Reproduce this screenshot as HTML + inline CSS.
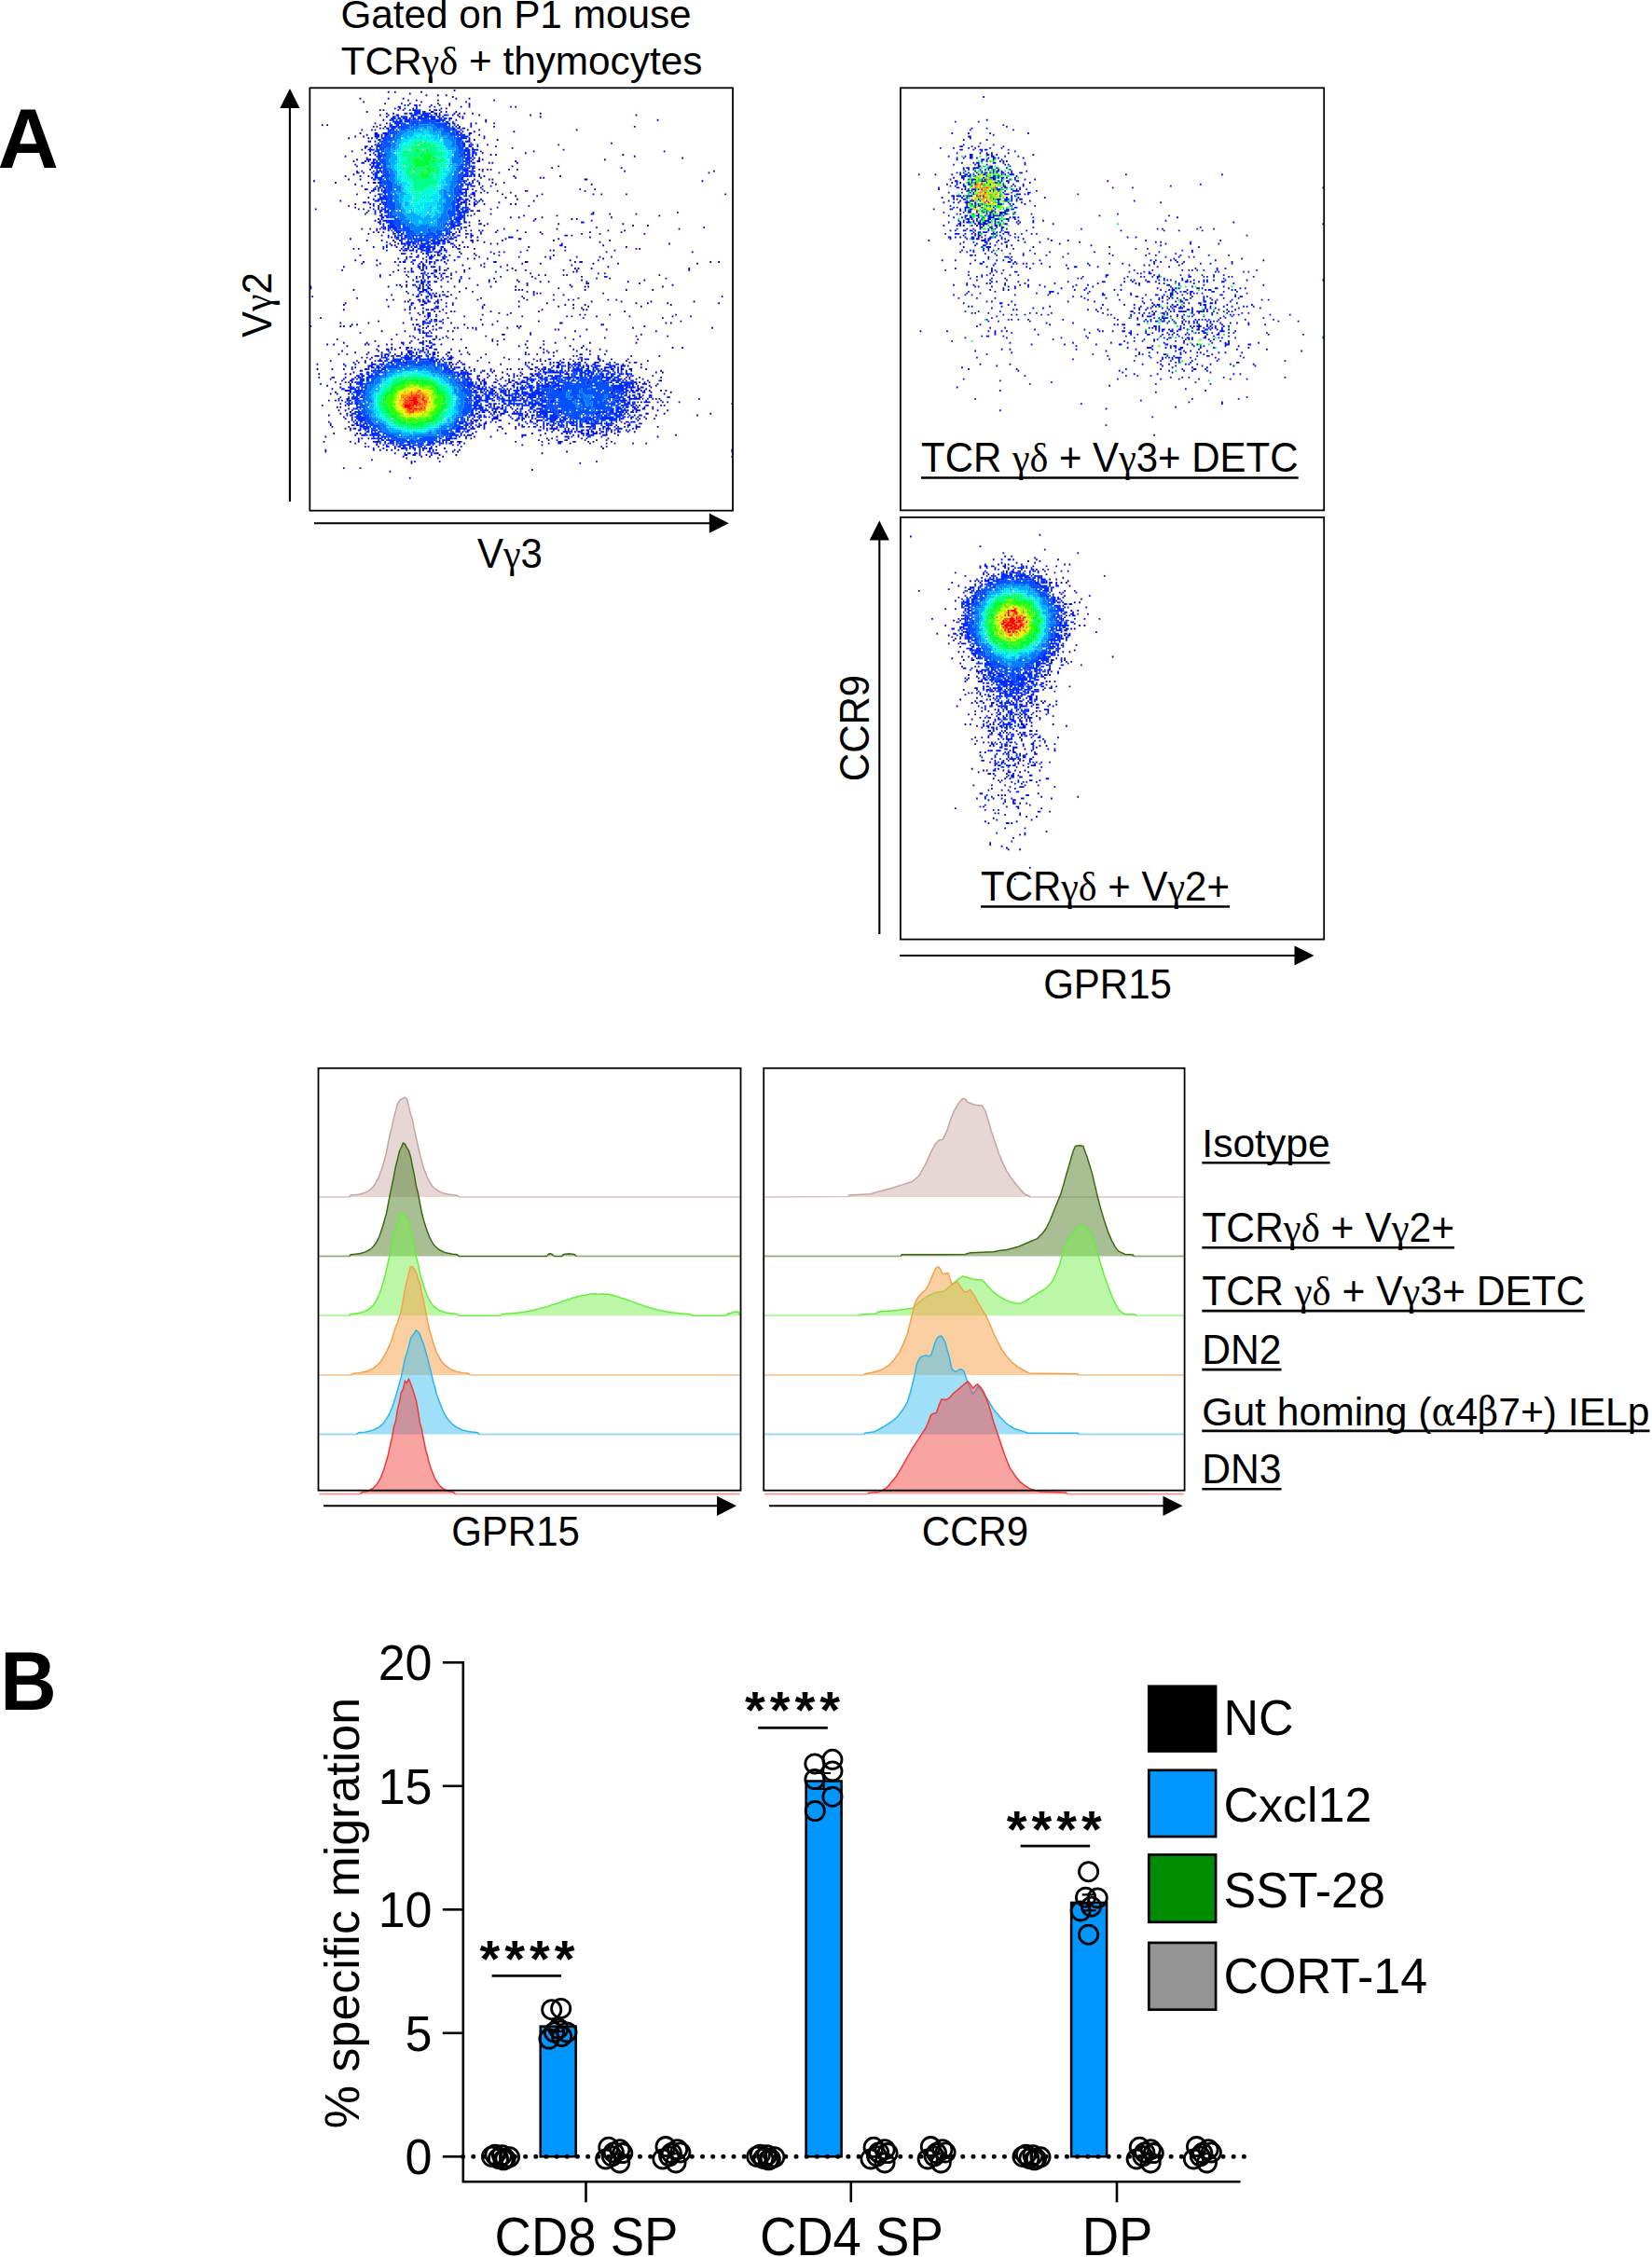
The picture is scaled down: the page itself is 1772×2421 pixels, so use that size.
<!DOCTYPE html>
<html lang="en"><head><meta charset="utf-8"><title>Figure</title>
<style>
html,body{margin:0;padding:0;background:#fff}
svg{display:block}
text{font-family:"Liberation Sans",Arial,sans-serif;fill:#000}
.g{font-family:"Liberation Serif","DejaVu Serif",serif}
.g2{font-family:"DejaVu Serif Condensed","DejaVu Serif","Liberation Serif",serif}
.b{font-weight:bold}
</style></head><body>

<svg width="1772" height="2421" viewBox="0 0 1772 2421">
<rect width="1772" height="2421" fill="#fff"/>
<!-- density plots -->
<g transform="translate(332.50 95.18) scale(1.77227 1.76953)" fill="none" stroke-width="1.06">
<path stroke="#0000be" d="M0 0m87 1h1m-41 1h1m3 0h1m15 0h1m-8 1h1m9 1h1m6 0h1m4 0h1m3 1h1m-57 1h1m16 0h1m8 0h1m31 0h1m7 0h1m-38 1h1m4 0h1m12 0h1m33 0h1m-80 1h1m34 0h1m26 0h1m-50 1h1m9 0h1m4 0h1m16 0h1m6 0h1m-28 1h1m1 0h1m6 0h1m6 0h1m4 0h1m5 0h1m-13 1h1m2 0h1m15 0h1m4 0h1m24 0h1m2 0h1m-74 1h1m5 0h1m21 0h1m2 0h1m-41 1h1m1 0h1m8 0h1m6 0h1m17 0h1m-45 1h1m47 0h1m5 0h1m-43 1h1m3 0h1m6 0h1m29 0h1m2 0h1m2 0h1m4 0h1m40 0h1m-98 1h1m43 0h1m2 0h1m12 0h1m30 0h1m63 0h1m-152 1h1m43 0h1m48 0h1m-96 2h1m43 0h1m17 0h1m103 0h1m-105 1h1m-68 1h1m6 0h1m53 0h1m10 0h1m-105 1h1m2 0h1m31 0h1m-5 1h1m1 0h1m56 0h1m13 0h1m84 0h1m-155 1h1m-12 1h1m5 0h1m1 0h1m55 0h1m6 0h1m58 0h1m-63 1h1m23 0h1m-94 1h1m3 1h1m67 0h1m-76 1h1m4 0h1m-10 1h1m11 0h1m1 0h1m61 1h1m13 0h1m-78 1h1m145 1h1m-76 1h1m42 0h1m-114 1h1m74 0h1m9 1h1m-92 1h1m121 0h1m-129 1h1m109 0h1m78 0h1m-182 1h1m70 0h1m25 0h1m-95 1h1m72 0h1m2 0h1m76 0h1m-169 1h1m174 0h1m-95 1h1m122 0h1m-198 1h1m75 0h1m73 0h1m-153 1h1m6 0h1m90 0h1m-17 1h1m1 0h1m14 0h1m-99 1h1m0 1h1m93 0h1m27 0h1m-5 1h1m41 0h1m-87 1h1m4 0h1m1 0h1m10 0h1m4 0h1m-95 1h1m72 0h1m85 0h1m53 0h1m-131 1h1m126 0h1m-216 1h1m-6 1h1m8 0h1m4 0h1m69 0h1m17 0h1m27 0h1m-115 1h1m65 0h1m20 0h1m14 0h1m1 0h1m-119 1h1m6 0h1m68 0h1m8 0h1m1 0h1m55 0h2m-166 1h1m98 0h1m135 0h1m-223 1h1m19 0h1m74 0h1m6 0h1m-91 1h1m84 0h1m57 0h1m-140 1h1m67 0h1m4 0h1m4 0h1m-7 1h1m-71 1h2m63 0h1m64 0h1m8 0h1m-73 1h1m4 0h1m7 0h1m16 0h1m35 0h1m-131 1h1m66 0h1m3 0h1m13 0h1m-94 1h1m87 0h1m23 0h1m30 0h1m4 0h1m14 0h1m59 0h1m-128 1h1m12 0h1m-103 1h1m61 0h1m20 0h1m-81 1h1m60 0h1m3 0h1m21 0h1m-108 1h1m77 0h1m7 0h1m30 0h1m-103 1h1m1 0h1m78 0h1m-88 1h1m8 0h1m59 0h1m8 0h1m15 0h1m2 0h1m-102 1h1m108 0h1m-106 1h1m8 0h1m76 0h1m-111 1h1m25 0h1m2 0h1m5 0h1m70 0h1m-75 1h1m65 0h2m-69 1h1m187 0h1m-190 1h1m65 0h1m9 0h1m71 0h1m15 0h1m-103 1h1m1 0h1m31 0h1m19 0h1m61 0h1m-91 1h1m4 0h1m13 0h1m41 0h1m-47 1h1m21 0h1m2 0h1m-123 1h1m62 0h1m32 0h1m28 1h1m-58 1h1m42 0h1m38 0h1m-94 1h1m8 0h1m89 0h1m8 0h1m-32 1h1m64 0h1m-208 1h1m4 0h1m52 0h1m27 0h1m31 0h1m73 0h1m-127 1h1m4 0h1m1 0h1m8 0h1m11 0h1m54 0h1m9 0h1m-153 1h1m2 0h1m2 0h1m67 0h1m17 0h1m8 0h1m29 0h1m18 0h1m-154 1h1m58 0h1m45 0h1m23 0h1m10 0h1m26 0h1m-160 1h1m114 0h1m-110 1h1m44 0h1m6 0h1m18 0h1m48 0h1m-146 1h1m93 0h1m7 0h2m22 0h1m-117 1h1m8 0h1m6 0h1m37 0h1m12 0h1m14 0h1m30 0h1m33 0h1m-131 1h1m40 0h1m12 0h1m-58 1h1m4 0h1m55 0h1m3 0h1m103 0h1m-169 1h1m1 0h1m38 0h1m86 0h1m-140 1h1m13 0h1m40 0h1m1 0h1m36 0h1m21 0h1m36 0h1m-166 1h1m2 0h1m69 0h1m97 0h1m1 0h1m-154 1h1m7 0h1m76 0h1m13 0h1m1 0h1m36 0h1m-95 1h1m18 0h1m4 0h1m2 0h1m9 0h1m51 0h1m51 0h1m-141 1h1m7 0h1m11 0h1m-82 1h1m44 0h1m8 0h1m15 0h1m13 0h1m32 0h1m-46 1h1m23 0h1m15 0h1m18 0h1m13 0h1m6 0h1m-130 1h1m14 0h1m26 0h1m3 0h1m7 0h1m37 0h1m31 0h1m-151 1h1m12 0h1m38 0h1m3 0h1m3 0h1m69 0h1m16 0h1m-143 1h1m18 0h1m2 0h1m75 0h2m28 0h1m81 0h1m4 0h1m-217 1h1m10 0h1m19 0h1m42 0h1m22 0h1m10 0h1m31 0h1m14 0h1m47 0h1m-195 1h1m12 0h1m38 0h1m10 0h1m15 0h1m38 0h1m-139 1h1m52 0h1m41 0h1m64 0h1m-124 1h1m25 0h1m12 0h1m25 0h1m37 0h1m1 0h1m7 0h1m58 0h1m-211 1h1m33 0h1m27 0h1m11 0h1m25 0h1m4 0h1m5 0h1m22 0h1m75 0h1m-180 1h1m6 0h1m1 0h1m28 0h1m4 0h1m18 0h1m46 0h1m-82 1h1m6 0h1m47 0h1m40 0h1m3 0h1m-137 1h1m5 0h1m9 0h1m79 0h1m3 0h1m10 0h1m1 0h1m55 0h1m-153 1h1m6 0h1m15 0h1m32 0h1m18 0h1m29 0h1m-88 1h1m2 0h1m4 0h1m10 0h1m14 0h1m24 0h1m36 0h1m7 0h1m33 0h1m-154 1h1m62 0h1m38 0h1m37 0h1m-145 1h1m24 0h1m6 0h1m21 0h1m13 0h1m12 0h1m4 0h1m47 0h1m6 1h1m-148 1h1m1 0h1m3 0h1m3 0h1m38 0h1m29 0h1m25 0h1m61 0h1m-173 1h1m7 0h1m2 0h1m20 0h1m7 0h1m21 0h1m14 0h1m33 0h1m7 0h1m1 0h1m44 0h1m-120 1h1m55 0h1m-125 1h1m46 0h1m50 0h1m1 0h1m1 0h1m37 0h1m24 0h1m15 0h1m-150 1h1m21 0h1m2 0h1m6 0h1m40 0h1m-73 1h1m16 0h1m60 0h1m1 0h1m37 0h1m-129 1h1m12 0h1m22 0h1m49 0h1m11 0h1m5 0h1m-153 1h1m126 0h1m120 0h1m-222 1h1m59 0h1m14 0h1m25 0h1m32 0h1m-117 1h1m3 0h1m9 0h1m18 0h1m21 0h1m29 0h1m15 0h1m8 0h1m23 0h1m4 0h1m-129 1h1m1 0h1m66 0h1m43 0h1m17 0h1m17 0h1m25 0h1m-212 1h1m53 0h1m67 0h1m53 0h1m6 0h1m11 0h1m30 0h1m-228 1h1m84 0h1m48 0h1m4 0h1m6 0h1m51 0h1m-172 1h1m34 0h1m43 0h1m23 0h1m17 0h1m31 0h1m-138 1h1m4 0h1m35 0h1m54 0h1m4 0h1m-145 1h1m36 0h1m13 0h1m8 0h1m59 0h1m24 0h1m1 0h1m-93 1h1m2 0h1m6 0h1m1 0h1m21 0h1m28 0h1m51 0h1m-131 1h1m4 0h1m16 0h1m31 0h1m6 0h1m-56 1h1m9 0h1m27 0h1m14 0h1m43 0h1m2 0h1m14 0h1m39 0h1m-129 1h1m34 0h1m26 0h1m2 0h1m14 0h1m19 0h1m25 0h1m10 0h1m-225 1h1m76 0h1m81 0h1m47 0h1m-150 1h1m38 0h1m-63 1h1m71 0h1m24 0h1m85 0h1m-207 1h1m16 0h1m20 0h1m23 0h1m4 0h1m65 0h1m63 0h1m2 0h1m-194 1h1m2 0h1m33 0h1m13 0h1m16 0h1m10 0h1m5 0h1m65 0h1m-159 1h1m1 0h1m3 0h1m41 0h1m4 0h1m2 0h1m50 0h1m1 0h1m74 0h1m-135 1h1m1 0h1m7 0h1m8 0h1m1 0h1m5 0h1m2 0h1m20 0h1m6 0h1m68 0h1m47 0h1m-181 1h1m12 0h1m71 0h1m1 0h1m16 0h1m11 0h1m-137 1h1m13 0h1m25 0h1m2 0h1m73 0h1m48 0h1m-180 1h1m35 0h1m-15 1h1m63 0h2m82 0h1m-141 1h1m15 0h1m5 0h1m23 0h1m56 0h1m33 0h1m18 0h1m-154 1h1m4 0h1m11 0h1m2 0h1m70 0h1m23 0h1m-163 1h1m32 0h1m15 0h1m12 0h1m7 0h1m4 0h1m18 0h1m6 0h1m41 0h1m38 0h1m-160 1h1m21 0h1m8 0h1m39 0h1m2 0h1m17 0h1m9 0h1m-122 1h1m13 0h1m25 0h1m87 0h1m20 0h1m27 0h1m-188 1h1m3 0h1m18 0h1m1 0h1m10 0h1m2 0h1m29 0h1m33 0h1m16 0h1m10 0h1m-120 1h1m18 0h1m84 0h1m30 0h1m7 0h1m-112 1h1m6 0h1m32 0h1m36 0h1m7 0h1m24 0h1m54 0h1m5 0h1m-186 1h1m10 0h1m33 0h1m55 0h1m17 0h1m7 0h1m7 0h1m-157 1h1m21 0h1m48 0h1m58 0h1m11 0h1m7 0h1m9 0h1m-153 1h1m7 0h1m7 0h1m33 0h1m17 0h1m34 0h1m10 0h1m2 0h1m2 0h1m-131 1h1m4 0h1m11 0h1m16 0h1m30 0h1m8 0h1m4 0h1m9 0h1m25 0h1m4 0h1m31 0h1m8 0h1m-102 1h1m69 0h1m11 0h1m1 0h1m32 0h1m16 0h1m-181 1h1m2 0h1m2 0h1m65 0h1m13 0h1m-82 1h1m83 0h1m5 0h1m8 0h1m3 0h1m13 0h1m3 0h1m24 0h1m9 0h1m-181 1h1m20 0h1m56 0h1m10 0h1m35 0h1m4 0h1m16 0h1m17 0h1m13 0h1m12 0h1m-179 1h1m6 0h1m74 0h1m23 0h1m14 0h1m18 0h1m26 0h1m2 0h1m-193 1h1m15 0h1m6 0h1m87 0h1m18 0h1m5 0h1m59 0h1m-180 1h1m170 0h1m-166 1h1m68 0h1m35 0h1m67 0h1m-197 1h1m8 0h1m6 0h1m88 0h1m9 0h1m1 0h1m4 0h1m1 0h1m74 0h1m-107 1h1m7 0h1m5 0h1m24 0h1m75 0h1m-187 1h1m76 0h1m12 0h1m10 0h1m81 0h1m3 0h1m-209 1h1m15 0h1m2 0h1m82 0h1m11 0h1m8 0h1m-9 1h1m4 0h1m1 0h1m79 0h1m-203 1h1m15 0h1m85 0h1m8 0h1m82 0h1m12 0h1m-193 1h1m94 0h1m81 0h1m3 0h1m-183 1h1m98 0h1m85 0h1m6 0h2m-198 1h1m5 0h1m177 0h1m5 0h1m-200 1h1m11 0h1m95 0h1m95 0h1m-201 1h1m194 0h1m3 0h1m-192 1h1m187 0h1m-194 1h1m189 0h1m1 1h1m6 0h1m2 0h1m-201 1h1m190 0h1m11 0h1m-207 1h1m3 0h1m6 0h1m190 0h1m-197 2h1m188 1h1m1 0h1m1 0h1m23 0h1m-225 1h1m3 0h1m3 0h1m178 1h1m1 0h1m9 0h1m2 0h1m2 0h1m6 0h1m-206 1h1m236 0h1m-249 1h1m13 0h1m190 0h1m1 0h1m-199 1h1m1 0h1m188 0h1m-185 1h1m98 0h1m-106 1h1m3 0h1m188 0h1m5 0h1m-103 1h1m-97 1h1m3 0h1m86 0h1m93 0h1m10 0h1m27 0h1m-232 1h1m108 0h1m75 0h1m3 0h1m8 0h1m24 0h1m-215 1h1m87 0h1m23 0h1m69 0h1m-182 1h1m181 0h1m-193 2h1m11 0h1m85 0h1m10 1h1m69 0h1m-54 1h1m-125 1h1m9 0h1m91 0h1m8 0h1m7 0h1m6 0h1m50 0h1m19 0h1m-190 1h1m94 0h1m42 0h1m-47 1h1m36 0h1m-51 1h1m59 0h1m35 0h1m-183 1h1m13 0h1m1 0h1m87 0h1m15 0h1m49 0h1m-158 1h1m102 0h1m8 0h1m46 0h1m34 0h1m-213 1h1m89 0h1m9 0h1m39 0h1m12 0h1m47 0h1m-180 1h1m3 0h1m61 0h1m45 0h1m2 0h1m17 0h1m15 0h1m-43 1h1m5 0h1m28 0h1m5 0h1m-172 1h1m15 0h1m4 0h1m94 0h1m15 0h1m27 0h1m2 0h1m10 0h1m-156 1h1m65 0h1m50 0h1m12 0h1m11 0h1m9 0h1m4 0h1m10 0h1m7 0h1m-118 1h1m41 0h1m11 0h1m-108 1h1m1 0h1m40 0h1m14 0h1m84 0h1m2 0h1m-99 1h1m95 0h1m-136 1h1m3 0h1m2 0h1m3 0h1m22 0h1m10 0h1m2 0h1m164 0h1m-174 1h1m3 0h1m2 0h1m65 0h1m99 0h1m-196 1h1m79 0h1m-71 1h1m7 0h1m9 0h1m-33 1h1m10 0h1m4 0h1m7 0h1m174 0h1m-198 1h1m18 0h1m-41 1h1m25 1h1m14 0h1m94 0h1m-113 1h1m101 0h1m-144 3h1m9 0h1m103 1h1m-87 1h1m11 4h1"/>
<path stroke="#000feb" d="M0 0m96 9h1m-34 1h2m31 0h1m-44 1h2m9 0h1m-11 1h1m7 0h1m1 0h1m-9 1h1m5 0h2m2 0h1m5 0h1m2 0h2m-8 1h1m3 0h2m4 0h1m-22 1h1m1 0h2m13 0h2m1 0h1m-32 1h1m4 0h2m22 0h1m1 0h1m2 0h2m-33 1h1m4 0h1m2 0h1m2 0h1m15 0h1m2 0h1m11 0h1m-44 1h1m10 0h1m17 0h1m5 0h2m6 0h1m-45 1h1m-1 2h1m48 0h1m-11 1h1m1 0h1m7 0h1m-53 1h1m42 0h1m1 0h1m-47 1h1m1 0h2m41 0h2m1 0h2m-47 1h1m43 0h1m-2 1h1m1 0h1m-54 1h2m3 0h2m45 0h1m4 0h2m-59 1h3m1 0h1m48 0h2m2 0h1m-58 1h3m1 0h1m61 0h1m-66 1h1m55 0h1m8 0h1m-10 1h1m-62 1h1m3 0h1m54 0h3m-56 1h1m55 0h1m-59 1h1m56 0h1m1 0h1m2 0h1m-69 1h2m61 0h2m3 0h1m-69 1h1m2 0h1m61 0h1m-64 1h4m59 0h4m-66 1h1m66 0h1m-66 1h1m61 0h1m-62 1h1m56 0h1m1 0h1m1 0h1m-3 1h1m-65 1h1m64 0h1m-66 1h3m1 0h2m58 0h1m3 0h1m-68 1h1m2 0h1m1 0h1m56 0h1m3 0h2m-72 1h2m4 0h3m58 0h2m-64 1h1m1 0h1m-2 1h2m58 0h1m-61 1h1m58 0h1m1 0h2m-64 1h1m61 0h1m5 0h1m-77 1h1m9 0h1m57 0h2m1 0h1m-72 1h2m2 0h1m4 0h1m60 0h1m-61 1h1m58 0h1m1 0h1m2 0h1m-8 1h1m1 0h1m1 0h1m2 0h1m-65 2h2m55 0h1m2 1h1m-61 1h2m1 0h1m51 0h1m2 0h1m1 0h1m3 0h1m-9 1h1m7 0h1m-63 1h1m51 0h1m4 0h2m-60 1h1m55 0h1m-58 1h2m3 0h1m48 0h4m8 0h1m-68 1h2m4 0h1m50 0h1m36 0h1m-39 1h2m3 0h2m-59 1h2m51 0h1m3 0h2m-61 1h1m54 0h1m1 0h1m2 0h1m-59 2h1m50 0h1m1 0h2m-57 1h3m51 0h2m5 0h1m1 0h1m-71 1h1m58 0h3m5 0h1m1 0h1m-64 1h1m3 0h1m1 0h1m46 0h1m2 0h1m4 0h2m-63 1h1m2 0h1m52 0h1m4 0h1m-59 1h1m1 0h1m51 0h1m-55 1h1m54 0h1m-58 1h1m2 0h2m53 0h2m-60 1h1m2 0h1m2 0h1m49 0h1m75 0h1m-133 1h1m3 0h1m126 0h2m-130 1h2m1 0h1m-3 1h2m48 0h1m-53 1h1m1 0h1m-2 1h1m1 0h2m47 0h1m76 0h1m-130 1h2m50 0h2m1 0h1m68 0h1m-124 1h1m1 0h1m46 0h1m10 0h2m-60 1h1m2 0h1m-5 1h1m1 0h1m45 0h1m1 0h2m-55 1h1m1 0h1m1 0h2m1 0h1m39 0h1m3 0h1m-52 1h1m6 0h1m42 0h1m3 0h1m-7 1h1m1 0h1m12 0h1m-18 1h2m7 0h1m1 0h1m5 0h1m-57 1h1m3 0h1m1 0h1m32 0h1m2 0h2m6 0h2m55 0h2m-109 1h1m3 0h1m31 0h1m3 0h2m8 0h1m23 0h2m-71 1h2m3 0h1m21 0h1m1 0h2m1 0h3m-33 1h1m28 0h1m13 0h2m-53 1h1m8 0h1m27 0h2m13 0h1m76 0h1m-121 1h3m7 0h1m1 0h1m17 0h2m65 0h1m-107 1h1m10 0h1m4 0h1m1 0h1m10 0h1m1 0h1m9 0h1m63 0h2m-109 1h1m1 0h1m9 0h1m2 0h1m1 0h1m1 0h2m8 0h1m1 0h1m3 0h2m5 0h1m1 0h1m-45 1h1m10 0h1m3 0h1m2 0h1m11 0h2m3 0h1m1 0h1m7 0h2m-35 1h3m1 0h3m1 0h1m3 0h2m4 0h1m3 0h2m1 0h2m71 0h1m-91 1h1m2 0h1m4 0h2m2 0h3m-24 1h3m3 0h1m6 0h1m8 0h1m1 0h1m-15 1h1m7 0h1m3 0h2m2 0h1m-24 1h1m1 0h2m2 0h2m4 0h1m1 0h3m5 0h1m1 0h1m6 0h2m54 0h1m-88 1h1m13 0h2m6 0h2m-25 1h1m4 0h2m6 0h1m5 0h2m-22 1h2m3 0h1m5 0h1m2 0h1m1 0h2m1 0h1m5 0h1m29 0h2m50 0h2m-99 1h1m1 0h1m3 0h1m2 0h1m6 0h1m-18 1h1m2 0h2m-5 1h2m1 0h1m1 0h1m3 0h2m2 0h1m26 0h1m-45 1h1m4 0h1m1 0h1m1 0h1m7 0h1m-18 1h1m5 0h2m6 0h2m1 0h1m3 0h1m78 0h1m-101 1h2m12 0h2m84 0h1m-95 1h1m3 0h1m1 0h2m5 0h2m-14 1h1m1 0h1m4 0h1m3 0h1m5 0h1m-44 1h1m21 0h1m3 0h1m2 0h2m2 0h2m2 0h1m3 0h1m7 0h1m86 0h2m-116 1h1m3 0h1m2 0h1m19 0h1m-25 1h1m1 0h1m9 0h1m10 0h1m17 0h1m-45 1h2m1 0h1m3 0h2m2 0h2m31 0h1m58 0h1m-101 1h2m62 0h1m35 0h2m-106 1h1m2 0h1m1 0h1m1 0h1m1 0h1m-73 1h1m63 0h1m1 0h1m1 0h1m2 0h1m-72 1h1m64 0h2m1 0h1m2 0h2m-8 1h1m2 0h3m-5 1h3m1 0h1m27 0h1m36 0h1m-70 1h1m7 0h1m60 0h1m-71 1h1m1 0h1m7 0h1m2 0h1m1 0h2m-18 1h2m4 0h2m1 0h1m1 0h2m1 0h1m3 0h2m-14 1h1m2 0h1m-9 1h2m1 0h1m2 0h1m5 0h1m81 0h1m-94 1h1m1 0h2m1 0h2m3 0h2m-17 1h2m6 0h2m6 0h1m4 0h1m3 0h1m-26 1h1m5 0h2m17 0h1m-27 1h1m15 0h2m26 0h1m-45 1h1m14 0h1m1 0h1m-18 1h1m9 0h1m2 0h2m-7 1h1m-1 1h1m2 0h2m-2 1h2m-4 1h1m1 0h2m3 0h1m-16 1h1m9 0h1m-11 1h1m8 0h1m2 0h1m1 0h2m3 0h1m-13 1h2m6 0h1m1 0h2m-12 1h1m1 0h3m79 0h1m-89 1h2m2 0h1m108 0h1m-178 1h1m62 1h1m15 0h1m20 0h1m-36 1h2m7 0h1m25 0h1m-35 1h1m1 0h1m3 0h1m-5 1h2m1 0h1m1 0h1m59 0h1m-64 1h1m62 0h1m-72 1h1m7 0h4m2 1h1m-3 1h2m-8 1h1m3 0h1m-18 1h2m9 0h3m3 0h2m-18 1h1m11 0h1m5 0h2m-6 1h2m1 0h1m-25 1h1m8 0h2m8 0h1m3 0h2m-28 1h2m1 0h1m8 0h1m4 0h1m1 0h1m2 0h1m1 0h1m4 0h2m-30 1h1m11 0h3m6 0h1m2 0h1m71 0h1m-96 1h1m6 0h1m3 0h2m1 0h1m1 0h1m1 0h1m2 0h1m1 0h1m2 0h2m7 0h2m-42 1h1m1 0h3m7 0h1m2 0h1m1 0h2m2 0h1m7 0h1m1 0h2m54 0h1m32 0h2m-126 1h3m1 0h1m1 0h1m1 0h1m1 0h2m1 0h3m12 0h1m15 0h1m1 0h1m88 0h1m-132 1h1m11 0h1m24 0h1m3 0h3m77 0h1m9 0h1m-133 1h1m4 0h1m28 0h2m1 0h1m1 0h1m1 0h3m58 0h2m16 0h1m1 0h1m1 0h3m5 0h2m-148 1h1m10 0h1m1 0h3m1 0h1m30 0h1m1 0h1m1 0h1m58 0h1m11 0h1m12 0h1m10 0h1m-147 1h1m7 0h1m6 0h1m39 0h2m3 0h1m1 0h1m38 0h1m14 0h1m3 0h2m1 0h2m2 0h1m3 0h1m1 0h2m8 0h3m6 0h1m2 0h1m12 0h1m-161 1h3m2 0h1m41 0h1m1 0h1m1 0h1m3 0h2m36 0h1m14 0h1m4 0h2m4 0h2m1 0h1m7 0h1m3 0h2m6 0h2m5 0h1m2 0h1m-155 1h3m47 0h1m45 0h1m15 0h1m1 0h2m3 0h1m1 0h1m1 0h1m6 0h1m1 0h2m1 0h1m2 0h3m7 0h2m3 0h3m-166 1h1m9 0h1m1 0h2m3 0h1m42 0h1m1 0h1m1 0h2m2 0h1m42 0h2m3 0h2m6 0h2m5 0h1m2 0h1m5 0h1m2 0h1m2 0h1m6 0h3m3 0h1m1 0h1m1 0h1m-164 1h1m7 0h2m58 0h1m5 0h1m33 0h2m3 0h1m1 0h1m3 0h1m7 0h1m3 0h1m14 0h1m4 0h1m5 0h2m2 0h1m1 0h2m3 0h2m-165 1h2m5 0h1m53 0h2m1 0h1m4 0h1m4 0h1m4 0h1m29 0h1m1 0h1m5 0h1m1 0h1m4 0h1m1 0h1m1 0h1m18 0h1m5 0h1m2 0h1m4 0h1m2 0h1m-161 1h2m59 0h1m14 0h1m27 0h1m2 0h3m3 0h4m4 0h1m25 0h1m2 0h1m1 0h1m4 0h1m-162 1h2m63 0h3m25 0h1m9 0h2m1 0h2m1 0h1m2 0h1m8 0h1m2 0h3m32 0h1m1 0h2m1 0h1m-167 1h2m1 0h2m62 0h1m5 0h2m5 0h1m3 0h1m10 0h1m10 0h2m1 0h1m2 0h1m3 0h1m11 0h1m29 0h2m4 0h1m-180 1h2m12 0h1m1 0h2m64 0h2m4 0h1m21 0h1m5 0h3m1 0h1m9 0h1m34 0h1m12 0h1m1 0h1m-182 1h1m12 0h2m1 0h1m72 0h2m2 0h1m6 0h1m7 0h1m5 0h1m4 0h2m3 0h1m53 0h1m2 0h1m-170 1h2m76 0h1m1 0h2m7 0h1m6 0h1m1 0h2m5 0h1m1 0h1m6 0h1m1 0h1m48 0h1m1 0h1m2 0h2m-173 1h1m1 0h1m1 0h1m72 0h1m2 0h1m1 0h2m4 0h2m7 0h2m2 0h2m3 0h1m66 0h2m4 0h1m-179 1h1m75 0h1m2 0h1m1 0h2m12 0h1m3 0h1m1 0h2m56 0h1m11 0h1m1 0h1m3 0h3m-180 1h1m74 0h1m1 0h2m2 0h1m4 0h1m4 0h1m1 0h2m3 0h2m4 0h1m64 0h1m1 0h1m2 0h1m-176 1h1m2 0h1m1 0h1m70 0h1m2 0h1m1 0h1m1 0h1m1 0h1m2 0h2m3 0h1m6 0h1m1 0h1m5 0h1m3 0h1m57 0h4m1 0h1m1 0h2m-183 1h2m77 0h1m2 0h4m4 0h2m3 0h1m4 0h1m1 0h1m3 0h1m68 0h1m3 0h2m-179 1h3m79 0h1m3 0h1m2 0h2m6 0h1m1 0h1m12 0h1m60 0h2m1 0h2m1 0h1m1 0h1m-179 1h1m78 0h2m1 0h1m5 0h1m2 0h1m4 0h1m7 0h2m63 0h1m1 0h2m4 0h2m-92 1h1m1 0h1m3 0h2m3 0h1m5 0h1m69 0h2m-96 1h1m5 0h1m1 0h1m2 0h1m2 0h2m7 0h1m1 0h1m63 0h1m1 0h2m2 0h1m1 0h1m3 0h2m-184 1h1m79 0h1m7 0h1m8 0h1m7 0h1m63 0h2m3 0h1m1 0h2m5 0h1m9 0h2m-201 1h1m4 0h2m104 0h2m63 0h7m4 0h1m-188 1h1m4 0h1m1 0h1m79 0h1m5 0h2m14 0h2m63 0h1m1 0h1m9 0h1m8 0h1m-192 1h1m3 0h1m170 0h1m5 0h4m-184 1h1m85 0h2m1 0h2m1 0h1m2 0h2m5 0h2m-103 1h1m4 0h1m77 0h2m1 0h1m1 0h1m4 0h1m6 0h1m1 0h1m3 0h1m67 0h1m1 0h1m3 0h2m-97 1h1m2 0h1m1 0h2m1 0h1m1 0h1m2 0h1m11 0h1m57 0h2m2 0h2m1 0h1m3 0h1m-177 1h1m79 0h1m5 0h2m1 0h2m8 0h1m7 0h2m2 0h4m55 0h2m3 0h2m4 0h1m-183 1h1m74 0h1m6 0h1m2 0h1m1 0h1m11 0h1m67 0h1m2 0h1m1 0h3m-176 1h1m2 0h1m74 0h1m1 0h2m2 0h1m2 0h2m6 0h1m3 0h1m1 0h1m4 0h1m4 0h1m55 0h1m2 0h2m1 0h1m-98 1h2m9 0h1m3 0h3m4 0h4m5 0h1m58 0h1m1 0h1m11 0h1m-183 1h1m1 0h1m74 0h1m5 0h1m4 0h1m2 0h1m1 0h1m14 0h2m2 0h2m53 0h1m3 0h1m5 0h1m-175 1h1m1 0h1m68 0h1m2 0h1m1 0h1m3 0h2m4 0h3m7 0h1m4 0h1m1 0h1m1 0h1m3 0h1m2 0h4m49 0h1m1 0h1m1 0h2m2 0h1m-174 1h1m69 0h1m2 0h1m11 0h4m8 0h1m3 0h1m1 0h2m4 0h1m1 0h1m51 0h2m4 0h1m2 0h1m1 0h1m8 0h1m-184 1h1m1 0h1m67 0h1m1 0h1m1 0h3m1 0h1m6 0h1m3 0h2m8 0h2m2 0h1m4 0h1m3 0h4m6 0h2m38 0h1m10 0h1m-173 1h1m1 0h1m68 0h2m1 0h1m5 0h1m5 0h1m17 0h1m2 0h2m2 0h1m3 0h1m11 0h1m31 0h1m2 0h1m2 0h2m1 0h3m-185 1h1m14 0h2m1 0h1m65 0h1m1 0h1m3 0h1m2 0h2m19 0h1m4 0h1m4 0h1m4 0h1m1 0h2m3 0h1m1 0h1m4 0h1m18 0h1m3 0h1m4 0h1m9 0h1m5 0h2m-189 1h1m12 0h2m1 0h2m67 0h1m2 0h1m2 0h1m1 0h1m20 0h1m1 0h1m12 0h1m1 0h1m1 0h1m4 0h1m2 0h1m4 0h2m16 0h1m4 0h2m2 0h1m6 0h2m3 0h1m-102 1h1m1 0h1m2 0h2m2 0h1m8 0h1m13 0h2m5 0h2m4 0h1m4 0h1m2 0h1m3 0h1m7 0h1m5 0h2m3 0h1m4 0h1m2 0h1m3 0h1m1 0h1m5 0h1m4 0h3m-176 1h1m1 0h2m2 0h1m66 0h3m5 0h1m18 0h1m16 0h1m1 0h1m1 0h5m4 0h1m1 0h1m4 0h1m7 0h1m1 0h2m2 0h1m1 0h1m1 0h3m3 0h1m1 0h2m6 0h1m1 0h1m-174 1h1m4 0h2m64 0h2m41 0h2m3 0h1m3 0h1m6 0h1m1 0h1m1 0h1m2 0h1m2 0h2m1 0h2m1 0h1m4 0h1m3 0h1m2 0h1m1 0h1m1 0h1m4 0h1m1 0h1m-160 1h2m56 0h1m2 0h1m50 0h1m6 0h3m2 0h1m3 0h3m3 0h1m1 0h2m1 0h1m2 0h2m1 0h1m2 0h1m3 0h2m4 0h1m-160 1h1m57 0h1m6 0h1m43 0h1m9 0h1m2 0h1m8 0h2m1 0h2m2 0h3m1 0h1m3 0h1m-149 1h2m1 0h1m1 0h1m54 0h1m1 0h1m1 0h3m30 0h2m29 0h1m2 0h1m2 0h1m1 0h1m2 0h2m5 0h3m-90 1h1m3 0h1m33 0h1m25 0h3m1 0h1m9 0h1m7 0h1m-148 1h1m7 0h1m2 0h1m46 0h2m5 0h1m61 0h1m10 0h1m-139 1h1m11 0h1m38 0h2m67 0h1m4 0h2m10 0h1m-129 1h4m3 0h1m34 0h1m1 0h1m2 0h2m2 0h3m58 0h3m6 0h2m-128 1h1m6 0h1m4 0h1m1 0h1m32 0h1m1 0h1m1 0h2m4 0h1m59 0h2m-112 1h1m3 0h1m1 0h1m3 0h1m27 0h1m10 0h1m-49 1h1m4 0h2m3 0h1m1 0h2m18 0h1m-36 1h1m5 0h1m6 0h1m3 0h2m3 0h1m2 0h1m4 0h1m1 0h1m1 0h2m-65 1h1m28 0h1m19 0h1m4 0h1m2 0h1m1 0h1m3 0h1m1 0h1m-66 1h1m56 0h1m4 0h2m1 0h1m-24 1h1m5 0h1m1 0h1m3 0h2m1 0h1m6 0h1m1 0h3m-21 1h2m3 0h2m2 0h1m6 0h1m-13 4h1"/>
<path stroke="#002dff" d="M0 0m64 13h2m-3 1h4m1 0h1m-6 1h4m1 0h5m-12 1h4m2 0h5m1 0h1m9 0h1m-33 1h1m1 0h1m2 0h2m4 0h1m2 0h3m1 0h7m2 0h1m-29 1h2m1 0h2m1 0h3m3 0h2m1 0h6m2 0h3m3 0h1m1 0h2m-34 1h2m1 0h1m1 0h2m1 0h4m1 0h3m2 0h1m5 0h9m2 0h1m-35 1h6m1 0h4m5 0h1m9 0h3m1 0h1m1 0h2m2 0h1m-36 1h5m4 0h1m20 0h4m1 0h2m-40 1h2m2 0h2m1 0h1m25 0h2m1 0h1m-37 1h5m33 0h1m-38 1h3m33 0h3m-40 1h3m1 0h1m33 0h3m-42 1h2m1 0h1m37 0h2m-44 1h2m40 0h2m-45 1h3m41 0h3m-47 1h2m42 0h1m1 0h5m-53 1h3m43 0h6m-54 1h2m47 0h2m-50 1h1m49 0h1m-50 1h1m47 0h3m-54 1h5m47 0h2m3 0h1m-58 1h3m49 0h2m-54 1h1m53 0h2m-56 1h2m51 0h4m-58 1h3m51 0h4m1 0h2m-59 1h2m49 0h2m1 0h2m1 0h2m-59 1h2m50 0h3m-56 1h4m49 0h1m1 0h2m-56 1h2m51 0h4m-57 1h1m52 0h3m-1 1h1m-57 1h3m51 0h3m-57 1h3m51 0h1m1 0h1m-58 1h3m1 0h1m50 0h1m1 0h1m1 0h2m-61 1h5m49 0h1m1 0h1m-56 1h1m1 0h1m49 0h4m-56 1h4m49 0h3m2 0h1m-60 1h3m1 0h1m50 0h2m1 0h1m-59 1h2m3 0h2m47 0h3m2 0h1m-60 1h2m2 0h2m47 0h3m1 0h1m-58 1h5m47 0h2m-52 1h3m47 0h2m-51 1h1m49 0h3m-53 1h2m-2 1h1m48 0h2m2 0h3m-56 1h3m1 0h1m43 0h2m3 0h1m-55 1h2m1 0h3m44 0h1m-51 1h1m3 0h1m43 0h1m1 0h1m-51 1h1m2 0h2m43 0h3m-48 1h3m43 0h3m-50 1h1m1 0h1m45 0h2m4 0h1m-56 1h1m1 0h3m46 0h1m-52 1h5m43 0h2m-50 1h6m40 0h4m-49 1h1m2 0h1m41 0h3m-48 1h4m42 0h1m4 0h1m-50 1h2m42 0h2m-46 1h1m42 0h3m-46 1h1m42 0h3m1 0h3m-52 1h3m1 0h1m40 0h2m1 0h2m1 0h2m-51 1h3m40 0h3m1 0h4m-50 1h2m41 0h6m-48 1h1m42 0h2m1 0h1m-48 1h2m42 0h4m-48 1h2m40 0h5m-6 1h5m1 0h1m-48 1h5m34 0h2m1 0h3m-45 1h5m34 0h2m2 0h2m-43 1h3m33 0h4m2 0h1m-43 1h4m31 0h1m1 0h6m-47 1h1m2 0h6m32 0h3m-40 1h1m1 0h3m32 0h1m-37 1h1m1 0h5m28 0h1m-35 1h1m1 0h3m1 0h1m27 0h2m-36 1h2m1 0h1m1 0h2m23 0h1m1 0h3m-31 1h2m1 0h2m2 0h2m18 0h2m1 0h1m-33 1h2m1 0h1m1 0h2m3 0h1m9 0h2m4 0h1m1 0h1m4 0h1m-31 1h2m2 0h1m2 0h2m6 0h1m5 0h2m-23 1h1m3 0h1m1 0h1m1 0h1m1 0h3m5 0h3m1 0h5m-24 1h6m1 0h1m1 0h1m2 0h3m1 0h5m1 0h2m-24 1h3m1 0h2m4 0h4m1 0h6m1 0h2m-23 1h2m5 0h4m1 0h2m-7 1h7m1 0h1m-18 1h2m6 0h4m1 0h3m-6 1h1m2 0h3m-3 1h2m3 0h1m6 0h1m-13 1h2m-1 1h1m9 1h1m-13 9h1m-2 1h2m-2 5h2m1 1h1m-1 5h1m-1 1h2m-1 1h2m2 8h1m-5 8h2m1 0h1m-7 1h1m0 6h1m-5 11h2m-7 1h1m8 1h1m-14 1h3m1 0h3m1 0h2m3 0h2m2 0h1m-31 1h3m3 0h1m5 0h6m2 0h3m4 0h1m1 0h3m87 0h1m-118 1h1m3 0h6m1 0h5m1 0h2m1 0h9m-29 1h1m2 0h6m1 0h1m1 0h1m5 0h1m1 0h1m5 0h4m-29 1h3m1 0h1m4 0h3m15 0h2m1 0h2m2 0h1m-39 1h2m1 0h1m2 0h2m6 0h2m16 0h1m3 0h2m79 0h4m17 0h1m3 0h1m-146 1h2m1 0h1m1 0h1m34 0h2m1 0h1m68 0h2m6 0h1m1 0h2m8 0h1m8 0h2m-143 1h2m2 0h2m35 0h3m4 0h1m57 0h1m5 0h1m4 0h1m3 0h2m1 0h1m7 0h2m7 0h2m-148 1h1m3 0h1m1 0h1m1 0h3m35 0h4m1 0h2m53 0h2m2 0h1m13 0h6m2 0h2m4 0h2m3 0h1m-141 1h2m1 0h3m40 0h3m57 0h3m4 0h2m6 0h6m1 0h4m1 0h2m1 0h2m2 0h3m7 0h1m-151 1h1m2 0h2m40 0h3m1 0h3m1 0h4m49 0h3m4 0h3m5 0h1m1 0h1m1 0h4m1 0h4m2 0h1m1 0h1m3 0h1m7 0h1m-155 1h2m1 0h1m49 0h1m1 0h6m43 0h1m19 0h1m2 0h1m1 0h2m1 0h3m1 0h2m1 0h1m1 0h3m1 0h2m1 0h3m2 0h2m4 0h1m-159 1h4m50 0h2m1 0h2m44 0h1m6 0h2m1 0h5m5 0h1m4 0h2m1 0h1m1 0h3m1 0h1m3 0h2m1 0h1m2 0h2m10 0h2m-165 1h1m2 0h4m51 0h1m3 0h1m44 0h3m1 0h1m3 0h4m1 0h1m1 0h6m1 0h3m3 0h2m1 0h2m5 0h2m1 0h4m1 0h3m-157 1h3m1 0h2m57 0h5m35 0h3m3 0h5m1 0h5m2 0h1m2 0h3m1 0h1m1 0h2m5 0h3m5 0h1m2 0h3m1 0h2m1 0h3m-159 1h3m1 0h2m58 0h2m1 0h1m30 0h1m4 0h3m6 0h2m3 0h1m1 0h2m1 0h3m1 0h1m1 0h3m7 0h1m7 0h5m1 0h6m-160 1h4m63 0h4m28 0h2m1 0h2m2 0h1m2 0h1m1 0h1m2 0h1m1 0h5m1 0h1m4 0h2m10 0h2m8 0h2m2 0h2m2 0h2m1 0h8m-168 1h6m58 0h2m1 0h4m28 0h1m3 0h2m4 0h2m1 0h1m1 0h3m1 0h1m1 0h3m8 0h1m7 0h2m18 0h2m1 0h5m-165 1h2m61 0h6m31 0h1m1 0h3m2 0h9m1 0h7m28 0h11m-169 1h2m3 0h1m1 0h2m62 0h3m2 0h2m25 0h3m2 0h3m2 0h2m1 0h5m2 0h2m1 0h1m1 0h1m30 0h7m1 0h2m-169 1h4m1 0h1m1 0h1m64 0h1m8 0h2m8 0h1m1 0h1m9 0h4m2 0h2m2 0h3m9 0h4m30 0h9m-168 1h1m2 0h5m64 0h2m1 0h2m4 0h1m3 0h1m5 0h3m5 0h4m1 0h1m5 0h1m1 0h3m6 0h1m4 0h3m30 0h2m2 0h3m1 0h2m-167 1h5m67 0h4m6 0h3m5 0h3m5 0h2m4 0h2m2 0h8m1 0h1m1 0h1m36 0h2m1 0h2m2 0h3m-167 1h1m2 0h3m69 0h1m4 0h2m1 0h3m9 0h1m2 0h4m2 0h15m37 0h3m4 0h2m1 0h1m-166 1h1m1 0h2m1 0h1m66 0h1m1 0h3m3 0h3m4 0h1m6 0h3m1 0h1m1 0h1m3 0h1m1 0h5m1 0h3m2 0h1m39 0h4m1 0h1m1 0h2m-167 1h4m1 0h2m67 0h4m3 0h3m4 0h2m1 0h1m5 0h5m4 0h6m1 0h1m1 0h1m1 0h1m39 0h3m1 0h4m6 0h1m8 0h1m-181 1h5m66 0h2m1 0h2m1 0h2m2 0h5m2 0h1m1 0h3m2 0h1m1 0h3m2 0h1m3 0h1m1 0h2m2 0h1m1 0h2m1 0h1m4 0h1m33 0h1m1 0h1m3 0h1m1 0h2m10 0h1m-179 1h1m3 0h2m69 0h1m1 0h4m1 0h3m6 0h1m1 0h10m3 0h3m2 0h3m2 0h5m1 0h4m1 0h1m30 0h1m2 0h7m-168 1h1m3 0h2m67 0h1m2 0h4m3 0h2m8 0h2m2 0h2m1 0h1m5 0h2m1 0h3m1 0h3m1 0h3m2 0h3m37 0h2m1 0h3m1 0h2m1 0h1m-173 1h3m1 0h3m65 0h1m3 0h3m1 0h1m16 0h4m2 0h3m1 0h1m1 0h9m2 0h1m2 0h1m33 0h2m5 0h1m2 0h4m1 0h2m-103 1h1m3 0h6m15 0h2m5 0h1m1 0h1m1 0h3m1 0h3m1 0h6m38 0h1m1 0h1m3 0h5m1 0h2m-168 1h3m68 0h2m1 0h3m4 0h1m18 0h1m5 0h2m4 0h3m5 0h2m35 0h3m1 0h1m-163 1h2m1 0h1m67 0h7m5 0h2m6 0h1m8 0h2m13 0h1m2 0h1m3 0h1m32 0h2m1 0h4m1 0h1m-162 1h1m67 0h2m4 0h4m10 0h2m8 0h1m4 0h1m2 0h2m2 0h4m2 0h1m4 0h2m5 0h1m17 0h1m3 0h1m1 0h3m1 0h2m1 0h4m-164 1h3m66 0h2m18 0h2m8 0h1m5 0h1m3 0h11m2 0h3m5 0h1m15 0h6m1 0h3m1 0h5m-165 1h3m1 0h3m65 0h2m27 0h3m8 0h1m1 0h5m3 0h2m1 0h1m1 0h1m4 0h1m6 0h1m7 0h4m1 0h1m4 0h4m1 0h2m-164 1h1m2 0h3m65 0h3m3 0h2m22 0h3m8 0h3m1 0h3m1 0h5m1 0h1m2 0h2m7 0h1m1 0h1m2 0h1m1 0h1m2 0h1m2 0h1m1 0h2m4 0h5m-161 1h5m62 0h1m6 0h2m37 0h3m1 0h6m1 0h3m1 0h1m12 0h1m1 0h2m3 0h8m1 0h3m1 0h1m-162 1h5m60 0h1m8 0h1m22 0h1m15 0h1m1 0h7m1 0h1m1 0h3m1 0h2m10 0h3m3 0h11m1 0h1m-159 1h5m59 0h1m48 0h2m1 0h2m4 0h4m2 0h1m1 0h1m1 0h1m1 0h2m1 0h2m3 0h2m1 0h1m1 0h3m2 0h5m-156 1h2m1 0h1m56 0h5m50 0h3m1 0h4m2 0h7m1 0h1m2 0h3m1 0h1m1 0h3m1 0h1m2 0h1m2 0h1m-151 1h3m55 0h3m1 0h2m1 0h1m37 0h1m11 0h1m4 0h1m4 0h3m1 0h1m1 0h2m2 0h7m1 0h2m2 0h4m-153 1h3m1 0h1m58 0h3m6 0h1m43 0h2m3 0h2m2 0h1m4 0h2m1 0h2m5 0h3m6 0h2m-151 1h6m53 0h4m1 0h1m56 0h2m2 0h1m7 0h3m3 0h3m6 0h1m-147 1h4m1 0h1m3 0h1m46 0h7m91 0h1m-154 1h1m1 0h1m1 0h4m47 0h3m2 0h1m86 0h1m-144 1h1m1 0h1m1 0h1m44 0h1m1 0h3m3 0h1m61 0h2m-121 1h5m43 0h3m69 0h1m-125 1h1m3 0h6m41 0h6m78 0h2m-132 1h1m2 0h1m1 0h4m35 0h1m1 0h2m2 0h1m80 0h1m-132 1h2m1 0h3m1 0h1m1 0h1m34 0h5m-44 1h2m1 0h6m24 0h1m1 0h1m3 0h3m-43 1h1m5 0h3m1 0h2m4 0h3m5 0h1m2 0h1m1 0h4m1 0h3m-37 1h1m5 0h3m1 0h1m1 0h1m4 0h2m10 0h5m2 0h2m-28 1h1m1 0h7m1 0h3m3 0h1m1 0h3m1 0h1m-19 1h2m2 0h3m2 0h3m1 0h1m-13 1h2m3 0h1m3 0h1m2 0h1"/>
<path stroke="#0050ff" d="M0 0m71 18h1m-11 1h1m3 0h1m2 0h5m-12 1h5m1 0h9m-20 1h2m3 0h11m1 0h8m-25 1h7m1 0h2m9 0h6m-28 1h7m1 0h1m14 0h9m-32 1h8m16 0h2m1 0h5m-30 1h3m23 0h5m-37 1h1m1 0h3m27 0h4m1 0h2m-40 1h5m31 0h4m-40 1h1m1 0h2m32 0h5m-42 1h2m1 0h2m33 0h1m1 0h1m-42 1h5m36 0h2m-45 1h6m38 0h2m-47 1h4m1 0h1m39 0h4m-48 1h5m39 0h3m-46 1h5m38 0h4m-49 1h6m40 0h3m-50 1h4m44 0h3m-51 1h3m45 0h3m-50 1h2m45 0h3m-50 1h1m1 0h2m43 0h2m-49 1h4m44 0h2m-49 1h2m43 0h4m-49 1h1m45 0h1m1 0h2m-52 1h4m46 0h1m-51 1h4m46 0h4m-53 1h3m46 0h1m-49 1h2m45 0h3m1 0h1m-52 1h2m44 0h3m-49 1h3m43 0h3m1 0h1m-51 1h3m43 0h2m-48 1h4m42 0h1m1 0h1m-49 1h4m43 0h2m-47 1h4m39 0h4m-48 1h4m40 0h3m-47 1h3m41 0h2m-47 1h1m1 0h2m41 0h2m-48 1h6m38 0h5m-48 1h6m39 0h3m-49 1h7m39 0h1m-43 1h3m38 0h2m-43 1h3m37 0h4m-45 1h4m37 0h2m1 0h1m-45 1h4m37 0h2m-42 1h2m38 0h3m-43 1h3m37 0h4m-44 1h4m37 0h3m-44 1h3m37 0h2m-41 1h2m37 0h1m-41 1h3m36 0h2m-41 1h5m33 0h4m-42 1h5m33 0h3m-42 1h6m34 0h2m-42 1h6m34 0h2m-40 1h5m31 0h1m1 0h2m-39 1h2m32 0h5m-40 1h2m33 0h5m-40 1h2m2 0h1m30 0h7m-42 1h5m31 0h4m1 0h1m-42 1h4m1 0h1m30 0h2m1 0h1m-37 1h3m30 0h2m-35 1h5m22 0h2m3 0h1m-33 1h4m1 0h1m25 0h1m1 0h1m2 0h2m-38 1h7m21 0h1m1 0h3m5 0h1m-38 1h3m1 0h2m2 0h1m18 0h1m1 0h1m-29 1h2m1 0h5m21 0h1m1 0h1m-32 1h8m10 0h2m4 0h1m3 0h4m-29 1h7m8 0h2m3 0h8m-26 1h5m9 0h3m1 0h4m2 0h2m-26 1h6m2 0h2m2 0h6m1 0h3m-21 1h2m2 0h18m-22 1h3m2 0h1m1 0h2m1 0h3m2 0h4m-18 1h2m2 0h6m1 0h2m1 0h2m-12 1h1m3 0h4m-8 1h1m-6 72h5m3 0h5m-20 1h4m3 0h5m1 0h9m8 0h1m-36 1h1m4 0h5m2 0h16m2 0h2m2 0h2m-37 1h8m1 0h4m1 0h1m2 0h5m2 0h2m2 0h2m1 0h3m2 0h1m-37 1h9m20 0h3m1 0h1m-5 1h2m2 0h1m-40 1h1m4 0h2m28 0h1m1 0h1m2 0h4m-45 1h2m2 0h3m33 0h4m3 0h1m73 0h1m-122 1h3m3 0h1m36 0h5m72 0h2m-122 1h4m2 0h1m40 0h3m70 0h2m12 0h3m-138 1h3m45 0h2m3 0h2m57 0h1m8 0h1m3 0h3m5 0h5m-139 1h3m48 0h3m1 0h1m57 0h2m2 0h1m8 0h5m3 0h5m-139 1h2m48 0h2m1 0h1m1 0h2m57 0h1m10 0h6m1 0h5m1 0h1m-142 1h5m49 0h7m56 0h4m2 0h2m2 0h2m1 0h3m2 0h8m2 0h2m-147 1h5m50 0h3m2 0h1m52 0h1m5 0h6m1 0h7m2 0h2m1 0h9m-148 1h2m56 0h2m53 0h1m7 0h27m-148 1h2m57 0h2m51 0h2m6 0h18m2 0h10m-150 1h2m57 0h4m44 0h8m5 0h11m1 0h3m2 0h13m-151 1h2m57 0h5m44 0h5m1 0h4m3 0h3m2 0h5m2 0h8m1 0h3m1 0h5m2 0h2m-156 1h3m59 0h5m46 0h1m1 0h9m3 0h5m2 0h11m1 0h4m3 0h1m2 0h2m-157 1h3m58 0h5m46 0h11m2 0h8m1 0h15m3 0h1m1 0h2m-156 1h2m61 0h3m43 0h1m2 0h11m2 0h5m1 0h2m2 0h1m3 0h7m2 0h3m-151 1h1m61 0h1m1 0h2m43 0h1m1 0h12m4 0h4m1 0h1m5 0h1m1 0h6m2 0h2m3 0h1m-154 1h1m60 0h3m18 0h1m23 0h1m2 0h1m2 0h3m1 0h1m1 0h6m2 0h8m4 0h8m1 0h2m3 0h3m-158 1h4m60 0h5m39 0h1m6 0h1m6 0h9m1 0h1m1 0h3m3 0h8m1 0h2m3 0h1m-155 1h2m1 0h1m61 0h2m1 0h1m45 0h2m3 0h11m2 0h6m2 0h1m1 0h3m1 0h6m1 0h3m-155 1h2m1 0h1m59 0h2m1 0h2m46 0h2m2 0h1m1 0h10m4 0h3m4 0h9m2 0h3m1 0h1m-157 1h3m60 0h1m1 0h3m46 0h17m1 0h2m1 0h2m2 0h1m1 0h8m1 0h1m2 0h1m1 0h2m-156 1h2m60 0h5m45 0h5m2 0h11m2 0h20m-151 1h2m58 0h6m45 0h2m1 0h3m3 0h12m1 0h1m1 0h3m2 0h10m-151 1h3m58 0h5m46 0h1m2 0h4m2 0h5m1 0h3m1 0h7m3 0h1m1 0h1m2 0h2m1 0h1m-150 1h4m56 0h6m51 0h2m3 0h1m1 0h2m2 0h15m-142 1h2m1 0h1m56 0h4m53 0h1m3 0h4m1 0h6m2 0h6m7 0h3m-150 1h4m56 0h3m55 0h1m5 0h7m4 0h1m3 0h1m2 0h2m4 0h2m-149 1h3m53 0h4m64 0h7m1 0h4m4 0h3m-143 1h4m52 0h1m1 0h2m66 0h10m4 0h2m-141 1h3m1 0h1m49 0h2m1 0h2m72 0h1m2 0h3m2 0h1m-140 1h4m49 0h3m74 0h2m5 0h1m-137 1h4m48 0h2m-53 1h6m45 0h4m-55 1h1m1 0h5m43 0h3m-51 1h2m2 0h2m41 0h3m-46 1h1m36 0h7m-44 1h3m34 0h5m1 0h1m-42 1h3m32 0h6m-41 1h1m1 0h5m27 0h1m1 0h4m-37 1h6m15 0h11m1 0h1m2 0h1m-35 1h9m3 0h1m4 0h11m1 0h2m-28 1h7m1 0h3m1 0h12m-22 1h4m3 0h5m1 0h2m-16 1h1m1 0h2m4 0h3m1 0h4m-4 1h3"/>
<path stroke="#007dff" d="M0 0m72 21h1m-10 1h1m2 0h9m-15 1h1m1 0h9m2 0h3m-15 1h5m3 0h2m3 0h3m2 0h1m-26 1h1m3 0h5m1 0h1m9 0h7m-27 1h5m3 0h1m11 0h2m1 0h1m1 0h2m-28 1h4m3 0h1m18 0h5m-32 1h4m23 0h5m-32 1h3m25 0h1m2 0h2m1 0h1m-36 1h4m26 0h6m-37 1h3m31 0h4m-41 1h1m1 0h1m1 0h2m32 0h3m-39 1h3m34 0h2m-38 1h3m32 0h3m-39 1h3m33 0h4m-43 1h6m36 0h2m-45 1h4m2 0h1m36 0h2m-45 1h4m38 0h3m-43 1h3m37 0h3m-43 1h2m38 0h4m-45 1h4m37 0h2m-44 1h4m37 0h4m1 0h1m-46 1h2m38 0h6m-46 1h2m38 0h6m-46 1h3m37 0h6m-46 1h3m40 0h2m-45 1h1m1 0h1m38 0h3m-43 1h2m39 0h2m-43 1h3m38 0h2m-42 1h3m36 0h3m-42 1h3m36 0h3m-40 1h2m35 0h2m-40 1h3m34 0h3m-41 1h3m35 0h3m-41 1h4m34 0h3m-40 1h3m32 0h3m-37 1h1m1 0h1m32 0h4m-39 1h3m32 0h4m-39 1h5m29 0h4m-38 1h6m28 0h3m-37 1h1m1 0h3m26 0h1m2 0h3m-37 1h5m25 0h3m1 0h3m-38 1h3m2 0h1m26 0h6m-36 1h2m28 0h2m1 0h3m-36 1h3m27 0h3m1 0h3m-38 1h4m27 0h6m-37 1h3m29 0h5m-36 1h3m28 0h4m-34 1h2m28 0h3m-33 1h3m25 0h5m-33 1h3m26 0h5m-34 1h3m26 0h5m-33 1h3m25 0h3m1 0h1m-35 1h1m1 0h1m1 0h1m25 0h2m-33 1h6m24 0h3m-33 1h2m1 0h4m22 0h4m-30 1h5m21 0h5m-30 1h5m19 0h6m-30 1h4m3 0h1m15 0h7m-28 1h5m16 0h1m2 0h3m-28 1h1m1 0h3m1 0h1m15 0h5m-24 1h5m7 0h2m2 0h1m2 0h2m1 0h1m-23 1h2m1 0h3m2 0h6m3 0h1m1 0h2m1 0h1m-20 1h21m-21 1h10m2 0h4m1 0h3m-18 1h8m2 0h3m-13 1h4m1 0h4m3 0h1m-12 1h2m2 0h2m6 0h1m-16 80h2m5 0h2m2 0h2m-19 1h20m3 0h1m-32 1h9m1 0h4m4 0h3m2 0h5m2 0h2m-31 1h3m3 0h1m18 0h2m1 0h1m1 0h2m-34 1h5m22 0h6m-35 1h1m1 0h1m31 0h4m-39 1h2m1 0h1m32 0h1m1 0h5m-45 1h5m36 0h2m1 0h1m-46 1h3m40 0h5m-49 1h4m41 0h3m2 0h1m-51 1h4m41 0h4m-49 1h2m45 0h3m-54 1h5m46 0h5m-56 1h4m48 0h1m1 0h3m-57 1h3m49 0h2m1 0h2m72 0h1m3 0h2m-136 1h3m50 0h2m1 0h1m66 0h1m5 0h2m-131 1h2m51 0h2m1 0h3m62 0h3m5 0h2m-130 1h3m50 0h5m62 0h2m8 0h1m-132 1h3m52 0h6m60 0h2m5 0h1m2 0h2m1 0h3m7 0h2m-147 1h3m54 0h4m61 0h4m4 0h1m1 0h5m8 0h2m-147 1h4m54 0h2m63 0h2m8 0h4m8 0h1m-146 1h5m52 0h3m67 0h1m5 0h3m8 0h1m-147 1h1m1 0h1m1 0h3m52 0h4m65 0h2m6 0h2m1 0h1m3 0h1m-141 1h2m55 0h2m67 0h2m1 0h1m3 0h4m-138 1h3m53 0h4m68 0h1m2 0h1m2 0h2m1 0h1m-138 1h2m1 0h1m52 0h4m68 0h2m-129 1h2m54 0h2m72 0h1m5 0h2m-138 1h3m53 0h2m78 0h2m-137 1h3m52 0h1m-57 1h1m1 0h2m52 0h2m-56 1h1m51 0h4m-56 1h2m1 0h1m48 0h1m-52 1h3m47 0h2m-52 1h1m1 0h2m46 0h1m-50 1h2m1 0h2m43 0h1m-48 1h6m39 0h3m-45 1h4m35 0h2m1 0h3m-44 1h3m33 0h7m-42 1h3m31 0h5m1 0h1m-42 1h5m28 0h3m-34 1h4m3 0h1m19 0h2m2 0h3m-32 1h8m16 0h3m2 0h3m-28 1h3m1 0h1m1 0h1m2 0h2m1 0h14m2 0h1m-27 1h15m11 0h1m-22 1h3m1 0h3m-2 1h1"/>
<path stroke="#00afff" d="M0 0m71 23h2m-7 1h3m2 0h3m-11 1h1m1 0h2m1 0h6m-15 1h3m1 0h6m3 0h2m2 0h1m1 0h1m-22 1h3m1 0h2m5 0h1m3 0h7m-23 1h7m11 0h3m1 0h1m-24 1h4m1 0h2m14 0h1m1 0h2m1 0h2m-26 1h3m15 0h2m1 0h1m1 0h1m-28 1h3m19 0h1m5 0h3m-31 1h2m26 0h4m-33 1h3m26 0h5m-33 1h1m27 0h4m-33 1h2m28 0h3m-33 1h2m29 0h5m-39 1h2m1 0h1m30 0h5m-39 1h3m34 0h1m-37 1h1m35 0h1m-38 1h3m-2 1h3m33 0h1m-38 1h4m32 0h1m-38 1h5m32 0h1m-38 1h4m33 0h1m-37 1h4m-4 1h3m32 0h5m-42 1h1m1 0h2m33 0h1m1 0h1m-38 1h2m35 0h2m-38 1h2m33 0h3m-37 1h2m32 0h2m-36 1h2m31 0h3m-35 1h1m30 0h3m-34 1h1m30 0h3m-35 1h2m29 0h4m-34 1h1m28 0h5m-34 1h3m25 0h1m1 0h2m-33 1h1m1 0h1m26 0h1m1 0h3m-32 1h3m27 0h2m-30 1h1m25 0h3m-28 1h1m24 0h3m-29 1h2m22 0h2m1 0h2m-29 1h1m22 0h2m3 0h1m-32 1h2m1 0h3m20 0h3m-28 1h6m19 0h3m2 0h1m-30 1h3m22 0h2m-27 1h3m22 0h2m-28 1h3m22 0h4m-28 1h3m1 0h1m16 0h2m1 0h2m1 0h1m-28 1h2m1 0h3m17 0h5m-27 1h1m1 0h3m17 0h3m-25 1h1m1 0h3m13 0h1m3 0h1m1 0h2m-26 1h2m15 0h2m3 0h4m-25 1h2m2 0h2m10 0h1m3 0h5m-25 1h2m3 0h1m10 0h1m5 0h3m-25 1h2m3 0h2m9 0h1m2 0h2m2 0h1m-23 1h8m1 0h2m3 0h1m4 0h3m-21 1h9m3 0h4m1 0h4m-20 1h9m1 0h4m1 0h4m-20 1h3m1 0h15m-16 1h5m1 0h8m1 0h1m-15 1h4m2 0h5m1 0h3m-14 1h7m2 0h2m1 0h2m-13 1h2m6 0h3m1 0h1m-16 87h4m3 0h2m-19 1h2m2 0h8m2 0h3m1 0h4m-22 1h5m16 0h1m-26 1h5m21 0h5m-31 1h3m24 0h2m1 0h2m1 0h1m-35 1h2m30 0h4m-39 1h1m1 0h1m34 0h3m-40 1h1m1 0h1m35 0h3m-41 1h1m38 0h2m-43 1h2m41 0h2m-46 1h2m42 0h2m-47 1h3m44 0h1m1 0h1m-51 1h2m1 0h1m44 0h1m2 0h1m-53 1h5m47 0h1m-54 1h3m47 0h1m2 0h1m-52 1h1m47 0h2m-51 1h1m50 0h1m-53 1h2m51 0h1m-53 1h2m50 0h2m-53 1h1m49 0h2m-52 1h1m49 0h2m-54 1h2m50 0h3m-55 1h3m49 0h1m-52 1h2m48 0h2m-53 1h2m49 0h3m-53 1h3m48 0h2m-52 1h1m50 0h1m-52 1h2m47 0h3m-53 1h3m46 0h2m-50 1h1m1 0h1m44 0h3m-48 1h3m40 0h2m1 0h1m-46 1h3m39 0h2m1 0h1m-44 1h3m37 0h3m-41 1h1m35 0h3m-38 1h2m30 0h3m2 0h1m-38 1h1m1 0h1m29 0h1m-32 1h4m24 0h3m-30 1h7m17 0h2m1 0h1m-27 1h3m1 0h3m1 0h1m1 0h1m2 0h2m6 0h2m2 0h2m-21 1h6m1 0h9m3 0h2m-20 1h1m1 0h2m2 0h1"/>
<path stroke="#00e1ff" d="M0 0m67 25h1m1 1h3m-9 1h5m1 0h3m-9 1h1m3 0h3m2 0h2m3 0h1m-19 1h1m2 0h3m1 0h2m2 0h2m1 0h3m1 0h1m-22 1h1m3 0h9m1 0h5m2 0h1m1 0h1m-24 1h4m1 0h1m10 0h1m1 0h1m1 0h3m1 0h1m-26 1h5m15 0h1m1 0h2m1 0h1m-26 1h2m1 0h1m21 0h1m-27 1h2m24 0h1m-27 1h1m26 0h1m-28 1h1m27 0h1m-30 1h2m26 0h2m-31 1h3m28 0h3m-34 1h1m31 0h2m-34 1h1m30 0h3m-3 1h3m-33 1h1m28 0h3m-32 1h1m-2 1h2m30 0h1m-32 1h1m30 0h2m-34 1h1m30 0h1m-33 1h2m32 0h1m-35 1h2m2 0h1m27 0h3m-34 1h2m26 0h2m2 0h1m-31 1h2m25 0h4m-32 1h3m25 0h3m-31 1h1m1 0h1m24 0h1m1 0h1m-30 1h3m1 0h1m23 0h2m-30 1h2m2 0h1m23 0h1m-29 1h3m1 0h1m21 0h2m-25 1h1m22 0h1m1 0h1m-28 1h5m19 0h2m1 0h1m-26 1h4m19 0h4m-27 1h2m1 0h2m18 0h2m-24 1h1m19 0h1m1 0h2m-24 1h1m2 0h1m17 0h1m-23 1h3m18 0h1m-20 1h1m1 0h1m15 0h2m-19 1h2m13 0h3m-20 1h5m7 0h1m3 0h6m-22 1h5m6 0h2m2 0h5m1 0h1m-23 1h6m6 0h1m5 0h4m-21 1h1m1 0h1m1 0h1m4 0h2m1 0h1m4 0h1m2 0h1m2 0h1m-25 1h1m3 0h1m3 0h1m1 0h1m1 0h9m-21 1h1m3 0h1m5 0h2m1 0h8m-21 1h1m3 0h2m2 0h4m1 0h4m1 0h3m1 0h1m-22 1h10m2 0h3m2 0h1m1 0h1m-19 1h2m2 0h1m2 0h2m1 0h4m1 0h3m-18 1h2m2 0h1m3 0h6m1 0h1m1 0h3m-20 1h3m2 0h8m2 0h2m2 0h2m-14 1h1m2 0h3m1 0h4m-9 1h3m4 0h1m-7 1h1m4 0h1m-8 2h1m8 0h1m-10 1h2m-5 90h1m4 0h1m-13 1h1m1 0h1m3 0h1m1 0h8m-20 1h4m10 0h1m1 0h5m-23 1h3m2 0h1m16 0h2m2 0h1m-29 1h2m24 0h4m-34 1h1m1 0h2m30 0h2m-36 1h1m1 0h1m30 0h4m-37 1h2m33 0h3m-39 1h1m36 0h4m-41 1h1m-2 1h1m41 0h2m-44 1h1m42 0h1m0 1h1m-48 1h3m-3 1h1m-2 1h2m47 0h1m-50 1h2m48 0h1m-50 1h1m48 0h1m-50 2h1m47 0h1m-50 1h2m47 0h1m-49 1h1m47 0h1m-49 1h1m46 0h1m-49 1h3m45 0h1m-47 1h1m45 0h2m-49 1h3m42 0h1m1 0h3m-49 1h2m43 0h2m-47 1h2m43 0h1m-45 1h3m39 0h2m-42 1h1m38 0h1m2 0h1m-42 1h2m36 0h1m2 0h1m-40 1h1m34 0h2m-37 1h2m30 0h3m-33 1h1m28 0h1m-31 1h1m1 0h2m26 0h1m-27 1h3m17 0h4m-20 1h3m1 0h1m1 0h1m6 0h1m1 0h2m2 0h1m-19 1h1m1 0h1m2 0h1m2 0h4m1 0h1m-9 1h1"/>
<path stroke="#00ffd7" d="M0 0m64 28h3m3 0h2m-7 1h1m2 0h2m2 0h1m-4 1h1m-10 1h1m1 0h10m1 0h1m-14 1h3m2 0h1m5 0h4m1 0h1m2 0h1m-23 1h1m1 0h4m10 0h7m-24 1h5m1 0h1m13 0h4m-25 1h4m1 0h1m15 0h1m1 0h3m-26 1h2m1 0h1m1 0h1m17 0h4m-27 1h2m1 0h2m17 0h1m1 0h2m-26 1h1m21 0h2m1 0h3m-30 1h3m25 0h3m-31 1h4m23 0h3m-30 1h1m1 0h1m20 0h2m2 0h3m-29 1h4m1 0h1m17 0h2m2 0h1m-28 1h4m24 0h1m1 0h1m-31 1h4m23 0h3m-30 1h2m24 0h4m-31 1h3m3 0h1m17 0h4m-28 1h4m2 0h1m19 0h2m1 0h1m-30 1h2m1 0h2m21 0h4m-29 1h3m22 0h1m2 0h2m-31 1h1m2 0h2m21 0h2m-25 1h1m21 0h3m-27 1h1m1 0h3m16 0h1m2 0h2m1 0h1m-26 1h1m1 0h2m15 0h1m2 0h3m-26 1h2m1 0h2m15 0h1m1 0h4m-25 1h1m1 0h3m14 0h4m-24 1h1m1 0h5m15 0h2m-19 1h2m15 0h1m-18 1h2m14 0h3m-21 1h1m2 0h1m10 0h3m3 0h1m-21 1h5m9 0h5m1 0h1m-21 1h2m1 0h1m7 0h9m-19 1h4m1 0h2m2 0h9m-18 1h1m1 0h1m2 0h2m1 0h9m-15 1h13m3 0h1m-16 1h1m1 0h1m1 0h3m1 0h3m-10 1h3m1 0h1m2 0h2m5 0h1m-16 1h6m1 0h5m-14 1h1m1 0h4m2 0h1m1 0h4m-12 1h2m1 0h1m1 0h1m-7 1h5m2 0h1m-7 1h2m4 0h1m-2 1h2m6 0h1m-13 1h2m2 0h1m-5 1h3m8 0h1m-18 98h1m1 0h2m2 0h1m-8 1h3m1 0h3m1 0h2m1 0h1m-15 1h2m1 0h1m1 0h3m3 0h8m-22 1h3m19 0h2m-26 1h2m25 0h3m-31 1h2m27 0h1m-31 1h4m27 0h2m-35 1h6m28 0h2m-36 1h1m1 0h3m32 0h3m-41 1h2m1 0h1m36 0h1m-41 1h2m37 0h3m-43 1h3m37 0h4m-44 1h1m41 0h2m-46 1h3m41 0h2m-46 1h2m42 0h3m-47 1h1m43 0h4m-48 1h2m44 0h1m-48 1h3m43 0h3m-48 1h1m44 0h2m-47 1h1m43 0h3m-47 1h1m44 0h2m-47 1h2m42 0h2m-45 1h1m41 0h3m-45 1h1m40 0h4m-44 1h1m40 0h1m1 0h1m-44 1h1m38 0h4m-43 1h4m35 0h4m-41 1h1m36 0h2m-39 1h3m-1 1h2m32 0h2m-35 1h2m29 0h1m1 0h1m-33 1h2m27 0h1m-29 1h4m20 0h1m1 0h2m-26 1h4m17 0h5m-23 1h5m9 0h3m-13 1h1m1 0h1m1 0h6m1 0h1m-10 1h1m7 0h1"/>
<path stroke="#00ff8c" d="M0 0m63 32h2m1 0h2m1 0h2m-8 1h5m1 0h4m-12 1h1m1 0h2m3 0h8m-17 1h1m1 0h3m1 0h8m1 0h2m1 0h1m-21 1h1m1 0h1m1 0h2m1 0h6m1 0h7m-21 1h1m3 0h3m2 0h2m1 0h1m2 0h5m1 0h1m-23 1h5m1 0h2m3 0h1m1 0h1m2 0h5m2 0h1m-24 1h12m1 0h2m1 0h9m-24 1h4m1 0h4m2 0h1m5 0h6m-26 1h1m1 0h5m1 0h4m2 0h1m6 0h1m2 0h2m-22 1h1m1 0h2m1 0h1m2 0h2m5 0h1m2 0h1m2 0h2m-23 1h4m5 0h1m6 0h1m1 0h6m-24 1h5m5 0h1m3 0h1m3 0h5m-25 1h6m10 0h8m-24 1h3m1 0h2m1 0h1m9 0h4m4 0h2m-25 1h1m1 0h3m7 0h2m1 0h6m2 0h1m-24 1h4m1 0h1m1 0h4m4 0h1m1 0h4m-22 1h5m2 0h4m1 0h1m5 0h4m-21 1h4m1 0h4m1 0h1m1 0h1m2 0h1m2 0h3m-22 1h4m1 0h1m1 0h2m3 0h2m2 0h5m-19 1h4m1 0h1m1 0h1m5 0h3m1 0h2m-18 1h7m5 0h3m1 0h2m-18 1h7m3 0h5m1 0h1m-16 1h7m1 0h6m-13 1h15m-15 1h15m-15 1h14m-14 1h10m3 0h2m-14 1h7m1 0h1m-10 1h7m-6 1h1m2 0h2m-6 1h2m2 0h1m-4 2h1m1 0h1m0 1h1m-8 107h1m3 0h1m-3 1h3m-11 1h19m-22 1h4m1 0h2m2 0h2m4 0h2m2 0h6m-26 1h6m17 0h1m1 0h2m-26 1h3m22 0h2m-27 1h1m25 0h2m-33 1h1m31 0h4m-36 1h1m1 0h2m29 0h5m-38 1h3m30 0h4m-37 1h3m31 0h3m-39 1h3m36 0h2m-41 1h3m36 0h2m-42 1h2m38 0h1m-42 1h4m37 0h1m-41 1h2m39 0h3m-44 1h2m39 0h2m-44 1h3m38 0h3m-44 1h2m40 0h1m-43 1h3m39 0h2m-43 1h2m39 0h1m-42 1h4m36 0h1m-41 1h4m-3 1h3m34 0h3m-40 1h4m31 0h3m-35 1h2m31 0h2m-36 1h4m29 0h3m-34 1h2m1 0h1m26 0h4m-33 1h3m25 0h4m-31 1h4m22 0h3m1 0h1m-30 1h3m16 0h1m1 0h6m-24 1h6m1 0h1m8 0h4m1 0h1m-20 1h8m1 0h1m1 0h6m-13 1h9"/>
<path stroke="#00ff32" d="M0 0m68 33h1m-3 1h2m-4 1h1m8 0h1m-11 1h1m6 0h1m-7 1h2m4 0h2m-11 1h1m2 0h3m1 0h1m1 0h2m-4 1h1m2 0h1m-11 1h1m4 0h2m1 0h5m-13 1h1m4 0h2m1 0h6m-13 1h1m1 0h2m2 0h5m1 0h2m-14 1h5m1 0h6m1 0h1m-13 1h5m1 0h3m1 0h3m-14 1h10m-10 1h1m1 0h9m-10 1h7m2 0h1m-11 1h1m1 0h1m4 0h4m1 0h1m-13 1h2m4 0h1m1 0h5m-8 1h1m1 0h1m1 0h2m1 0h2m-15 1h1m1 0h1m2 0h3m2 0h2m-10 1h1m1 0h1m1 0h5m-5 1h5m-5 1h3m-2 1h1m1 5h1m-17 116h1m2 0h2m2 0h4m2 0h2m-14 1h17m1 0h1m-21 1h5m6 0h2m1 0h8m-24 1h7m11 0h7m-27 1h6m19 0h3m-28 1h2m1 0h1m22 0h3m-30 1h4m24 0h2m-30 1h3m25 0h3m-33 1h4m27 0h5m-36 1h5m26 0h5m-38 1h4m31 0h3m1 0h1m-39 1h2m33 0h2m1 0h1m-40 1h3m33 0h3m-39 1h2m34 0h3m-39 1h1m34 0h3m-39 1h4m32 0h1m1 0h2m-39 1h3m32 0h4m-39 1h4m31 0h4m-37 1h2m31 0h3m-36 1h3m29 0h3m-35 1h3m28 0h3m-33 1h2m27 0h2m-30 1h5m21 0h5m-30 1h4m21 0h4m-27 1h3m1 0h1m16 0h1m1 0h3m-26 1h5m1 0h1m8 0h1m3 0h6m-23 1h5m4 0h1m2 0h10m-22 1h16m1 0h1m-12 1h1m1 0h8m-6 1h1m1 0h1"/>
<path stroke="#32ff00" d="M0 0m58 178h6m2 0h1m-9 1h11m-14 1h3m1 0h1m3 0h1m2 0h8m-23 1h1m1 0h5m8 0h1m1 0h1m4 0h2m-23 1h5m15 0h4m-25 1h2m22 0h1m-26 1h3m22 0h2m-26 1h1m22 0h3m-29 1h3m23 0h1m1 0h3m-32 1h4m26 0h3m-33 1h4m24 0h5m-34 1h5m24 0h5m-35 1h5m25 0h4m-32 1h5m23 0h4m1 0h1m-34 1h3m1 0h1m25 0h2m-31 1h3m25 0h3m-31 1h4m23 0h4m-30 1h3m23 0h3m-29 1h4m20 0h4m-28 1h6m17 0h4m-23 1h1m19 0h1m-21 1h4m4 0h1m4 0h1m3 0h4m-20 1h1m1 0h2m1 0h5m1 0h7m1 0h1m-18 1h1m1 0h8m1 0h3m-12 1h4m1 0h2"/>
<path stroke="#96ff00" d="M0 0m58 180h1m1 0h1m1 0h1m1 0h2m-8 1h5m4 0h1m1 0h4m-16 1h1m7 0h1m2 0h2m1 0h1m-19 1h2m18 0h2m-22 1h1m18 0h1m1 0h1m-23 1h2m19 0h1m-23 1h2m20 0h1m1 0h1m-25 1h1m1 0h1m19 0h4m-26 1h2m20 0h1m-23 1h2m21 0h1m-25 1h2m22 0h1m-1 1h1m-25 1h1m23 0h3m-26 1h2m20 0h1m1 0h1m-3 1h2m-23 1h2m1 0h1m14 0h1m1 0h1m1 0h1m-22 1h2m14 0h4m-18 1h2m11 0h2m1 0h1m-18 1h3m1 0h1m3 0h1m4 0h2m1 0h3m-16 1h1m1 0h2m1 0h1m1 0h2m1 0h3m-12 1h1m5 0h1"/>
<path stroke="#e6ff00" d="M0 0m61 180h1m1 1h3m-8 1h5m3 0h2m2 0h1m-16 1h2m1 0h1m1 0h1m1 0h1m1 0h1m2 0h4m1 0h1m-19 1h3m1 0h1m10 0h3m1 0h1m-20 1h1m16 0h2m-20 1h2m-3 1h1m1 0h1m17 0h1m-20 1h2m17 0h1m1 0h1m-4 1h2m-21 1h2m19 0h1m-22 1h1m2 0h1m16 0h2m-22 1h2m17 0h1m-19 1h2m15 0h1m1 0h1m1 0h1m-23 1h4m14 0h3m-19 1h1m1 0h1m14 0h1m1 0h1m-19 1h2m11 0h1m-12 1h2m5 0h4m2 0h1m-14 1h1m3 0h1m1 0h4m2 0h1m-12 1h1m4 0h1"/>
<path stroke="#ffd200" d="M0 0m63 182h2m-8 1h1m1 0h1m1 0h1m1 0h1m7 0h1m-13 1h2m1 0h2m3 0h2m-14 1h5m5 0h1m3 0h1m-3 1h1m2 0h3m-16 1h1m12 0h1m-15 1h1m1 0h1m10 0h1m-17 1h1m1 0h1m17 0h1m-20 1h3m10 0h1m3 0h1m-19 1h2m16 0h1m-18 1h1m17 0h2m-19 1h1m9 0h1m5 0h1m-16 1h2m-1 1h1m3 0h1m3 0h1m-9 1h1m5 0h2m1 0h2m-9 1h1m1 0h3m-5 1h2"/>
<path stroke="#ff8c00" d="M0 0m65 183h1m-9 1h1m6 0h1m1 0h1m-7 1h1m1 0h2m2 0h1m1 0h1m1 0h1m-16 1h6m8 0h1m-15 1h1m11 0h1m3 0h1m-17 1h1m9 0h3m2 0h2m-18 1h1m1 0h1m9 0h2m0 1h1m3 0h1m-5 1h1m1 0h1m-16 1h2m6 0h1m3 0h4m-15 1h1m6 0h2m1 0h1m1 0h1m-11 1h1m9 0h1m-11 1h1m4 0h1m3 0h3m-12 1h2m5 0h1m-6 1h1"/>
<path stroke="#ff4600" d="M0 0m66 183h1m-6 1h1m3 0h1m-5 1h1m2 0h1m2 0h1m-7 1h4m1 0h1m1 0h1m-13 1h1m1 0h2m1 0h1m3 0h2m1 0h2m-11 1h3m-5 1h1m1 0h1m5 0h1m3 0h2m-13 1h4m4 0h1m3 0h1m-15 1h2m1 0h1m1 0h1m3 0h1m1 0h1m1 0h1m-5 1h2m-6 1h2m4 0h1m1 0h1m-11 1h1m2 0h1m2 0h2m2 0h1m-11 1h2m3 0h1m1 0h1m-7 1h3"/>
<path stroke="#ff0000" d="M0 0m65 186h1m-6 1h1m1 0h3m-8 1h1m4 0h3m3 0h1m-11 1h1m1 0h5m3 0h1m-12 1h1m4 0h4m3 0h1m-12 1h1m1 0h1m1 0h3m1 0h1m-10 1h6m1 0h1m-8 1h4m-1 1h2m1 0h2m2 0h1m-6 1h1"/>
</g>
<g transform="translate(965.30 95.18) scale(1.77695 1.76953)" fill="none" stroke-width="1.06">
<path stroke="#000feb" d="M0 0m50 5h1m1 14h1m-20 1h1m13 0h1m14 2h1m1 1h1m-22 1h1m8 0h1m-11 1h1m25 0h1m-38 2h1m9 0h1m12 0h1m22 0h1m-22 1h1m-16 1h2m-1 1h1m-5 1h1m13 0h1m-5 2h1m-11 1h1m17 0h1m-21 1h2m5 0h1m3 0h1m14 0h1m-39 1h1m7 0h1m8 0h1m3 0h1m8 0h1m6 0h1m-26 1h2m6 0h1m3 0h2m1 0h2m12 0h1m-17 1h1m19 0h1m-36 1h1m13 0h1m3 0h1m2 0h1m9 0h1m-24 1h2m8 0h2m1 0h1m2 0h1m21 0h1m-52 1h1m9 0h1m2 0h2m11 0h2m6 0h1m7 0h1m-38 1h1m3 0h1m3 0h2m2 0h1m6 0h1m2 0h2m1 0h1m14 0h1m-41 1h1m14 0h2m1 0h1m3 0h1m4 0h1m-13 1h1m2 0h1m7 0h1m1 0h1m1 0h1m-28 1h1m6 0h1m1 0h2m8 0h2m4 0h1m12 0h1m-44 1h1m12 0h1m1 0h1m4 0h1m10 0h1m1 0h1m9 0h1m-29 1h2m5 0h2m10 0h1m-29 1h1m1 0h2m2 0h4m5 0h3m2 0h1m5 0h1m-27 1h1m2 0h1m2 0h1m3 0h1m2 0h1m1 0h1m2 0h1m2 0h1m6 0h1m-28 1h1m5 0h1m3 0h1m6 0h1m1 0h2m1 0h1m5 0h1m8 0h1m-43 1h1m1 0h1m1 0h1m2 0h1m4 0h1m2 0h1m1 0h2m1 0h1m1 0h1m1 0h1m2 0h2m2 0h1m1 0h1m4 0h2m-63 1h1m9 0h1m9 0h1m4 0h1m2 0h2m1 0h1m1 0h1m2 0h1m2 0h2m9 0h1m1 0h1m2 0h3m67 0h1m57 0h1m-158 1h3m1 0h2m2 0h1m6 0h1m3 0h2m1 0h1m10 0h1m-39 1h1m4 0h2m11 0h1m3 0h4m1 0h1m1 0h2m1 0h1m4 0h1m-40 1h1m7 0h1m2 0h1m1 0h3m3 0h1m1 0h1m4 0h2m3 0h1m4 0h1m2 0h1m5 0h1m5 0h1m-49 1h2m8 0h1m5 0h3m7 0h1m1 0h1m2 0h2m4 0h2m53 0h1m-95 1h1m2 0h1m1 0h1m4 0h1m1 0h1m1 0h1m6 0h1m4 0h2m1 0h1m4 0h1m12 0h1m-51 1h1m5 0h1m3 0h1m2 0h2m2 0h1m8 0h1m7 0h1m5 0h1m5 0h1m106 0h1m-152 1h1m2 0h1m4 0h2m3 0h1m18 0h2m3 0h1m1 0h1m4 0h1m88 0h1m-141 1h1m10 0h2m3 0h1m18 0h1m2 0h1m1 0h2m7 0h1m55 0h1m11 0h1m114 0h1m-233 1h1m13 0h1m1 0h1m1 0h1m1 0h3m1 0h1m8 0h1m1 0h3m6 0h1m2 0h1m1 0h1m3 0h1m-37 1h2m1 0h1m1 0h1m8 0h1m1 0h1m2 0h1m3 0h1m4 0h4m10 0h1m-54 1h1m7 0h1m4 0h1m1 0h1m17 0h1m4 0h1m9 0h2m-35 1h1m18 0h3m4 0h3m2 0h1m1 0h1m29 0h1m-77 1h2m1 0h3m1 0h1m1 0h4m4 0h1m1 0h1m9 0h1m6 0h1m1 0h1m-45 1h1m6 0h1m4 0h1m2 0h1m23 0h1m2 0h1m3 0h1m15 0h1m-56 1h1m1 0h1m3 0h2m7 0h1m8 0h1m1 0h3m2 0h3m1 0h1m2 0h1m1 0h2m-45 1h1m6 0h1m3 0h1m1 0h3m3 0h1m3 0h1m6 0h1m3 0h2m2 0h1m2 0h1m7 0h1m62 0h1m-116 1h1m5 0h1m2 0h1m3 0h3m3 0h1m13 0h1m5 0h1m7 0h1m83 0h1m-118 1h1m2 0h1m1 0h1m1 0h1m1 0h1m9 0h3m4 0h1m1 0h1m6 0h1m-46 1h1m9 0h1m4 0h1m1 0h2m3 0h1m1 0h1m2 0h1m9 0h1m13 0h1m-50 1h1m1 0h1m4 0h3m3 0h1m3 0h1m6 0h1m12 0h2m-51 1h1m9 0h2m4 0h1m2 0h1m2 0h2m7 0h1m5 0h1m6 0h2m1 0h2m-33 1h1m2 0h1m1 0h2m3 0h1m2 0h1m2 0h1m2 0h2m6 0h3m-66 1h1m25 0h1m11 0h1m2 0h2m3 0h1m3 0h1m1 0h1m1 0h2m1 0h1m2 0h4m5 0h1m-36 1h1m1 0h1m7 0h1m2 0h1m4 0h1m1 0h1m1 0h1m3 0h2m1 0h2m3 0h1m10 0h1m51 0h1m-103 1h1m9 0h2m1 0h1m3 0h2m3 0h1m1 0h2m1 0h5m1 0h1m57 0h1m41 0h1m-131 1h1m4 0h1m1 0h1m2 0h2m3 0h1m2 0h1m2 0h4m9 0h1m1 0h2m1 0h1m8 0h1m86 0h1m-128 1h2m1 0h1m2 0h1m2 0h1m3 0h2m2 0h3m4 0h2m3 0h1m-35 1h1m2 0h1m2 0h1m2 0h1m1 0h1m1 0h1m2 0h3m3 0h1m3 0h1m3 0h1m5 0h1m8 0h1m5 0h1m73 0h1m-132 1h1m6 0h1m1 0h1m1 0h3m1 0h1m2 0h2m1 0h2m1 0h2m2 0h1m1 0h1m10 0h1m1 0h1m7 0h1m120 0h1m-167 1h2m8 0h1m1 0h6m4 0h1m2 0h1m2 0h2m6 0h1m20 0h1m162 0h1m-230 1h1m7 0h1m1 0h1m1 0h1m4 0h1m2 0h1m1 0h1m1 0h1m6 0h2m1 0h1m-13 1h2m4 0h2m2 0h1m2 0h2m17 0h1m100 0h1m-148 1h1m5 0h1m3 0h1m3 0h1m4 0h1m1 0h1m1 0h1m3 0h1m2 0h1m44 0h1m45 0h1m2 0h1m20 0h1m9 0h1m-160 1h1m2 0h1m4 0h2m2 0h2m1 0h1m7 0h1m7 0h1m14 0h1m56 0h1m25 0h1m8 0h1m13 0h1m-139 1h1m2 0h2m1 0h3m3 0h1m1 0h1m1 0h1m2 0h3m-39 1h1m5 0h3m3 0h1m3 0h1m1 0h1m1 0h1m7 0h3m4 0h1m2 0h1m3 0h1m3 0h1m5 0h1m2 0h1m-45 1h1m6 0h1m1 0h2m2 0h1m6 0h1m1 0h1m5 0h1m142 0h1m-181 1h2m2 0h1m2 0h1m2 0h1m3 0h2m2 0h1m1 0h1m4 0h2m1 0h1m3 0h1m7 0h1m1 0h1m65 0h1m4 0h1m-113 1h1m9 0h1m2 0h2m1 0h2m3 0h1m1 0h2m6 0h1m1 0h1m10 0h1m14 0h1m-73 1h1m31 0h3m1 0h1m5 0h1m5 0h1m5 0h1m19 0h1m9 0h1m46 0h1m44 0h1m-156 1h1m5 0h1m6 0h2m5 0h1m4 0h2m10 0h1m8 0h1m23 0h1m45 0h1m2 0h1m17 0h1m-140 1h1m9 0h1m5 0h1m1 0h1m6 0h1m34 0h1m63 0h1m14 0h1m16 0h1m-148 1h1m4 0h2m5 0h1m6 0h1m2 0h1m47 0h1m41 0h1m-120 1h1m10 0h1m2 0h3m9 0h1m15 0h1m45 0h1m53 0h1m-131 1h1m2 0h1m5 0h1m8 0h1m73 0h1m6 0h1m-113 1h1m4 0h1m1 0h1m5 0h1m2 0h1m2 0h1m4 0h1m16 0h1m91 0h1m5 0h1m-141 1h1m3 0h1m3 0h1m10 0h1m34 0h1m26 0h1m38 0h1m19 0h1m-126 1h1m5 0h1m8 0h1m7 0h1m6 0h1m19 0h1m24 0h1m23 0h1m15 0h1m-125 1h2m1 0h1m12 0h1m15 0h1m13 0h1m39 0h1m19 0h1m5 0h1m14 0h1m16 0h1m11 0h1m-146 1h1m9 0h3m1 0h1m30 0h1m61 0h1m7 0h1m5 0h1m2 0h1m-125 1h1m12 0h1m98 0h1m40 0h1m-182 1h1m7 0h1m11 0h1m12 0h1m3 0h1m4 0h1m16 0h1m66 0h1m2 0h1m8 0h1m2 0h1m23 0h1m28 0h1m-170 1h1m14 0h2m2 0h1m83 0h1m3 0h1m9 0h1m3 0h1m28 0h1m-159 1h1m5 0h2m7 0h1m10 0h1m1 0h1m3 0h1m1 0h1m3 0h1m4 0h1m27 0h1m12 0h1m7 0h1m18 0h1m16 0h1m10 0h1m5 0h1m12 0h1m-145 1h1m43 0h1m13 0h1m23 0h1m8 0h1m2 0h1m17 0h1m-117 1h1m14 0h1m8 0h1m13 0h1m14 0h2m12 0h1m35 0h1m6 0h1m-130 1h1m21 0h1m22 0h1m22 0h1m76 0h1m12 0h1m4 0h1m-170 1h1m27 0h1m1 0h1m4 0h1m78 0h1m10 0h1m17 0h1m3 0h1m1 0h1m2 0h1m3 0h1m7 0h1m23 0h1m-175 1h1m13 0h1m2 0h1m10 0h2m67 0h1m8 0h1m2 0h1m39 0h1m1 0h1m14 0h1m2 0h1m-157 1h1m6 0h1m81 0h1m1 0h1m4 0h2m-111 1h1m7 0h1m2 0h1m3 0h1m9 0h1m4 0h1m52 0h2m27 0h1m2 0h1m12 0h1m4 0h1m7 0h1m6 0h1m5 0h1m-150 1h1m2 0h1m60 0h1m13 0h1m12 0h1m7 0h1m1 0h1m4 0h1m2 0h2m17 0h2m7 0h1m1 0h1m3 0h1m8 0h1m1 0h1m12 0h1m-172 1h1m12 0h1m7 0h1m43 0h1m1 0h1m25 0h1m19 0h1m3 0h1m10 0h1m24 0h1m-150 1h1m7 0h1m9 0h1m12 0h1m61 0h1m1 0h1m6 0h1m7 0h1m2 0h1m1 0h1m1 0h1m6 0h1m2 0h1m3 0h1m5 0h1m1 0h1m3 0h1m6 0h1m12 0h1m45 0h1m-201 1h1m2 0h1m12 0h1m29 0h1m20 0h2m11 0h1m4 0h1m8 0h2m3 0h1m11 0h1m5 0h2m1 0h1m4 0h1m2 0h1m1 0h1m8 0h2m-156 1h1m11 0h1m1 0h1m8 0h1m11 0h1m17 0h1m25 0h1m22 0h1m1 0h1m11 0h1m2 0h1m8 0h1m8 0h1m23 0h1m-170 1h1m7 0h1m3 0h1m18 0h1m8 0h1m4 0h1m6 0h1m21 0h1m6 0h1m19 0h1m10 0h1m16 0h2m5 0h1m14 0h1m35 0h1m-175 1h1m1 0h1m7 0h1m9 0h1m3 0h1m7 0h1m9 0h1m16 0h1m11 0h1m46 0h1m12 0h1m18 0h1m-134 1h1m6 0h1m27 0h1m14 0h1m42 0h1m8 0h1m1 0h1m1 0h1m10 0h2m1 0h1m7 0h2m6 0h1m6 0h1m2 0h1m-155 1h1m7 0h1m2 0h1m39 0h1m5 0h1m17 0h1m3 0h1m23 0h1m4 0h1m1 0h2m7 0h1m10 0h1m1 0h2m12 0h1m1 0h1m-162 1h1m15 0h1m32 0h3m21 0h1m45 0h1m3 0h1m1 0h1m2 0h1m1 0h2m2 0h2m11 0h2m5 0h1m7 0h1m-164 1h1m7 0h1m33 0h1m7 0h1m4 0h1m17 0h1m8 0h1m16 0h1m23 0h2m2 0h1m5 0h1m1 0h1m1 0h1m1 0h1m2 0h1m26 0h1m-178 1h1m6 0h1m3 0h1m25 0h1m19 0h1m32 0h2m7 0h1m7 0h1m8 0h1m5 0h2m3 0h1m3 0h2m5 0h1m4 0h1m17 0h2m7 0h1m-99 1h1m4 0h1m32 0h2m14 0h1m2 0h1m1 0h1m12 0h1m6 0h1m1 0h1m16 0h1m2 0h2m-172 1h1m10 0h1m10 0h1m53 0h1m12 0h1m21 0h1m9 0h1m1 0h1m3 0h1m1 0h1m2 0h1m3 0h1m3 0h1m7 0h1m3 0h1m7 0h1m8 0h1m-92 1h1m18 0h1m18 0h1m4 0h1m4 0h1m7 0h1m2 0h2m9 0h1m4 0h1m2 0h1m8 0h1m17 0h1m3 0h1m-171 1h1m2 0h1m11 0h1m33 0h1m15 0h1m28 0h1m11 0h1m7 0h1m2 0h2m12 0h2m5 0h1m8 0h1m-162 1h1m21 0h2m85 0h1m4 0h1m8 0h1m9 0h1m2 0h1m5 0h2m5 0h2m1 0h1m12 0h1m-139 1h1m3 0h1m52 0h1m12 0h1m5 0h1m11 0h1m1 0h2m7 0h1m2 0h1m13 0h1m1 0h2m12 0h1m14 0h1m-172 1h1m1 0h1m17 0h1m28 0h1m54 0h1m6 0h1m1 0h1m1 0h1m6 0h1m1 0h2m2 0h1m1 0h1m12 0h1m2 0h1m7 0h1m4 0h1m6 0h1m1 0h1m3 0h1m-159 1h1m24 0h1m5 0h1m34 0h1m19 0h1m2 0h1m4 0h1m1 0h1m6 0h1m2 0h1m2 0h1m3 0h3m5 0h1m7 0h1m2 0h1m2 0h1m13 0h1m12 0h1m-150 1h1m1 0h1m42 0h1m4 0h1m6 0h1m18 0h1m3 0h1m13 0h1m2 0h1m7 0h2m1 0h1m6 0h1m1 0h1m6 0h1m4 0h1m4 0h1m-164 1h1m7 0h1m12 0h1m58 0h1m19 0h2m11 0h1m1 0h1m5 0h1m2 0h1m1 0h1m2 0h5m3 0h1m2 0h5m1 0h1m3 0h1m5 0h1m2 0h1m1 0h1m-158 1h1m1 0h1m7 0h1m24 0h1m3 0h1m8 0h1m30 0h1m18 0h1m2 0h1m2 0h1m2 0h1m2 0h1m4 0h2m1 0h1m14 0h1m3 0h1m7 0h1m2 0h1m5 0h1m8 0h1m3 0h1m-149 1h1m4 0h1m2 0h1m4 0h1m9 0h1m3 0h1m35 0h1m1 0h1m11 0h1m6 0h1m5 0h2m5 0h1m1 0h1m5 0h1m3 0h1m5 0h1m10 0h1m10 0h1m1 0h1m2 0h1m18 0h1m11 0h1m-178 1h1m80 0h1m6 0h1m2 0h3m6 0h1m4 0h1m3 0h1m2 0h1m3 0h1m1 0h1m6 0h1m11 0h1m4 0h1m-146 1h1m73 0h1m8 0h1m4 0h1m9 0h1m2 0h1m1 0h4m8 0h1m22 0h1m2 0h1m22 0h1m-168 1h1m12 0h1m1 0h1m3 0h1m5 0h1m20 0h1m32 0h1m11 0h1m4 0h1m2 0h1m5 0h1m1 0h1m4 0h1m6 0h1m6 0h1m1 0h1m1 0h1m1 0h1m1 0h1m5 0h1m15 0h1m16 0h1m-173 1h1m5 0h1m18 0h1m68 0h1m1 0h1m1 0h1m2 0h2m2 0h2m2 0h1m2 0h1m4 0h1m1 0h1m1 0h1m2 0h1m1 0h1m5 0h1m1 0h1m1 0h1m1 0h1m36 0h1m11 0h1m-153 1h1m15 0h1m56 0h1m4 0h1m3 0h1m3 0h1m2 0h1m1 0h1m7 0h1m5 0h1m5 0h1m3 0h1m6 0h1m-163 1h1m41 0h1m38 0h1m1 0h1m2 0h2m7 0h2m26 0h1m8 0h1m4 0h1m2 0h1m5 0h1m15 0h1m9 0h1m-175 1h1m106 0h2m1 0h1m12 0h1m5 0h1m1 0h1m1 0h3m3 0h1m1 0h1m2 0h1m4 0h1m2 0h1m-145 1h1m8 0h1m71 0h1m14 0h1m1 0h1m1 0h1m1 0h1m12 0h1m1 0h1m4 0h1m3 0h1m2 0h1m2 0h1m1 0h1m1 0h1m3 0h1m-114 1h1m29 0h1m7 0h1m34 0h1m1 0h1m1 0h2m2 0h1m1 0h1m3 0h2m3 0h1m5 0h2m3 0h2m1 0h1m3 0h1m2 0h1m3 0h1m-187 1h1m15 0h1m24 0h1m3 0h1m3 0h1m2 0h1m55 0h1m1 0h1m5 0h1m5 0h2m3 0h1m8 0h1m7 0h1m1 0h1m4 0h2m2 0h1m8 0h1m5 0h2m9 0h3m6 0h1m-146 1h1m9 0h1m46 0h1m23 0h2m8 0h1m3 0h1m8 0h1m3 0h1m7 0h1m4 0h1m1 0h1m2 0h2m3 0h1m3 0h1m5 0h1m2 0h1m19 0h1m-165 1h1m25 0h1m55 0h1m3 0h1m5 0h2m7 0h1m3 0h1m1 0h1m2 0h1m4 0h1m1 0h1m10 0h1m5 0h2m29 0h1m20 0h1m-195 1h1m2 0h2m8 0h1m49 0h1m23 0h1m20 0h1m10 0h1m15 0h1m4 0h1m8 0h1m-160 1h1m24 0h1m32 0h1m15 0h1m27 0h1m17 0h1m2 0h2m6 0h1m2 0h2m1 0h1m6 0h2m7 0h1m1 0h1m7 0h1m52 0h1m-164 1h1m54 0h1m5 0h1m1 0h1m5 0h1m10 0h1m1 0h1m1 0h1m9 0h1m2 0h1m-159 1h1m103 0h1m5 0h1m4 0h1m6 0h1m12 0h1m4 0h1m15 0h1m5 0h1m4 0h1m-133 1h1m37 0h1m22 0h1m9 0h1m21 0h1m11 0h1m16 0h1m7 0h1m1 0h1m17 0h1m-138 1h1m19 0h1m18 0h1m13 0h2m26 0h2m11 0h1m2 0h1m2 0h1m16 0h3m11 0h2m-106 1h1m45 0h1m10 0h1m1 0h2m10 0h1m3 0h1m1 0h1m12 0h1m7 0h1m-68 1h1m11 0h3m8 0h1m2 0h1m2 0h1m2 0h2m10 0h1m7 0h1m20 0h1m-150 1h1m4 0h1m39 0h1m35 0h1m9 0h1m15 0h2m10 0h1m22 0h1m17 0h1m-177 1h1m78 0h1m41 0h1m4 0h1m3 0h1m9 0h1m56 0h1m-176 1h1m76 0h1m5 0h1m4 0h1m13 0h1m2 0h1m6 0h1m1 0h1m10 0h1m3 0h1m9 0h1m-155 1h1m63 0h1m27 0h1m1 0h1m12 0h2m8 0h1m13 0h1m4 0h1m-64 1h1m16 0h1m7 0h1m10 0h1m3 0h1m13 0h1m5 0h2m18 0h1m-160 1h1m104 0h1m6 0h1m1 0h1m1 0h1m1 0h1m1 0h4m5 0h1m14 0h1m16 0h1m-104 1h1m21 0h1m31 0h1m5 0h1m3 0h1m9 0h1m13 0h1m-52 1h1m15 0h1m5 0h1m4 0h1m7 0h1m14 0h1m40 0h1m-78 1h1m10 0h1m1 0h1m6 0h1m27 0h2m-157 1h1m17 0h1m79 0h1m10 0h1m4 0h1m9 0h1m1 0h1m4 0h1m7 0h1m11 0h1m13 0h1m-156 1h1m99 0h1m7 0h1m15 0h1m18 0h1m12 0h1m-178 1h1m126 0h1m11 0h1m8 0h1m-145 1h1m28 0h1m65 0h1m20 0h1m12 0h1m6 0h2m5 0h1m-114 1h1m60 0h1m29 0h1m8 0h1m4 0h1m8 0h1m-52 1h1m29 0h1m22 0h1m-47 1h1m13 0h1m45 0h1m3 0h1m-131 1h1m60 0h1m6 0h1m7 0h1m11 1h1m6 0h1m3 0h1m20 0h1m36 0h1m-195 1h1m92 0h1m25 0h1m10 0h1m11 0h1m18 0h1m9 0h1m-150 1h1m30 1h1m86 0h1m-101 1h1m75 0h1m32 0h1m-62 1h1m-93 1h1m137 1h1m-113 1h1m123 0h1m-31 1h1m54 3h1m-165 1h1m130 0h1m27 0h1m-60 1h1m28 1h1m19 0h1m-86 1h1m84 0h1m-29 2h1m-43 1h1m-65 1h1m91 4h1m-29 5h1m28 6h1"/>
<path stroke="#00ff32" d="M0 0m37 41h1m10 0h1m3 0h1m4 2h1m-11 1h1m6 0h1m1 0h1m-8 1h1m0 2h2m1 0h1m3 0h1m7 0h1m-17 1h1m2 0h1m6 0h1m-15 1h1m9 0h1m1 0h1m7 0h1m-28 1h1m8 0h2m2 0h1m2 0h1m2 0h1m5 0h1m-20 1h1m5 0h1m4 0h1m-8 1h1m3 0h1m3 0h2m1 0h1m2 0h1m-23 1h1m3 0h1m9 0h1m3 0h1m1 0h1m3 0h2m-24 1h1m4 0h1m3 0h1m6 0h1m12 0h1m-30 1h1m4 0h2m1 0h1m2 0h3m6 0h1m4 0h1m-27 1h1m3 0h4m3 0h1m4 0h1m2 0h1m-21 1h1m1 0h1m1 0h1m14 0h1m2 0h1m-20 1h1m6 0h2m7 0h1m-18 1h1m7 0h2m1 0h2m2 0h1m2 0h1m-12 1h1m5 0h1m10 0h1m-21 1h1m8 0h1m1 0h1m3 0h2m1 0h1m3 0h1m-27 1h1m7 0h1m1 0h1m7 0h1m-20 1h1m5 0h1m8 0h1m1 0h1m1 0h1m-26 1h1m5 0h1m1 0h1m1 0h1m8 0h1m5 0h2m-23 1h1m14 0h2m1 0h1m12 0h1m-30 1h1m6 0h1m5 0h1m1 0h1m3 0h1m1 0h1m-23 1h1m4 0h1m2 0h1m3 0h1m4 0h1m-12 1h1m8 0h1m1 0h1m4 0h1m2 0h2m-25 1h1m7 0h1m6 0h2m1 0h1m-19 1h1m3 0h1m1 0h1m1 0h2m10 0h1m-21 1h3m6 0h1m1 0h1m2 0h1m1 0h3m5 0h1m-23 1h1m5 0h1m3 0h1m3 0h2m2 0h1m1 0h1m2 0h1m-27 1h1m6 0h1m1 0h1m4 0h1m4 0h1m1 0h1m-16 1h1m2 0h2m1 0h1m3 0h1m-9 1h1m1 0h1m12 0h1m3 0h1m-26 1h1m11 0h1m2 0h1m6 0h1m3 0h1m-27 1h3m2 0h2m2 0h1m2 0h1m5 0h1m-18 1h1m4 0h1m9 0h1m1 0h1m-27 1h1m3 0h1m10 0h1m5 0h1m3 0h1m1 0h2m-15 1h2m4 0h1m-13 1h1m11 0h1m2 0h1m1 0h1m1 0h1m-4 1h1m2 0h1m68 0h1m-90 1h1m10 0h1m1 0h1m-6 2h2m4 0h1m-2 1h2m5 0h1m-15 2h2m8 0h1m-3 1h1m-1 1h1m-15 1h1m7 5h1m7 2h1m98 16h1m8 4h1m2 2h1m2 0h1m5 0h1m21 0h1m-34 1h1m12 1h1m-17 4h1m3 2h1m1 3h1m-14 1h1m3 0h1m20 2h1m6 0h1m-33 2h1m17 0h1m7 1h1m-25 1h1m13 0h1m-35 1h1m23 0h1m-113 1h1m104 0h1m0 1h1m-9 1h1m6 0h1m8 0h1m1 2h1m30 1h1m-51 1h1m25 0h1m2 2h1m7 0h1m9 1h1m-32 1h1m90 0h1m-100 1h1m9 0h1m23 0h1m-10 1h1m-139 1h1m131 1h1m4 1h2m4 0h1m-31 1h1m33 1h1m-30 4h1m8 4h1m-2 1h1m-4 5h1m19 6h1"/>
<path stroke="#96ff00" d="M0 0m55 44h1m-14 2h1m17 3h1m-6 1h1m-9 1h1m9 0h1m-5 1h2m3 0h1m-13 1h1m3 0h1m2 0h1m7 0h1m-17 1h2m1 0h1m4 0h1m0 2h1m3 0h1m-12 1h1m3 0h1m1 0h3m-12 1h1m2 0h1m5 0h1m2 0h1m1 0h1m1 0h1m2 0h1m-12 1h1m2 0h1m3 0h1m1 0h1m-20 1h3m2 0h1m6 0h1m-15 1h1m7 0h1m3 0h1m-9 1h1m1 0h1m6 0h1m1 0h1m1 0h2m2 0h1m-17 1h2m2 0h1m2 0h2m1 0h1m10 0h1m-20 1h1m1 0h1m2 0h1m3 0h1m-13 1h1m7 0h1m3 0h1m2 0h1m1 0h1m-5 1h2m-13 1h1m8 0h1m-11 1h1m3 0h1m3 0h1m2 0h1m4 0h1m-16 1h1m7 0h1m7 0h1m-10 1h2m3 0h1m-13 1h1m8 0h1m5 0h1m-20 1h1m3 0h1m1 0h1m2 0h2m2 0h1m4 0h1m4 0h1m-14 1h1m1 0h1m-7 1h1m5 0h1m-15 1h1m12 0h1m2 0h1m-12 1h1m11 0h1m1 0h1m-10 1h1m0 1h1m-1 1h1m-3 2h1m2 2h1m6 0h1m1 0h1m3 0h1m-16 1h1m11 16h1m105 29h1m-2 10h1m12 14h1"/>
<path stroke="#ffd200" d="M0 0m49 52h1m-2 1h1m3 1h1m-7 1h1m-5 1h1m10 0h1m1 0h1m-6 1h1m1 1h1m2 0h1m1 0h1m-11 1h1m8 0h1m-7 2h1m2 0h2m-7 1h1m1 1h1m3 0h1m2 0h1m1 0h1m-12 1h1m2 1h1m1 0h1m4 0h1m3 0h1m-18 1h2m6 0h1m5 0h1m-18 1h1m10 0h1m-4 1h2m2 0h1m-6 1h1m-9 1h1m10 0h1m2 0h2m-8 1h1m3 1h1m7 0h1m-18 1h3m6 0h1m2 0h1m2 1h1m-13 1h1m7 7h1"/>
<path stroke="#ff8c00" d="M0 0m46 57h1m9 0h1m-9 1h1m-4 1h2m1 0h1m-3 1h1m1 0h1m1 0h2m1 0h1m2 0h1m-6 1h1m-3 1h1m1 0h1m-6 2h1m3 0h2m1 0h1m1 0h1m1 0h2m-12 1h1m1 0h1m-3 1h1m3 0h2m2 0h1m-7 1h2m3 0h1m1 2h1"/>
<path stroke="#ff4600" d="M0 0m52 55h1m-4 2h1m-4 1h1m-2 2h1m11 0h1m-10 3h1m1 3h1m-8 1h1m7 2h1"/>
<path stroke="#ff0000" d="M0 0m49 58h1m2 2h1m-4 1h1m1 2h1m-6 2h1m6 4h1"/>
</g>
<g transform="translate(965.30 556.08) scale(1.77695 1.76719)" fill="none" stroke-width="1.06">
<path stroke="#0000be" d="M0 0m6 11h1m41 6h1m38 2h1m-25 4h1m-8 2h1m38 0h1m-19 1h1m-17 1h1m8 0h1m10 0h1m-23 1h1m42 0h1m-23 1h1m7 0h1m5 0h1m2 3h1m3 0h1m-69 1h1m59 0h1m-35 1h1m28 0h1m-50 1h1m83 0h1m-75 1h1m48 0h1m-9 1h1m3 0h1m-53 1h1m58 0h1m-5 1h1m-63 2h1m66 0h1m-74 2h1m-19 1h1m87 0h1m-4 1h1m2 2h1m14 0h1m-6 2h1m-77 1h1m71 1h1m2 0h1m-6 5h1m3 2h1m5 0h1m-95 3h1m15 0h1m75 0h1m-80 1h1m75 3h1m2 0h1m-9 2h1m1 0h1m-84 3h1m10 0h1m-5 1h1m3 2h1m-2 1h1m-4 2h1m5 0h1m70 1h1m-71 1h1m-2 3h1m2 0h1m63 0h1m-66 3h1m90 0h1m-98 1h1m6 1h1m61 1h1m2 0h1m-68 1h1m0 2h1m58 1h1m-56 4h1m4 1h1m-8 1h1m47 0h1m-49 2h1m48 0h1m4 0h1m-6 2h1m5 1h1m7 0h1m-65 2h1m7 0h1m-4 2h1m-5 1h1m11 0h1m4 0h1m19 2h1m-41 1h1m15 0h1m1 0h1m32 1h1m6 0h1m-52 1h1m-10 2h1m44 0h1m12 0h1m-44 3h1m3 0h1m28 0h1m1 0h1m-44 2h1m3 0h1m9 0h1m26 1h1m9 0h1m-45 1h1m-6 1h1m6 1h1m2 0h1m-2 1h1m26 0h1m-41 1h1m14 0h1m37 0h1m-47 1h1m32 0h1m20 0h1m-19 3h1m-38 4h1m26 0h1m22 0h1m-10 1h1m-37 2h1m-6 1h1m28 0h1m18 0h1m-28 1h1m17 0h1m3 0h1m-7 1h1m-8 1h1m4 0h1m8 0h1m-24 1h1m12 0h1m13 0h1m-46 1h1m2 0h1m-4 2h1m5 4h1m14 1h1m0 2h1m6 0h1m7 0h1m-43 1h1m15 0h1m-10 1h1m1 0h1m9 0h1m12 0h1m8 0h1m-13 1h1m-17 1h1m-1 3h1m6 0h1m2 0h1m-6 1h1m22 0h1m-25 1h1m6 0h1m14 0h1m-10 1h1m-30 1h1m10 0h1m37 1h1m-39 1h1m13 0h1m-17 1h1m7 0h1m3 0h1m17 2h1m-23 1h1m1 0h1m12 0h1m8 1h1m21 0h1m-52 1h1m4 0h1m29 0h1m-39 1h1m24 3h1m-29 1h1m13 0h1m-32 1h1m51 0h1m-30 1h1m0 2h1m1 0h1m3 1h1m-8 2h1m22 1h1m-29 1h1m18 0h1m-4 1h1m-5 3h1m11 0h1m12 2h1m-31 1h1m13 1h1m-5 2h1m-8 5h1m2 1h1m0 1h1m6 0h1m5 11h1"/>
<path stroke="#000feb" d="M0 0m84 10h1m-23 11h1m44 0h1m-41 2h1m13 1h1m-21 1h1m3 0h2m1 0h1m13 0h1m1 1h1m-34 2h1m11 0h1m1 0h1m7 0h1m25 0h1m-52 1h1m2 0h2m2 0h2m5 0h2m3 0h2m5 0h1m1 0h1m-29 1h1m3 0h1m4 0h1m5 0h1m1 0h1m3 0h1m1 0h1m2 0h1m1 0h1m2 0h1m-23 1h1m7 0h1m2 0h1m4 0h1m8 0h1m3 0h1m2 0h1m-39 1h1m10 0h1m1 0h1m6 0h2m2 0h1m2 0h1m1 0h2m1 0h1m3 0h1m-38 1h1m1 0h1m8 0h1m2 0h1m1 0h1m11 0h1m4 0h1m-34 1h1m2 0h1m12 0h2m12 0h1m-29 1h1m2 0h1m1 0h1m25 0h1m1 0h1m-32 1h1m3 0h1m7 0h1m11 0h1m4 0h1m1 0h1m-40 1h1m4 0h1m1 0h1m4 0h1m26 0h3m-43 1h1m1 0h1m1 0h1m1 0h3m27 0h1m6 0h1m-58 1h1m16 0h1m39 0h1m1 0h2m2 0h1m5 0h1m-56 1h1m3 0h1m44 0h1m-47 1h1m38 0h2m5 0h2m-57 1h1m2 0h3m2 0h1m44 0h1m-52 1h2m4 0h1m-9 1h1m3 0h1m47 0h1m13 0h1m-68 1h1m3 0h2m54 0h1m7 0h1m-15 1h1m4 0h1m-59 1h1m-5 1h1m6 0h1m52 0h1m2 0h1m-62 1h1m3 0h1m53 0h2m-3 1h1m2 0h1m-3 1h1m2 0h1m0 1h1m2 0h2m-65 1h2m55 0h1m1 0h1m0 1h1m1 0h1m10 0h1m-86 1h1m5 0h1m5 0h1m58 0h1m-60 1h1m67 0h1m-70 1h1m58 0h1m2 0h1m3 0h1m-66 1h1m63 0h2m-68 1h1m59 0h1m2 0h1m1 0h1m1 0h2m-67 1h1m59 0h1m-63 1h1m2 0h1m57 0h1m6 0h1m14 0h1m-85 1h1m3 0h1m57 0h1m1 0h1m-67 1h1m68 0h2m-68 1h1m67 0h1m-79 1h1m73 0h1m-66 1h2m60 0h2m-69 1h2m3 0h1m63 0h2m-67 1h1m63 0h2m-63 1h1m79 0h1m-87 1h1m3 0h2m62 0h1m1 0h1m-69 1h1m2 0h1m1 0h1m57 0h1m1 0h1m1 0h2m-72 1h1m4 0h1m60 0h1m2 0h1m-65 1h1m2 0h1m57 0h2m1 0h1m-5 1h1m3 0h1m-65 1h1m59 0h1m-60 1h3m58 0h1m-57 1h1m0 1h2m50 0h1m2 0h1m-3 1h1m-52 1h1m44 0h1m3 0h1m10 0h1m-14 1h2m1 0h1m2 0h1m-6 1h1m-1 1h1m1 0h1m-55 1h1m47 0h2m-48 1h1m2 0h1m2 0h1m44 0h1m2 0h1m1 0h1m-57 1h2m6 0h1m39 0h2m4 0h1m1 0h1m-9 1h1m5 0h1m-49 1h1m36 0h2m2 0h2m9 0h1m-14 1h2m7 0h2m10 0h1m-65 1h1m1 0h1m-10 1h2m3 0h1m46 0h1m-49 1h1m3 0h1m2 0h2m27 0h1m6 0h1m1 0h1m1 0h2m-45 1h4m29 0h1m6 0h1m2 0h1m1 0h1m3 0h1m-49 1h1m1 0h1m6 0h1m25 0h1m1 0h1m4 0h1m5 0h1m-45 1h1m1 0h1m33 0h2m1 0h1m-41 1h1m3 0h1m28 0h1m1 0h2m-46 1h1m5 0h1m2 0h2m-12 1h1m8 0h1m1 0h2m1 0h1m27 0h2m-37 1h3m27 0h1m12 0h1m-41 1h1m5 0h1m19 0h1m5 0h1m2 0h2m-32 1h1m2 0h1m16 0h1m1 0h1m-28 1h1m1 0h2m25 0h1m5 0h2m4 0h1m-47 1h2m3 0h1m5 0h2m10 0h1m5 0h1m4 0h1m7 0h1m2 0h2m-40 1h2m11 0h1m15 0h1m4 0h1m-40 1h1m4 0h1m2 0h2m10 0h1m9 0h1m4 0h2m9 0h1m-53 1h1m4 0h1m1 0h1m11 0h3m13 0h2m-30 1h1m4 0h1m6 0h1m14 0h1m3 0h2m-32 1h1m3 0h2m3 0h1m2 0h1m4 0h1m2 0h1m1 0h1m5 0h3m2 0h1m-37 1h1m9 0h1m11 0h2m1 0h2m5 0h2m2 0h1m-26 1h1m11 0h1m1 0h1m2 0h1m3 0h2m1 0h2m-38 1h1m2 0h2m9 0h1m7 0h1m2 0h1m1 0h2m3 0h1m7 0h1m-40 1h1m3 0h1m4 0h2m3 0h2m6 0h1m7 0h1m1 0h2m6 0h1m-32 1h1m2 0h1m2 0h1m1 0h1m8 0h2m2 0h1m3 0h1m1 0h2m6 0h1m3 0h1m-48 1h1m3 0h1m2 0h2m3 0h2m3 0h1m5 0h1m2 0h3m13 0h1m-41 1h1m11 0h1m2 0h1m4 0h2m11 0h2m-33 1h1m5 0h1m1 0h1m2 0h1m1 0h1m2 0h1m3 0h1m3 0h1m1 0h1m9 0h3m-45 1h1m13 0h1m5 0h1m4 0h1m6 0h1m11 0h1m-32 1h1m1 0h1m4 0h1m6 0h1m1 0h2m4 0h1m8 0h1m-31 1h2m3 0h1m4 0h2m2 0h1m1 0h2m2 0h1m8 0h1m-37 1h1m5 0h1m3 0h1m1 0h1m3 0h1m3 0h1m2 0h1m1 0h1m-27 1h1m1 0h2m4 0h1m11 0h1m1 0h1m1 0h1m1 0h3m4 0h1m-28 1h1m1 0h2m3 0h1m3 0h1m3 0h1m3 0h1m1 0h1m5 0h1m-28 1h1m3 0h1m6 0h2m2 0h2m2 0h1m1 0h1m-23 1h1m3 0h1m1 0h1m6 0h1m3 0h1m-32 1h1m7 0h1m5 0h1m2 0h1m7 0h1m3 0h1m1 0h2m1 0h1m-27 1h1m1 0h2m6 0h2m2 0h1m1 0h1m2 0h1m1 0h1m2 0h2m-27 1h1m3 0h1m1 0h2m1 0h1m2 0h1m1 0h2m1 0h1m5 0h4m-20 1h1m1 0h1m5 0h1m3 0h1m-16 1h2m1 0h1m6 0h1m6 0h1m7 0h2m-25 1h1m4 0h1m1 0h1m1 0h1m1 0h1m5 0h1m1 0h2m-22 1h2m3 0h2m4 0h1m5 0h1m1 0h1m4 0h1m2 0h2m-30 1h1m6 0h2m2 0h1m3 0h1m4 0h1m1 0h2m3 0h1m3 0h1m-36 1h1m3 0h1m10 0h1m2 0h1m11 0h1m3 0h2m-42 1h1m15 0h1m2 0h1m1 0h4m5 0h1m-28 1h1m18 0h1m7 0h1m7 0h1m2 0h1m2 0h1m-35 1h1m1 0h1m4 0h1m3 0h1m1 0h2m1 0h1m10 0h1m6 0h1m-33 1h2m1 0h1m2 0h1m8 0h1m8 0h2m-27 1h1m1 0h1m6 0h1m10 0h1m5 0h1m-21 1h2m6 0h3m9 0h1m-18 1h2m3 0h1m24 0h1m-41 1h1m1 0h1m2 0h3m7 0h1m-4 1h1m2 0h2m11 0h1m-24 1h1m3 0h1m1 0h1m5 0h1m1 0h1m3 0h1m4 0h2m-26 1h1m7 0h1m6 0h1m1 0h2m-27 1h1m7 0h1m7 0h1m1 0h1m2 0h1m3 0h2m4 0h1m-26 1h1m4 0h1m3 0h1m1 0h4m2 0h1m5 0h2m-31 1h2m6 0h1m4 0h1m2 0h1m2 0h1m3 0h1m1 0h1m3 0h1m-22 1h1m1 0h1m1 0h2m8 0h1m6 0h1m1 0h1m1 0h1m2 0h1m4 0h1m-34 1h2m2 0h1m1 0h1m7 0h1m5 0h1m3 0h1m2 0h1m-28 1h1m1 0h2m3 0h3m1 0h2m4 0h1m4 0h3m-17 1h1m-9 1h1m-2 1h2m7 0h1m3 0h1m-23 1h1m17 0h2m10 0h1m-25 1h2m9 0h1m3 0h1m-12 1h1m7 0h1m1 0h2m2 0h1m6 0h2m-16 1h1m2 0h2m3 0h2m14 1h2m-31 1h1m11 0h1m6 0h2m-9 1h1m2 0h1m1 0h1m-8 1h1m-7 1h1m11 0h1m7 0h1m-18 1h1m5 0h3m-9 3h1m3 0h2m-24 1h2m2 1h1m6 0h1m17 0h1m-27 1h1m3 0h1m-10 1h1m4 0h1m15 0h1m5 0h2m-12 1h1m4 0h2m-7 1h1m4 0h1m-1 1h2m2 0h1m3 0h1m-26 1h1m-4 1h1m21 0h2m-1 1h1m-21 1h1m7 0h1m23 1h2m5 0h1m-19 1h1m-1 1h1m3 1h1m5 0h1m-25 2h1m-6 2h1m10 0h2m9 6h1m-1 1h1m-9 4h1m-14 1h1m-1 1h1m14 21h1"/>
<path stroke="#002dff" d="M0 0m73 29h1m-2 1h2m-15 1h1m19 0h2m-14 1h2m-7 1h1m4 0h6m1 0h1m-19 1h1m4 0h4m5 0h1m1 0h4m2 0h1m-23 1h1m4 0h7m1 0h9m1 0h1m1 0h2m1 0h1m-29 1h1m4 0h5m1 0h2m1 0h1m1 0h2m1 0h3m2 0h2m2 0h1m-31 1h3m2 0h4m5 0h1m1 0h2m1 0h2m3 0h3m2 0h1m-28 1h4m5 0h1m14 0h1m2 0h1m1 0h3m-35 1h3m25 0h3m1 0h3m-37 1h1m2 0h3m24 0h4m5 0h1m-46 1h1m3 0h1m3 0h2m29 0h3m3 0h1m-43 1h1m36 0h5m1 0h1m-48 1h1m4 0h1m1 0h1m35 0h3m1 0h1m-52 1h1m3 0h1m1 0h3m37 0h4m-45 1h2m1 0h1m1 0h1m37 0h1m1 0h1m-46 1h1m2 0h1m1 0h1m38 0h1m-47 1h3m1 0h1m44 0h1m-53 1h1m3 0h3m45 0h2m-54 1h1m2 0h4m43 0h4m-56 1h1m1 0h2m1 0h2m47 0h2m-57 1h5m1 0h2m1 0h1m45 0h2m2 0h1m-60 1h2m1 0h3m57 0h1m-64 1h1m3 0h1m51 0h3m-59 1h2m2 0h2m51 0h3m-57 1h2m1 0h1m51 0h3m-57 1h2m53 0h3m-59 1h2m57 0h1m-59 1h2m52 0h1m2 0h2m-62 1h3m54 0h2m-57 1h2m1 0h1m50 0h2m1 0h1m-60 1h2m1 0h2m51 0h1m1 0h2m-59 1h1m2 0h1m52 0h1m1 0h1m3 0h1m-67 1h1m3 0h3m53 0h3m1 0h2m-63 1h3m1 0h1m53 0h2m1 0h2m-63 1h4m53 0h6m-63 1h1m2 0h1m52 0h1m1 0h1m-59 1h4m52 0h1m1 0h2m-61 1h1m2 0h1m53 0h4m-59 1h3m1 0h1m49 0h1m3 0h1m-58 1h3m50 0h3m3 0h1m-60 1h2m51 0h4m-58 1h5m49 0h4m4 0h1m-62 1h3m2 0h1m45 0h3m1 0h2m-56 1h1m1 0h3m45 0h5m-55 1h2m48 0h1m1 0h1m-51 1h1m46 0h6m-52 1h1m45 0h1m1 0h1m1 0h2m1 0h2m-9 1h4m-54 1h4m2 0h3m40 0h4m1 0h2m-54 1h3m1 0h3m46 0h1m-53 1h1m1 0h5m39 0h2m-48 1h4m2 0h1m37 0h2m1 0h3m-49 1h2m3 0h1m36 0h2m3 0h2m-48 1h1m1 0h2m34 0h2m1 0h3m-42 1h2m2 0h1m31 0h7m-38 1h1m32 0h5m-43 1h1m4 0h2m28 0h3m1 0h1m1 0h2m-44 1h3m2 0h4m27 0h4m-35 1h4m22 0h2m1 0h1m1 0h3m5 0h1m-40 1h1m2 0h4m6 0h1m12 0h1m2 0h1m1 0h2m1 0h2m3 0h1m-38 1h1m1 0h2m17 0h2m2 0h5m1 0h1m-34 1h3m1 0h3m1 0h1m1 0h1m4 0h1m5 0h2m1 0h1m1 0h1m3 0h4m-34 1h1m1 0h3m1 0h2m16 0h2m1 0h1m2 0h2m1 0h1m2 0h1m-35 1h3m2 0h3m10 0h1m2 0h6m3 0h1m-34 1h1m3 0h1m1 0h2m1 0h4m7 0h2m1 0h2m2 0h3m1 0h2m2 0h1m-34 1h1m2 0h2m1 0h5m2 0h1m1 0h1m2 0h3m1 0h2m1 0h3m1 0h2m-30 1h1m1 0h3m4 0h2m1 0h2m3 0h7m1 0h4m-27 1h2m2 0h3m1 0h3m1 0h1m2 0h7m1 0h1m2 0h1m-27 1h1m1 0h12m4 0h2m3 0h3m-29 1h2m4 0h1m1 0h5m1 0h3m2 0h5m3 0h2m-22 1h1m1 0h14m5 0h3m1 0h2m-27 1h2m1 0h3m1 0h2m1 0h1m1 0h4m1 0h3m2 0h1m-28 1h1m3 0h4m2 0h1m1 0h1m2 0h3m1 0h1m3 0h2m-29 1h1m3 0h2m1 0h1m1 0h3m1 0h1m2 0h8m1 0h4m3 0h2m-30 1h1m3 0h3m1 0h3m1 0h1m1 0h1m1 0h2m2 0h2m3 0h3m-19 1h2m1 0h8m1 0h1m4 0h1m-18 1h5m2 0h1m2 0h2m-16 1h2m2 0h3m1 0h2m3 0h2m-16 1h1m1 0h1m3 0h1m-6 1h1m5 0h1m4 0h1m-13 1h1m2 0h1m2 0h2m13 0h1m1 0h1m-19 1h4m3 0h1m-5 1h5m-10 1h3m5 0h1m2 0h1m3 0h1m-26 1h1m11 0h1m8 0h1m-3 1h1m2 0h1m2 0h1m-15 1h1m3 0h2m5 0h4m-11 1h3m-3 1h2m3 0h1m-6 1h1m-5 1h2m2 0h1m1 0h1m-7 1h2m2 0h2m-1 1h1m-3 1h2m-5 1h5m-5 1h1m4 1h1m-7 2h1m5 2h2m5 0h2m3 0h1m-13 1h1m-7 1h1m-5 3h1m5 1h2m-4 1h1m2 0h1m-11 3h1m8 1h1m1 1h1m4 1h1m0 1h1m-1 1h1m-11 5h2m-1 22h1"/>
<path stroke="#0050ff" d="M0 0m71 34h1m-9 3h2m2 0h1m4 0h1m2 0h3m-18 1h5m1 0h1m1 0h5m1 0h3m1 0h2m-22 1h9m2 0h12m-29 1h2m3 0h4m8 0h1m4 0h2m2 0h3m-29 1h1m3 0h2m20 0h6m-33 1h2m1 0h4m21 0h6m-35 1h1m1 0h3m27 0h1m1 0h2m-37 1h4m1 0h1m27 0h3m-38 1h1m1 0h1m1 0h1m31 0h5m-42 1h2m1 0h1m1 0h2m31 0h5m-43 1h1m1 0h2m1 0h1m32 0h7m-43 1h3m37 0h2m1 0h1m-45 1h5m36 0h2m-45 1h2m1 0h2m39 0h3m-47 1h1m1 0h1m41 0h1m1 0h1m-49 1h5m41 0h4m-50 1h3m1 0h2m-6 1h1m1 0h2m46 0h1m-50 1h1m45 0h1m2 0h1m-51 1h1m46 0h6m-53 1h3m48 0h2m-53 1h3m46 0h3m-54 1h3m2 0h1m45 0h2m-50 1h1m46 0h3m2 0h1m-54 1h1m49 0h1m-51 1h2m48 0h2m-53 1h3m47 0h1m1 0h1m-54 1h1m1 0h2m49 0h2m-54 1h2m1 0h2m45 0h3m-53 1h2m1 0h1m45 0h2m-51 1h5m44 0h3m-53 1h5m44 0h3m-51 1h1m1 0h1m45 0h1m1 0h1m-50 1h3m45 0h2m-50 1h3m45 0h2m-49 1h3m44 0h2m-50 1h1m2 0h2m41 0h2m-45 1h1m1 0h1m40 0h2m-46 1h2m1 0h1m39 0h2m-46 1h4m41 0h1m-44 1h3m39 0h2m-43 1h1m1 0h1m36 0h1m2 0h1m-41 1h2m34 0h1m2 0h1m-39 1h1m35 0h3m-39 1h2m1 0h1m31 0h4m-42 1h2m1 0h2m32 0h3m2 0h1m-43 1h2m1 0h2m2 0h1m28 0h3m-36 1h6m26 0h1m2 0h1m-34 1h3m26 0h2m-29 1h1m1 0h2m1 0h1m11 0h2m6 0h5m-30 1h5m1 0h1m9 0h1m7 0h4m-27 1h6m14 0h6m-26 1h8m12 0h2m2 0h1m-28 1h1m5 0h6m1 0h1m2 0h1m6 0h2m1 0h2m-28 1h1m4 0h3m1 0h4m3 0h5m3 0h2m-18 1h1m2 0h3m1 0h5m4 0h1m-17 1h5m2 0h2m1 0h3m-12 1h1m1 0h7m2 0h1m-10 1h2m1 0h4m2 0h1m-9 1h1m1 0h1m1 0h2m3 0h1m-16 1h3m6 0h3m-13 1h2m9 0h2m-1 1h3m-3 1h2m-11 1h1"/>
<path stroke="#007dff" d="M0 0m67 38h1m9 0h1m-11 1h2m-8 1h2m1 0h5m1 0h4m2 0h2m-20 1h7m3 0h4m1 0h3m1 0h1m-20 1h1m1 0h2m1 0h1m1 0h1m2 0h1m9 0h1m-24 1h1m1 0h3m1 0h1m16 0h1m1 0h2m-29 1h1m1 0h1m1 0h2m18 0h2m2 0h1m-30 1h2m27 0h2m-30 1h2m28 0h1m-32 1h1m30 0h1m-33 1h2m31 0h4m-2 1h2m-38 1h2m34 0h3m-41 1h1m37 0h3m-41 1h1m37 0h3m-43 1h1m2 0h1m38 0h4m-45 1h4m38 0h1m1 0h2m-48 1h2m42 0h1m1 0h2m-48 1h3m41 0h1m-44 1h2m41 0h5m-48 1h2m41 0h1m1 0h1m-47 1h1m1 0h1m42 0h2m-47 1h3m41 0h1m-45 1h4m40 0h4m-48 1h3m42 0h3m-48 1h3m43 0h1m1 0h1m-49 1h1m1 0h1m41 0h5m-50 1h1m45 0h2m-48 1h1m1 0h2m41 0h2m-44 1h1m-2 1h3m-4 1h2m42 0h1m-44 1h1m42 0h2m-45 1h3m40 0h2m-44 1h2m40 0h2m-43 1h1m38 0h2m-42 1h1m40 0h1m-42 1h1m0 1h3m1 0h2m31 0h4m-40 1h4m32 0h3m-38 1h3m32 0h1m1 0h2m-38 1h4m28 0h1m-33 1h4m26 0h2m2 0h1m-34 1h1m1 0h1m26 0h4m-33 1h5m22 0h3m1 0h1m-32 1h2m1 0h3m16 0h1m3 0h5m-27 1h5m11 0h2m1 0h2m1 0h4m-27 1h8m9 0h5m2 0h2m-26 1h1m2 0h1m1 0h2m2 0h1m5 0h1m2 0h1m1 0h4m-18 1h2m1 0h6m1 0h7m-17 1h4m2 0h8m-12 1h3m1 0h8m-9 1h2m1 0h6m-9 1h2"/>
<path stroke="#00afff" d="M0 0m63 40h1m1 1h3m4 0h1m3 0h1m-18 1h1m2 0h1m1 0h1m1 0h1m2 0h9m-18 1h1m1 0h1m3 0h2m3 0h7m1 0h1m-24 1h1m2 0h2m1 0h1m12 0h1m3 0h2m-27 1h8m4 0h1m8 0h1m1 0h4m-26 1h3m1 0h1m16 0h7m-30 1h2m22 0h1m2 0h3m-30 1h4m24 0h2m-31 1h2m28 0h1m1 0h2m-34 1h1m31 0h2m-37 1h3m32 0h2m-37 1h4m31 0h2m-36 1h2m33 0h3m-3 1h4m1 0h1m-44 1h4m35 0h3m-41 1h3m37 0h1m-41 1h2m36 0h3m-41 1h1m37 0h3m1 0h1m-43 1h2m38 0h2m-42 1h2m38 0h1m1 0h1m-42 1h1m38 0h1m-41 1h2m38 0h2m-42 1h1m39 0h3m-45 1h1m1 0h1m39 0h1m-42 1h2m39 0h2m-2 1h1m-41 1h2m37 0h3m-41 1h1m37 0h3m-43 1h1m39 0h2m-42 1h2m39 0h1m-40 1h1m37 0h2m-40 1h1m1 0h2m33 0h3m-40 1h2m35 0h1m-38 1h2m1 0h1m32 0h3m-39 1h2m1 0h1m32 0h3m-37 1h1m32 0h1m-32 1h2m28 0h2m-32 1h3m25 0h4m-30 1h1m1 0h1m24 0h1m1 0h1m-30 1h1m1 0h1m25 0h2m-29 1h1m21 0h3m-24 1h1m1 0h1m4 0h1m6 0h3m1 0h2m1 0h1m3 0h1m-25 1h4m1 0h1m9 0h1m1 0h3m-17 1h2m4 0h3m4 0h1m2 0h1m-15 1h2m2 0h3m1 0h1m5 0h2m-17 1h2m1 0h5m-7 1h1m1 1h2m-1 1h1"/>
<path stroke="#00e1ff" d="M0 0m67 42h1m-5 1h3m2 0h3m-10 1h1m1 0h1m2 0h2m1 0h2m1 0h3m1 0h1m-15 1h2m3 0h1m2 0h5m1 0h1m-19 1h1m1 0h2m2 0h1m2 0h1m-13 1h3m1 0h2m13 0h1m3 0h2m-23 1h1m25 0h1m-3 1h1m1 0h1m-31 1h1m1 0h1m25 0h3m-32 1h1m30 0h1m-31 1h1m30 1h1m-34 1h1m32 0h1m-34 1h1m33 0h1m0 1h2m-37 1h1m-2 3h1m-1 1h1m36 0h1m-38 1h1m36 0h1m-39 1h2m36 0h1m-1 1h1m-39 1h2m35 0h2m-39 1h1m0 1h1m35 1h1m-39 1h2m36 0h1m-38 1h2m34 0h1m1 0h1m-38 1h2m32 0h1m1 0h1m-37 1h1m33 0h2m-35 1h1m33 0h1m-35 1h1m-1 1h1m2 0h1m27 0h1m1 0h1m-3 1h2m-28 1h1m23 0h2m-6 1h1m2 0h2m-25 1h1m19 0h1m3 0h2m-26 1h1m21 0h3m-24 1h2m1 0h2m11 0h4m-19 1h1m2 0h2m11 0h1m2 0h1m-16 1h1m1 0h1m1 0h1m2 0h2m1 0h1m-10 1h1m2 0h1m4 0h1m-7 1h2m3 0h1"/>
<path stroke="#00ffd7" d="M0 0m64 44h2m-2 1h2m2 0h1m-7 1h2m7 0h1m1 0h3m-18 1h1m16 0h2m-3 1h1m1 0h5m-27 1h3m20 0h1m2 0h1m-27 1h1m-2 1h4m24 0h2m-29 1h1m26 0h3m-32 1h4m25 0h2m-31 1h1m1 0h2m27 0h1m-32 1h1m31 0h1m-34 1h1m33 0h1m-36 1h1m-2 1h3m33 0h1m-36 1h1m33 0h4m-37 1h1m35 0h1m-37 1h1m34 2h1m-38 1h2m35 0h1m-2 1h1m-38 1h1m1 0h1m34 0h1m1 0h1m-37 1h1m33 0h2m-37 1h3m32 0h1m-34 1h1m32 0h1m-34 1h1m33 0h1m-35 1h1m30 0h1m-1 1h1m-31 1h2m29 0h1m-32 1h2m27 0h3m-32 1h1m27 0h1m1 0h1m-30 1h2m3 0h1m18 0h3m-26 1h1m1 0h1m20 0h1m-23 1h3m18 0h2m-21 1h1m15 0h1m2 0h3m-22 1h4m2 0h1m1 0h1m4 0h2m1 0h4m-19 1h1m2 0h4m1 0h2m1 0h3m4 0h1m-18 1h1m2 0h1m1 0h2m1 0h3m-6 1h1m1 0h2m2 0h1m-8 1h2m4 0h1"/>
<path stroke="#00ff8c" d="M0 0m71 44h1m-3 1h1m-5 1h1m3 0h2m1 0h1m-12 1h8m1 0h1m1 0h1m-15 1h3m1 0h2m4 0h1m1 0h1m1 0h2m1 0h1m-19 1h7m8 0h3m1 0h1m1 0h2m-24 1h7m10 0h1m2 0h3m1 0h1m-3 1h1m-24 1h1m24 0h1m-2 1h1m3 0h1m-31 1h1m26 0h3m-30 1h1m1 0h1m25 0h2m-31 1h1m1 0h1m25 0h1m1 0h3m-33 1h4m27 0h3m-34 1h1m28 0h1m1 0h2m-34 1h2m-1 1h2m29 0h1m1 0h2m-3 1h3m-36 1h1m1 0h1m31 0h2m-36 1h1m1 0h1m27 0h2m2 0h1m-35 1h1m1 0h1m28 0h1m1 0h1m-34 1h2m30 0h2m-34 1h3m30 0h1m1 0h1m-35 1h2m30 0h1m-35 2h2m2 0h1m29 0h1m-31 1h1m27 0h3m-3 1h1m2 0h1m-33 1h1m1 0h1m22 0h1m1 1h1m1 0h2m-3 1h1m-27 1h1m24 0h1m-25 1h1m3 0h2m19 0h1m-24 1h2m15 0h1m3 0h1m-21 1h1m1 0h2m8 0h1m3 0h1m-17 1h2m1 0h2m3 0h1m7 0h1m-14 1h2m1 0h1m1 0h4m2 0h1m-8 1h1m2 0h1m-3 1h1"/>
<path stroke="#00ff32" d="M0 0m68 46h1m0 1h1m1 0h1m1 0h1m-13 1h1m2 0h4m1 0h1m1 0h1m-8 1h1m1 0h1m1 0h4m3 0h1m-11 1h1m1 0h1m1 0h1m2 0h1m1 0h2m3 0h1m-23 1h6m7 0h8m1 0h2m-25 1h6m11 0h1m3 0h3m-24 1h3m18 0h1m2 0h1m-25 1h5m16 0h1m1 0h1m-26 1h1m1 0h1m1 0h1m19 0h3m-28 1h1m1 0h3m21 0h1m1 0h1m-25 1h1m22 0h1m1 0h1m-30 1h4m1 0h1m23 0h1m-30 1h4m24 0h3m-29 1h2m22 0h4m1 0h1m-33 1h4m24 0h2m1 0h1m-32 1h1m28 0h4m-33 1h1m2 0h2m23 0h1m2 0h2m-33 1h1m1 0h2m24 0h2m1 0h1m1 0h1m-33 1h2m2 0h1m24 0h1m-29 1h1m1 0h1m25 0h2m-30 1h1m26 0h3m-31 1h3m25 0h4m-32 1h1m1 0h2m1 0h1m20 0h1m2 0h2m-31 1h1m1 0h2m21 0h1m1 0h2m-29 1h4m20 0h5m-28 1h1m1 0h4m16 0h2m1 0h4m-28 1h5m1 0h1m10 0h1m2 0h5m1 0h1m-27 1h3m1 0h1m2 0h1m13 0h5m-25 1h7m1 0h2m6 0h8m-23 1h2m3 0h3m1 0h1m3 0h1m2 0h5m-18 1h9m1 0h5m1 0h2m-18 1h1m2 0h3m1 0h4m1 0h3m-14 1h1m2 0h3m1 0h6"/>
<path stroke="#32ff00" d="M0 0m65 49h1m1 0h1m-5 1h2m3 0h1m1 0h2m-9 1h7m-8 1h2m2 0h1m1 0h5m1 0h3m-18 1h3m2 0h1m4 0h1m1 0h2m1 0h3m1 0h1m-18 1h1m2 0h2m9 0h2m1 0h1m-22 1h1m1 0h2m13 0h1m1 0h2m-20 1h3m13 0h1m2 0h1m-22 1h1m1 0h1m17 0h4m1 0h1m-25 1h1m20 0h3m-24 1h1m20 0h1m-25 1h1m1 1h2m21 0h1m2 0h1m-29 1h3m2 0h1m20 0h1m-27 1h1m23 0h2m-24 1h1m22 0h1m-25 1h2m21 0h4m-27 1h1m1 0h1m1 0h1m19 0h3m-27 1h4m20 0h2m-25 1h4m18 0h3m-21 1h1m17 0h1m1 0h2m-24 1h1m1 0h1m16 0h1m1 0h1m-23 1h3m15 0h2m-15 1h1m12 0h1m-16 1h1m3 0h3m2 0h1m3 0h2m-17 1h1m1 0h2m1 0h1m2 0h1m3 0h6m-13 1h1m2 0h6m-5 1h3m1 0h2m-4 1h1m-4 1h1"/>
<path stroke="#96ff00" d="M0 0m66 50h1m0 2h1m-6 1h1m2 0h4m1 0h1m2 0h1m-12 1h2m7 0h1m1 0h2m-12 1h1m2 0h1m5 0h2m1 0h1m-15 1h3m8 0h1m5 0h1m-20 1h1m1 0h1m1 0h1m9 0h1m1 0h1m-17 1h2m12 0h1m3 0h1m-2 1h2m1 0h2m-24 1h1m18 0h3m-17 1h1m12 0h1m-19 1h2m1 0h1m16 0h3m-22 1h1m-2 1h1m1 0h1m17 0h2m-21 1h2m16 0h1m-19 1h1m2 0h1m16 0h1m-3 1h1m1 0h1m-2 1h1m-21 1h1m3 0h2m13 0h2m-21 1h1m4 0h1m7 0h1m3 0h1m1 0h1m-17 1h3m8 0h1m2 0h1m-15 1h2m2 0h1m3 0h1m2 0h1m1 0h2m-13 1h1m5 0h1m1 0h1m-7 1h1m3 0h1m-4 2h1"/>
<path stroke="#e6ff00" d="M0 0m64 52h2m0 2h2m1 0h1m2 0h1m-12 1h2m1 0h2m1 0h2m2 0h1m-8 1h1m5 0h2m3 0h2m-17 1h1m1 0h1m9 0h1m-12 1h2m1 0h1m1 0h1m9 0h1m-19 1h2m2 0h1m1 0h1m9 0h2m-17 1h1m2 0h4m7 0h1m-16 1h2m16 0h3m-22 2h1m1 0h1m14 0h1m-17 1h1m17 0h1m-17 1h1m-1 1h1m-2 1h2m13 0h2m1 0h1m-18 1h1m1 0h1m7 0h2m1 0h1m-15 1h1m11 0h1m1 0h2m-16 1h1m8 0h1m3 0h2m1 0h1m-13 1h1m4 0h1m4 0h1m-8 1h2m1 0h2m1 0h1m-10 1h1m3 0h1m3 0h1m-5 1h1m1 0h1"/>
<path stroke="#ffd200" d="M0 0m70 54h1m2 2h1m-7 1h1m3 0h1m-5 1h1m3 0h2m1 0h2m-16 1h2m7 0h1m-10 1h1m5 0h1m2 0h1m-10 1h2m-1 1h1m3 0h1m9 0h1m-16 1h2m13 0h1m1 0h1m-18 1h1m10 0h1m-10 1h1m12 0h1m1 0h1m-5 1h1m1 0h1m1 0h1m-17 1h2m10 0h1m-10 1h1m1 0h1m9 0h1m-14 1h1m8 0h1m-10 1h4m-3 1h2m3 0h1m2 0h1m-10 1h1m1 0h1m-1 2h1"/>
<path stroke="#ff8c00" d="M0 0m63 53h1m4 1h1m1 1h1m-5 1h1m-3 1h1m1 0h1m1 0h1m-6 1h1m3 1h1m2 0h3m-12 1h1m6 0h1m0 1h1m3 0h1m-4 1h1m5 0h1m-14 2h1m11 0h1m-15 1h1m6 0h1m2 0h1m-7 1h1m10 0h1m-5 1h1m-12 1h1m5 0h1m6 0h2m-12 1h1m2 0h1m1 0h1m5 0h1m-15 1h1m5 0h1m1 0h1m1 0h1m-2 1h1"/>
<path stroke="#ff4600" d="M0 0m74 57h1m-7 1h2m-4 1h1m1 0h1m4 0h1m-16 1h1m12 0h1m2 0h1m-12 1h3m5 0h2m-10 1h2m9 0h1m-11 1h1m4 0h1m3 0h1m-8 1h1m3 0h1m1 0h1m1 0h1m-1 1h1m-12 1h1m2 0h1m3 0h1m3 0h1m-12 1h2m3 0h1m-1 1h2m2 0h1m-6 3h1"/>
<path stroke="#ff0000" d="M0 0m69 55h1m-5 1h1m1 0h3m-5 1h1m3 0h2m-6 1h1m4 0h1m-8 1h1m1 0h1m1 1h1m2 0h1m1 0h1m2 0h1m-10 1h3m1 0h1m3 0h1m-13 1h1m3 0h4m1 0h3m-12 1h2m1 0h4m1 0h3m3 0h1m-16 1h2m1 0h2m1 0h3m3 0h1m-11 1h5m1 0h2m1 0h2m-12 1h1m1 0h1m2 0h3m1 0h2m-8 1h3m1 0h3m-9 1h1m1 0h1m-1 1h2m1 0h1m1 0h1m-5 2h1"/>
</g>
<!-- histograms -->
<path d="M342.4 1284.0L374.4 1284.0L376.4 1282.1L378.4 1282.0L380.4 1281.8L382.4 1281.5L384.4 1281.2L386.4 1280.8L388.4 1280.2L390.4 1279.6L392.4 1278.9L394.4 1277.8L396.4 1276.6L398.4 1274.7L400.4 1272.7L402.4 1270.0L404.4 1266.2L406.4 1262.6L408.4 1256.8L410.4 1251.6L412.4 1244.0L414.4 1236.4L416.4 1226.0L418.4 1216.5L420.4 1208.9L422.4 1198.8L424.4 1191.8L426.4 1184.1L428.4 1180.7L430.4 1178.9L432.4 1178.2L434.4 1177.0L436.4 1178.5L438.4 1186.6L440.4 1194.7L442.4 1200.6L444.4 1211.3L446.4 1220.6L448.4 1229.5L450.4 1238.1L452.4 1245.8L454.4 1253.0L456.4 1258.0L458.4 1263.1L460.4 1266.8L462.4 1270.3L464.4 1273.0L466.4 1274.8L468.4 1276.2L470.4 1277.6L472.4 1278.6L474.4 1279.4L476.4 1280.1L478.4 1280.6L480.4 1281.0L482.4 1281.3L484.4 1281.6L486.4 1281.9L488.4 1282.0L490.4 1282.2L492.4 1284.0L793.6 1284.0Z" fill="#d9bdbd" fill-opacity="0.62" stroke="none"/>
<path d="M342.4 1284.0L374.4 1284.0L376.4 1282.1L378.4 1282.0L380.4 1281.8L382.4 1281.5L384.4 1281.2L386.4 1280.8L388.4 1280.2L390.4 1279.6L392.4 1278.9L394.4 1277.8L396.4 1276.6L398.4 1274.7L400.4 1272.7L402.4 1270.0L404.4 1266.2L406.4 1262.6L408.4 1256.8L410.4 1251.6L412.4 1244.0L414.4 1236.4L416.4 1226.0L418.4 1216.5L420.4 1208.9L422.4 1198.8L424.4 1191.8L426.4 1184.1L428.4 1180.7L430.4 1178.9L432.4 1178.2L434.4 1177.0L436.4 1178.5L438.4 1186.6L440.4 1194.7L442.4 1200.6L444.4 1211.3L446.4 1220.6L448.4 1229.5L450.4 1238.1L452.4 1245.8L454.4 1253.0L456.4 1258.0L458.4 1263.1L460.4 1266.8L462.4 1270.3L464.4 1273.0L466.4 1274.8L468.4 1276.2L470.4 1277.6L472.4 1278.6L474.4 1279.4L476.4 1280.1L478.4 1280.6L480.4 1281.0L482.4 1281.3L484.4 1281.6L486.4 1281.9L488.4 1282.0L490.4 1282.2L492.4 1284.0L793.6 1284.0" fill="none" stroke="#c9a3a3" stroke-width="1.5" stroke-linejoin="round"/>
<path d="M342.4 1284.0H374.4" stroke="#fff" stroke-opacity="0.45" stroke-width="1.6"/>
<path d="M492.4 1284.0H793.6" stroke="#fff" stroke-opacity="0.45" stroke-width="1.6"/>
<path d="M342.4 1347.6L374.4 1347.6L376.4 1345.8L378.4 1345.6L380.4 1345.4L382.4 1345.1L384.4 1344.9L386.4 1344.5L388.4 1344.0L390.4 1343.4L392.4 1342.7L394.4 1341.7L396.4 1340.5L398.4 1339.0L400.4 1336.9L402.4 1334.5L404.4 1331.4L406.4 1327.2L408.4 1322.0L410.4 1315.7L412.4 1308.7L414.4 1301.9L416.4 1291.5L418.4 1280.8L420.4 1271.6L422.4 1261.9L424.4 1251.3L426.4 1243.6L428.4 1235.0L430.4 1230.8L432.4 1226.0L434.4 1227.1L436.4 1231.3L438.4 1234.2L440.4 1240.7L442.4 1251.0L444.4 1260.4L446.4 1272.3L448.4 1279.7L450.4 1290.7L452.4 1300.7L454.4 1308.6L456.4 1315.1L458.4 1320.9L460.4 1326.3L462.4 1330.3L464.4 1333.9L466.4 1336.5L468.4 1338.3L470.4 1340.0L472.4 1341.3L474.4 1342.2L476.4 1343.1L478.4 1343.7L480.4 1344.2L482.4 1344.6L484.4 1345.0L486.4 1345.3L488.4 1345.5L490.4 1345.7L492.4 1347.6L494.4 1347.6L496.4 1347.6L498.4 1347.6L500.4 1347.6L502.4 1347.6L504.4 1347.6L506.4 1347.6L508.4 1347.6L510.4 1347.6L512.4 1347.6L514.4 1347.6L516.4 1347.6L518.4 1347.6L520.4 1347.6L522.4 1347.6L524.4 1347.6L526.4 1347.6L528.4 1347.6L530.4 1347.6L532.4 1347.6L534.4 1347.6L536.4 1347.6L538.4 1347.6L540.4 1347.6L542.4 1347.6L544.4 1347.6L546.4 1347.6L548.4 1347.6L550.4 1347.6L552.4 1347.6L554.4 1347.6L556.4 1347.6L558.4 1347.6L560.4 1347.6L562.4 1347.6L564.4 1347.6L566.4 1347.6L568.4 1347.6L570.4 1347.6L572.4 1347.6L574.4 1347.6L576.4 1347.6L578.4 1347.6L580.4 1347.6L582.4 1347.6L584.4 1347.6L586.4 1347.6L588.4 1345.1L590.4 1344.8L592.4 1345.4L594.4 1347.6L596.4 1347.6L598.4 1347.6L600.4 1347.6L602.4 1347.6L604.4 1345.6L606.4 1345.2L608.4 1344.9L610.4 1344.8L612.4 1345.0L614.4 1345.3L616.4 1345.7L618.4 1347.6L793.6 1347.6Z" fill="#5f8a3a" fill-opacity="0.55" stroke="none"/>
<path d="M342.4 1347.6L374.4 1347.6L376.4 1345.8L378.4 1345.6L380.4 1345.4L382.4 1345.1L384.4 1344.9L386.4 1344.5L388.4 1344.0L390.4 1343.4L392.4 1342.7L394.4 1341.7L396.4 1340.5L398.4 1339.0L400.4 1336.9L402.4 1334.5L404.4 1331.4L406.4 1327.2L408.4 1322.0L410.4 1315.7L412.4 1308.7L414.4 1301.9L416.4 1291.5L418.4 1280.8L420.4 1271.6L422.4 1261.9L424.4 1251.3L426.4 1243.6L428.4 1235.0L430.4 1230.8L432.4 1226.0L434.4 1227.1L436.4 1231.3L438.4 1234.2L440.4 1240.7L442.4 1251.0L444.4 1260.4L446.4 1272.3L448.4 1279.7L450.4 1290.7L452.4 1300.7L454.4 1308.6L456.4 1315.1L458.4 1320.9L460.4 1326.3L462.4 1330.3L464.4 1333.9L466.4 1336.5L468.4 1338.3L470.4 1340.0L472.4 1341.3L474.4 1342.2L476.4 1343.1L478.4 1343.7L480.4 1344.2L482.4 1344.6L484.4 1345.0L486.4 1345.3L488.4 1345.5L490.4 1345.7L492.4 1347.6L494.4 1347.6L496.4 1347.6L498.4 1347.6L500.4 1347.6L502.4 1347.6L504.4 1347.6L506.4 1347.6L508.4 1347.6L510.4 1347.6L512.4 1347.6L514.4 1347.6L516.4 1347.6L518.4 1347.6L520.4 1347.6L522.4 1347.6L524.4 1347.6L526.4 1347.6L528.4 1347.6L530.4 1347.6L532.4 1347.6L534.4 1347.6L536.4 1347.6L538.4 1347.6L540.4 1347.6L542.4 1347.6L544.4 1347.6L546.4 1347.6L548.4 1347.6L550.4 1347.6L552.4 1347.6L554.4 1347.6L556.4 1347.6L558.4 1347.6L560.4 1347.6L562.4 1347.6L564.4 1347.6L566.4 1347.6L568.4 1347.6L570.4 1347.6L572.4 1347.6L574.4 1347.6L576.4 1347.6L578.4 1347.6L580.4 1347.6L582.4 1347.6L584.4 1347.6L586.4 1347.6L588.4 1345.1L590.4 1344.8L592.4 1345.4L594.4 1347.6L596.4 1347.6L598.4 1347.6L600.4 1347.6L602.4 1347.6L604.4 1345.6L606.4 1345.2L608.4 1344.9L610.4 1344.8L612.4 1345.0L614.4 1345.3L616.4 1345.7L618.4 1347.6L793.6 1347.6" fill="none" stroke="#3c6b12" stroke-width="1.5" stroke-linejoin="round"/>
<path d="M342.4 1347.6H374.4" stroke="#fff" stroke-opacity="0.45" stroke-width="1.6"/>
<path d="M618.4 1347.6H793.6" stroke="#fff" stroke-opacity="0.45" stroke-width="1.6"/>
<path d="M342.4 1411.3L374.4 1411.3L376.4 1409.4L378.4 1409.3L380.4 1409.0L382.4 1408.8L384.4 1408.5L386.4 1408.1L388.4 1407.5L390.4 1406.9L392.4 1406.2L394.4 1405.0L396.4 1403.8L398.4 1401.9L400.4 1399.7L402.4 1397.1L404.4 1393.3L406.4 1389.3L408.4 1384.1L410.4 1377.9L412.4 1370.5L414.4 1362.4L416.4 1353.3L418.4 1344.5L420.4 1333.9L422.4 1324.4L424.4 1317.8L426.4 1312.0L428.4 1304.2L430.4 1300.6L432.4 1301.5L434.4 1304.5L436.4 1306.3L438.4 1310.6L440.4 1321.9L442.4 1327.9L444.4 1337.8L446.4 1347.6L448.4 1355.7L450.4 1365.4L452.4 1372.3L454.4 1378.8L456.4 1385.1L458.4 1390.3L460.4 1394.5L462.4 1397.6L464.4 1400.2L466.4 1401.9L468.4 1403.6L470.4 1405.0L472.4 1406.0L474.4 1406.7L476.4 1407.3L478.4 1407.9L480.4 1408.2L482.4 1408.6L484.4 1408.9L486.4 1409.1L488.4 1409.3L490.4 1409.5L492.4 1411.3L494.4 1411.3L496.4 1411.3L498.4 1411.3L500.4 1411.3L502.4 1411.3L504.4 1411.3L506.4 1411.3L508.4 1411.3L510.4 1411.3L512.4 1411.3L514.4 1411.3L516.4 1411.3L518.4 1411.3L520.4 1411.3L522.4 1411.3L524.4 1411.3L526.4 1411.3L528.4 1411.3L530.4 1411.3L532.4 1411.3L534.4 1411.3L536.4 1411.3L538.4 1409.5L540.4 1409.4L542.4 1409.2L544.4 1409.1L546.4 1409.0L548.4 1408.8L550.4 1408.6L552.4 1408.5L554.4 1408.3L556.4 1408.0L558.4 1407.7L560.4 1407.5L562.4 1407.2L564.4 1406.9L566.4 1406.4L568.4 1406.1L570.4 1405.7L572.4 1405.3L574.4 1404.8L576.4 1404.3L578.4 1403.9L580.4 1403.3L582.4 1402.8L584.4 1402.1L586.4 1401.7L588.4 1401.1L590.4 1400.3L592.4 1399.6L594.4 1399.1L596.4 1398.5L598.4 1397.8L600.4 1397.2L602.4 1396.1L604.4 1395.6L606.4 1394.8L608.4 1394.3L610.4 1393.8L612.4 1392.8L614.4 1392.1L616.4 1391.7L618.4 1391.3L620.4 1390.5L622.4 1390.3L624.4 1389.6L626.4 1389.5L628.4 1389.2L630.4 1388.5L632.4 1388.2L634.4 1387.6L636.4 1388.0L638.4 1387.8L640.4 1388.1L642.4 1388.3L644.4 1388.3L646.4 1387.8L648.4 1388.4L650.4 1388.1L652.4 1388.3L654.4 1389.1L656.4 1389.0L658.4 1389.8L660.4 1390.1L662.4 1391.0L664.4 1391.3L666.4 1392.4L668.4 1392.7L670.4 1393.6L672.4 1394.2L674.4 1394.8L676.4 1395.6L678.4 1396.4L680.4 1397.0L682.4 1397.7L684.4 1398.7L686.4 1399.2L688.4 1399.9L690.4 1400.7L692.4 1401.3L694.4 1402.1L696.4 1402.4L698.4 1403.2L700.4 1403.7L702.4 1404.2L704.4 1404.8L706.4 1405.2L708.4 1405.7L710.4 1406.1L712.4 1406.6L714.4 1406.9L716.4 1407.2L718.4 1407.5L720.4 1407.8L722.4 1408.1L724.4 1408.3L726.4 1408.5L728.4 1408.7L730.4 1408.9L732.4 1409.0L734.4 1409.2L736.4 1409.3L738.4 1409.4L740.4 1409.5L742.4 1411.3L744.4 1411.3L746.4 1411.3L748.4 1411.3L750.4 1411.3L752.4 1411.3L754.4 1411.3L756.4 1411.3L758.4 1411.3L760.4 1411.3L762.4 1411.3L764.4 1411.3L766.4 1411.3L768.4 1411.3L770.4 1411.3L772.4 1411.3L774.4 1411.3L776.4 1411.3L778.4 1411.3L780.4 1409.3L782.4 1408.7L784.4 1408.2L786.4 1407.6L788.4 1407.3L790.4 1407.1L792.4 1407.4L793.6 1411.3Z" fill="#7af050" fill-opacity="0.5" stroke="none"/>
<path d="M342.4 1411.3L374.4 1411.3L376.4 1409.4L378.4 1409.3L380.4 1409.0L382.4 1408.8L384.4 1408.5L386.4 1408.1L388.4 1407.5L390.4 1406.9L392.4 1406.2L394.4 1405.0L396.4 1403.8L398.4 1401.9L400.4 1399.7L402.4 1397.1L404.4 1393.3L406.4 1389.3L408.4 1384.1L410.4 1377.9L412.4 1370.5L414.4 1362.4L416.4 1353.3L418.4 1344.5L420.4 1333.9L422.4 1324.4L424.4 1317.8L426.4 1312.0L428.4 1304.2L430.4 1300.6L432.4 1301.5L434.4 1304.5L436.4 1306.3L438.4 1310.6L440.4 1321.9L442.4 1327.9L444.4 1337.8L446.4 1347.6L448.4 1355.7L450.4 1365.4L452.4 1372.3L454.4 1378.8L456.4 1385.1L458.4 1390.3L460.4 1394.5L462.4 1397.6L464.4 1400.2L466.4 1401.9L468.4 1403.6L470.4 1405.0L472.4 1406.0L474.4 1406.7L476.4 1407.3L478.4 1407.9L480.4 1408.2L482.4 1408.6L484.4 1408.9L486.4 1409.1L488.4 1409.3L490.4 1409.5L492.4 1411.3L494.4 1411.3L496.4 1411.3L498.4 1411.3L500.4 1411.3L502.4 1411.3L504.4 1411.3L506.4 1411.3L508.4 1411.3L510.4 1411.3L512.4 1411.3L514.4 1411.3L516.4 1411.3L518.4 1411.3L520.4 1411.3L522.4 1411.3L524.4 1411.3L526.4 1411.3L528.4 1411.3L530.4 1411.3L532.4 1411.3L534.4 1411.3L536.4 1411.3L538.4 1409.5L540.4 1409.4L542.4 1409.2L544.4 1409.1L546.4 1409.0L548.4 1408.8L550.4 1408.6L552.4 1408.5L554.4 1408.3L556.4 1408.0L558.4 1407.7L560.4 1407.5L562.4 1407.2L564.4 1406.9L566.4 1406.4L568.4 1406.1L570.4 1405.7L572.4 1405.3L574.4 1404.8L576.4 1404.3L578.4 1403.9L580.4 1403.3L582.4 1402.8L584.4 1402.1L586.4 1401.7L588.4 1401.1L590.4 1400.3L592.4 1399.6L594.4 1399.1L596.4 1398.5L598.4 1397.8L600.4 1397.2L602.4 1396.1L604.4 1395.6L606.4 1394.8L608.4 1394.3L610.4 1393.8L612.4 1392.8L614.4 1392.1L616.4 1391.7L618.4 1391.3L620.4 1390.5L622.4 1390.3L624.4 1389.6L626.4 1389.5L628.4 1389.2L630.4 1388.5L632.4 1388.2L634.4 1387.6L636.4 1388.0L638.4 1387.8L640.4 1388.1L642.4 1388.3L644.4 1388.3L646.4 1387.8L648.4 1388.4L650.4 1388.1L652.4 1388.3L654.4 1389.1L656.4 1389.0L658.4 1389.8L660.4 1390.1L662.4 1391.0L664.4 1391.3L666.4 1392.4L668.4 1392.7L670.4 1393.6L672.4 1394.2L674.4 1394.8L676.4 1395.6L678.4 1396.4L680.4 1397.0L682.4 1397.7L684.4 1398.7L686.4 1399.2L688.4 1399.9L690.4 1400.7L692.4 1401.3L694.4 1402.1L696.4 1402.4L698.4 1403.2L700.4 1403.7L702.4 1404.2L704.4 1404.8L706.4 1405.2L708.4 1405.7L710.4 1406.1L712.4 1406.6L714.4 1406.9L716.4 1407.2L718.4 1407.5L720.4 1407.8L722.4 1408.1L724.4 1408.3L726.4 1408.5L728.4 1408.7L730.4 1408.9L732.4 1409.0L734.4 1409.2L736.4 1409.3L738.4 1409.4L740.4 1409.5L742.4 1411.3L744.4 1411.3L746.4 1411.3L748.4 1411.3L750.4 1411.3L752.4 1411.3L754.4 1411.3L756.4 1411.3L758.4 1411.3L760.4 1411.3L762.4 1411.3L764.4 1411.3L766.4 1411.3L768.4 1411.3L770.4 1411.3L772.4 1411.3L774.4 1411.3L776.4 1411.3L778.4 1411.3L780.4 1409.3L782.4 1408.7L784.4 1408.2L786.4 1407.6L788.4 1407.3L790.4 1407.1L792.4 1407.4L793.6 1411.3" fill="none" stroke="#66ee3c" stroke-width="1.5" stroke-linejoin="round"/>
<path d="M342.4 1411.3H374.4" stroke="#fff" stroke-opacity="0.45" stroke-width="1.6"/>
<path d="M792.4 1411.3H793.6" stroke="#fff" stroke-opacity="0.45" stroke-width="1.6"/>
<path d="M342.4 1475.0L376.4 1475.0L378.4 1473.2L380.4 1473.1L382.4 1472.9L384.4 1472.7L386.4 1472.4L388.4 1472.0L390.4 1471.6L392.4 1471.2L394.4 1470.5L396.4 1469.7L398.4 1468.8L400.4 1467.6L402.4 1466.3L404.4 1464.5L406.4 1462.7L408.4 1460.5L410.4 1457.3L412.4 1453.9L414.4 1450.5L416.4 1446.1L418.4 1441.7L420.4 1436.6L422.4 1430.0L424.4 1422.8L426.4 1419.0L428.4 1412.2L430.4 1406.2L432.4 1394.8L434.4 1382.8L436.4 1374.8L438.4 1365.9L440.4 1358.7L442.4 1358.6L444.4 1361.2L446.4 1364.9L448.4 1371.7L450.4 1376.3L452.4 1387.3L454.4 1395.6L456.4 1405.9L458.4 1416.7L460.4 1425.4L462.4 1432.6L464.4 1439.8L466.4 1445.6L468.4 1451.1L470.4 1454.5L472.4 1458.3L474.4 1461.3L476.4 1463.4L478.4 1465.2L480.4 1466.7L482.4 1468.2L484.4 1469.3L486.4 1470.0L488.4 1470.8L490.4 1471.4L492.4 1471.8L494.4 1472.2L496.4 1472.5L498.4 1472.8L500.4 1473.0L502.4 1473.1L504.4 1475.0L793.6 1475.0Z" fill="#f8a855" fill-opacity="0.55" stroke="none"/>
<path d="M342.4 1475.0L376.4 1475.0L378.4 1473.2L380.4 1473.1L382.4 1472.9L384.4 1472.7L386.4 1472.4L388.4 1472.0L390.4 1471.6L392.4 1471.2L394.4 1470.5L396.4 1469.7L398.4 1468.8L400.4 1467.6L402.4 1466.3L404.4 1464.5L406.4 1462.7L408.4 1460.5L410.4 1457.3L412.4 1453.9L414.4 1450.5L416.4 1446.1L418.4 1441.7L420.4 1436.6L422.4 1430.0L424.4 1422.8L426.4 1419.0L428.4 1412.2L430.4 1406.2L432.4 1394.8L434.4 1382.8L436.4 1374.8L438.4 1365.9L440.4 1358.7L442.4 1358.6L444.4 1361.2L446.4 1364.9L448.4 1371.7L450.4 1376.3L452.4 1387.3L454.4 1395.6L456.4 1405.9L458.4 1416.7L460.4 1425.4L462.4 1432.6L464.4 1439.8L466.4 1445.6L468.4 1451.1L470.4 1454.5L472.4 1458.3L474.4 1461.3L476.4 1463.4L478.4 1465.2L480.4 1466.7L482.4 1468.2L484.4 1469.3L486.4 1470.0L488.4 1470.8L490.4 1471.4L492.4 1471.8L494.4 1472.2L496.4 1472.5L498.4 1472.8L500.4 1473.0L502.4 1473.1L504.4 1475.0L793.6 1475.0" fill="none" stroke="#f5a04a" stroke-width="1.5" stroke-linejoin="round"/>
<path d="M342.4 1475.0H376.4" stroke="#fff" stroke-opacity="0.45" stroke-width="1.6"/>
<path d="M504.4 1475.0H793.6" stroke="#fff" stroke-opacity="0.45" stroke-width="1.6"/>
<path d="M342.4 1538.6L382.4 1538.6L384.4 1536.8L386.4 1536.6L388.4 1536.4L390.4 1536.2L392.4 1535.9L394.4 1535.5L396.4 1535.1L398.4 1534.6L400.4 1533.9L402.4 1533.0L404.4 1532.0L406.4 1530.9L408.4 1529.4L410.4 1527.6L412.4 1525.2L414.4 1522.2L416.4 1518.9L418.4 1514.8L420.4 1510.0L422.4 1504.4L424.4 1498.2L426.4 1491.3L428.4 1483.9L430.4 1476.9L432.4 1467.3L434.4 1457.1L436.4 1451.4L438.4 1444.3L440.4 1436.2L442.4 1432.7L444.4 1430.4L446.4 1426.7L448.4 1428.7L450.4 1431.3L452.4 1437.3L454.4 1441.8L456.4 1448.9L458.4 1456.1L460.4 1463.9L462.4 1472.1L464.4 1480.7L466.4 1487.8L468.4 1495.7L470.4 1501.0L472.4 1506.5L474.4 1511.6L476.4 1515.8L478.4 1519.2L480.4 1522.4L482.4 1524.6L484.4 1526.7L486.4 1528.7L488.4 1530.0L490.4 1531.2L492.4 1532.3L494.4 1533.2L496.4 1534.0L498.4 1534.6L500.4 1535.1L502.4 1535.5L504.4 1535.8L506.4 1536.1L508.4 1536.3L510.4 1536.5L512.4 1536.7L514.4 1538.6L793.6 1538.6Z" fill="#40c0f0" fill-opacity="0.5" stroke="none"/>
<path d="M342.4 1538.6L382.4 1538.6L384.4 1536.8L386.4 1536.6L388.4 1536.4L390.4 1536.2L392.4 1535.9L394.4 1535.5L396.4 1535.1L398.4 1534.6L400.4 1533.9L402.4 1533.0L404.4 1532.0L406.4 1530.9L408.4 1529.4L410.4 1527.6L412.4 1525.2L414.4 1522.2L416.4 1518.9L418.4 1514.8L420.4 1510.0L422.4 1504.4L424.4 1498.2L426.4 1491.3L428.4 1483.9L430.4 1476.9L432.4 1467.3L434.4 1457.1L436.4 1451.4L438.4 1444.3L440.4 1436.2L442.4 1432.7L444.4 1430.4L446.4 1426.7L448.4 1428.7L450.4 1431.3L452.4 1437.3L454.4 1441.8L456.4 1448.9L458.4 1456.1L460.4 1463.9L462.4 1472.1L464.4 1480.7L466.4 1487.8L468.4 1495.7L470.4 1501.0L472.4 1506.5L474.4 1511.6L476.4 1515.8L478.4 1519.2L480.4 1522.4L482.4 1524.6L484.4 1526.7L486.4 1528.7L488.4 1530.0L490.4 1531.2L492.4 1532.3L494.4 1533.2L496.4 1534.0L498.4 1534.6L500.4 1535.1L502.4 1535.5L504.4 1535.8L506.4 1536.1L508.4 1536.3L510.4 1536.5L512.4 1536.7L514.4 1538.6L793.6 1538.6" fill="none" stroke="#2cb6ec" stroke-width="1.5" stroke-linejoin="round"/>
<path d="M342.4 1538.6H382.4" stroke="#fff" stroke-opacity="0.45" stroke-width="1.6"/>
<path d="M514.4 1538.6H793.6" stroke="#fff" stroke-opacity="0.45" stroke-width="1.6"/>
<path d="M342.4 1602.4L386.4 1602.4L388.4 1600.5L390.4 1600.2L392.4 1599.8L394.4 1599.2L396.4 1598.5L398.4 1597.4L400.4 1596.1L402.4 1594.0L404.4 1591.7L406.4 1588.7L408.4 1584.9L410.4 1580.0L412.4 1574.3L414.4 1567.5L416.4 1560.2L418.4 1550.8L420.4 1542.7L422.4 1530.6L424.4 1524.5L426.4 1512.2L428.4 1503.8L430.4 1493.4L432.4 1490.0L434.4 1481.1L436.4 1483.8L438.4 1479.0L440.4 1484.0L442.4 1489.6L444.4 1495.9L446.4 1502.3L448.4 1513.3L450.4 1526.3L452.4 1533.3L454.4 1543.9L456.4 1554.2L458.4 1561.3L460.4 1569.6L462.4 1575.5L464.4 1580.9L466.4 1585.6L468.4 1589.0L470.4 1592.2L472.4 1594.3L474.4 1596.1L476.4 1597.4L478.4 1598.4L480.4 1599.2L482.4 1599.8L484.4 1600.2L486.4 1600.5L488.4 1602.4L793.6 1602.4Z" fill="#f44c4c" fill-opacity="0.52" stroke="none"/>
<path d="M342.4 1602.4L386.4 1602.4L388.4 1600.5L390.4 1600.2L392.4 1599.8L394.4 1599.2L396.4 1598.5L398.4 1597.4L400.4 1596.1L402.4 1594.0L404.4 1591.7L406.4 1588.7L408.4 1584.9L410.4 1580.0L412.4 1574.3L414.4 1567.5L416.4 1560.2L418.4 1550.8L420.4 1542.7L422.4 1530.6L424.4 1524.5L426.4 1512.2L428.4 1503.8L430.4 1493.4L432.4 1490.0L434.4 1481.1L436.4 1483.8L438.4 1479.0L440.4 1484.0L442.4 1489.6L444.4 1495.9L446.4 1502.3L448.4 1513.3L450.4 1526.3L452.4 1533.3L454.4 1543.9L456.4 1554.2L458.4 1561.3L460.4 1569.6L462.4 1575.5L464.4 1580.9L466.4 1585.6L468.4 1589.0L470.4 1592.2L472.4 1594.3L474.4 1596.1L476.4 1597.4L478.4 1598.4L480.4 1599.2L482.4 1599.8L484.4 1600.2L486.4 1600.5L488.4 1602.4L793.6 1602.4" fill="none" stroke="#ee3a3a" stroke-width="1.5" stroke-linejoin="round"/>
<path d="M342.4 1602.4H386.4" stroke="#fff" stroke-opacity="0.45" stroke-width="1.6"/>
<path d="M488.4 1602.4H793.6" stroke="#fff" stroke-opacity="0.45" stroke-width="1.6"/>
<path d="M820.1 1284.0L909.9 1283.6L910.5 1282.1L933.8 1280.7L945.1 1277.4L956.4 1274.5L967.6 1270.9L978.9 1267.2L985.9 1261.0L993.0 1248.4L998.0 1237.1L1002.8 1227.8L1007.0 1223.0L1011.3 1222.2L1015.5 1213.7L1019.7 1200.5L1023.9 1190.7L1028.1 1183.6L1032.4 1178.6L1035.2 1178.8L1038.0 1182.2L1045.0 1185.0L1053.5 1185.9L1057.1 1192.1L1060.5 1203.3L1063.3 1213.2L1067.6 1225.9L1071.8 1238.5L1076.0 1248.4L1080.2 1256.8L1085.8 1265.3L1091.5 1272.3L1095.7 1277.4L1099.9 1281.6L1104.1 1282.7L1104.7 1284.0L1269.7 1284.0Z" fill="#d9bdbd" fill-opacity="0.62" stroke="none"/>
<path d="M820.1 1284.0L909.9 1283.6L910.5 1282.1L933.8 1280.7L945.1 1277.4L956.4 1274.5L967.6 1270.9L978.9 1267.2L985.9 1261.0L993.0 1248.4L998.0 1237.1L1002.8 1227.8L1007.0 1223.0L1011.3 1222.2L1015.5 1213.7L1019.7 1200.5L1023.9 1190.7L1028.1 1183.6L1032.4 1178.6L1035.2 1178.8L1038.0 1182.2L1045.0 1185.0L1053.5 1185.9L1057.1 1192.1L1060.5 1203.3L1063.3 1213.2L1067.6 1225.9L1071.8 1238.5L1076.0 1248.4L1080.2 1256.8L1085.8 1265.3L1091.5 1272.3L1095.7 1277.4L1099.9 1281.6L1104.1 1282.7L1104.7 1284.0L1269.7 1284.0" fill="none" stroke="#c9a3a3" stroke-width="1.5" stroke-linejoin="round"/>
<path d="M820.1 1284.0H909.9" stroke="#fff" stroke-opacity="0.45" stroke-width="1.6"/>
<path d="M1104.7 1284.0H1269.7" stroke="#fff" stroke-opacity="0.45" stroke-width="1.6"/>
<path d="M820.1 1347.6L966.2 1347.4L967.1 1345.8L1007.0 1345.8L1035.2 1345.5L1040.8 1343.8L1066.1 1342.7L1071.8 1341.5L1080.2 1340.4L1091.5 1337.6L1102.7 1332.8L1112.6 1328.6L1118.2 1323.0L1122.4 1317.3L1126.7 1308.3L1130.9 1297.6L1134.3 1289.2L1137.9 1280.7L1140.7 1270.9L1143.5 1261.0L1146.4 1251.2L1149.2 1241.3L1151.4 1234.3L1153.4 1229.5L1157.6 1228.7L1161.8 1229.2L1164.1 1235.7L1166.1 1241.3L1168.9 1250.3L1171.7 1259.6L1174.5 1271.7L1177.3 1283.6L1181.0 1297.6L1184.4 1308.9L1188.6 1321.6L1192.8 1331.4L1196.2 1337.6L1199.8 1342.1L1206.9 1345.5L1215.3 1346.0L1216.2 1347.4L1269.7 1347.6Z" fill="#5f8a3a" fill-opacity="0.55" stroke="none"/>
<path d="M820.1 1347.6L966.2 1347.4L967.1 1345.8L1007.0 1345.8L1035.2 1345.5L1040.8 1343.8L1066.1 1342.7L1071.8 1341.5L1080.2 1340.4L1091.5 1337.6L1102.7 1332.8L1112.6 1328.6L1118.2 1323.0L1122.4 1317.3L1126.7 1308.3L1130.9 1297.6L1134.3 1289.2L1137.9 1280.7L1140.7 1270.9L1143.5 1261.0L1146.4 1251.2L1149.2 1241.3L1151.4 1234.3L1153.4 1229.5L1157.6 1228.7L1161.8 1229.2L1164.1 1235.7L1166.1 1241.3L1168.9 1250.3L1171.7 1259.6L1174.5 1271.7L1177.3 1283.6L1181.0 1297.6L1184.4 1308.9L1188.6 1321.6L1192.8 1331.4L1196.2 1337.6L1199.8 1342.1L1206.9 1345.5L1215.3 1346.0L1216.2 1347.4L1269.7 1347.6" fill="none" stroke="#3c6b12" stroke-width="1.5" stroke-linejoin="round"/>
<path d="M820.1 1347.6H966.2" stroke="#fff" stroke-opacity="0.45" stroke-width="1.6"/>
<path d="M1216.2 1347.6H1269.7" stroke="#fff" stroke-opacity="0.45" stroke-width="1.6"/>
<path d="M820.1 1411.3L921.2 1411.3L922.0 1410.2L939.5 1409.1L942.3 1407.1L962.0 1405.4L978.9 1403.2L984.5 1398.4L990.1 1393.3L997.2 1389.1L1004.2 1386.3L1012.7 1384.9L1016.9 1381.5L1021.1 1377.8L1026.7 1373.1L1032.4 1369.1L1038.0 1370.2L1043.6 1372.2L1053.5 1373.1L1057.1 1376.4L1060.5 1380.7L1066.1 1386.3L1071.8 1390.5L1077.4 1393.9L1083.0 1396.1L1088.7 1397.8L1094.3 1398.4L1099.9 1395.6L1105.5 1391.9L1112.6 1387.7L1119.6 1383.5L1125.3 1378.7L1129.5 1373.6L1133.1 1365.2L1136.5 1356.7L1139.3 1346.9L1142.1 1337.0L1146.4 1329.2L1150.6 1323.0L1155.7 1317.3L1160.4 1313.7L1165.2 1317.9L1170.3 1323.0L1173.1 1331.4L1175.9 1339.8L1180.1 1353.9L1184.4 1368.0L1188.6 1379.8L1192.8 1390.5L1196.2 1398.4L1199.8 1404.6L1203.5 1408.0L1206.9 1409.7L1218.1 1410.2L1219.0 1411.3L1269.7 1411.3Z" fill="#7af050" fill-opacity="0.5" stroke="none"/>
<path d="M820.1 1411.3L921.2 1411.3L922.0 1410.2L939.5 1409.1L942.3 1407.1L962.0 1405.4L978.9 1403.2L984.5 1398.4L990.1 1393.3L997.2 1389.1L1004.2 1386.3L1012.7 1384.9L1016.9 1381.5L1021.1 1377.8L1026.7 1373.1L1032.4 1369.1L1038.0 1370.2L1043.6 1372.2L1053.5 1373.1L1057.1 1376.4L1060.5 1380.7L1066.1 1386.3L1071.8 1390.5L1077.4 1393.9L1083.0 1396.1L1088.7 1397.8L1094.3 1398.4L1099.9 1395.6L1105.5 1391.9L1112.6 1387.7L1119.6 1383.5L1125.3 1378.7L1129.5 1373.6L1133.1 1365.2L1136.5 1356.7L1139.3 1346.9L1142.1 1337.0L1146.4 1329.2L1150.6 1323.0L1155.7 1317.3L1160.4 1313.7L1165.2 1317.9L1170.3 1323.0L1173.1 1331.4L1175.9 1339.8L1180.1 1353.9L1184.4 1368.0L1188.6 1379.8L1192.8 1390.5L1196.2 1398.4L1199.8 1404.6L1203.5 1408.0L1206.9 1409.7L1218.1 1410.2L1219.0 1411.3L1269.7 1411.3" fill="none" stroke="#66ee3c" stroke-width="1.5" stroke-linejoin="round"/>
<path d="M820.1 1411.3H921.2" stroke="#fff" stroke-opacity="0.45" stroke-width="1.6"/>
<path d="M1219.0 1411.3H1269.7" stroke="#fff" stroke-opacity="0.45" stroke-width="1.6"/>
<path d="M820.1 1475.0L926.8 1474.9L927.7 1473.7L935.3 1472.3L942.3 1470.6L947.9 1467.8L953.6 1464.4L959.2 1458.3L964.8 1450.4L969.0 1441.4L973.3 1430.7L976.1 1419.4L978.9 1408.1L981.1 1398.3L984.5 1391.8L988.7 1387.0L993.0 1383.4L995.8 1378.6L998.6 1372.1L1001.4 1365.4L1004.2 1359.7L1007.0 1358.9L1009.3 1362.5L1011.3 1366.8L1014.1 1365.9L1016.9 1365.4L1018.9 1371.6L1021.1 1377.7L1023.9 1376.1L1026.7 1374.9L1029.6 1379.4L1032.4 1383.4L1035.2 1386.2L1038.0 1385.1L1040.8 1383.4L1045.0 1389.9L1049.3 1397.5L1053.5 1404.8L1057.7 1411.5L1061.9 1420.8L1066.1 1430.7L1070.4 1439.7L1074.6 1447.6L1080.2 1455.4L1085.8 1461.6L1091.5 1465.9L1097.1 1469.5L1104.1 1472.9L1156.2 1473.7L1157.1 1474.9L1269.7 1475.0Z" fill="#f8a855" fill-opacity="0.55" stroke="none"/>
<path d="M820.1 1475.0L926.8 1474.9L927.7 1473.7L935.3 1472.3L942.3 1470.6L947.9 1467.8L953.6 1464.4L959.2 1458.3L964.8 1450.4L969.0 1441.4L973.3 1430.7L976.1 1419.4L978.9 1408.1L981.1 1398.3L984.5 1391.8L988.7 1387.0L993.0 1383.4L995.8 1378.6L998.6 1372.1L1001.4 1365.4L1004.2 1359.7L1007.0 1358.9L1009.3 1362.5L1011.3 1366.8L1014.1 1365.9L1016.9 1365.4L1018.9 1371.6L1021.1 1377.7L1023.9 1376.1L1026.7 1374.9L1029.6 1379.4L1032.4 1383.4L1035.2 1386.2L1038.0 1385.1L1040.8 1383.4L1045.0 1389.9L1049.3 1397.5L1053.5 1404.8L1057.7 1411.5L1061.9 1420.8L1066.1 1430.7L1070.4 1439.7L1074.6 1447.6L1080.2 1455.4L1085.8 1461.6L1091.5 1465.9L1097.1 1469.5L1104.1 1472.9L1156.2 1473.7L1157.1 1474.9L1269.7 1475.0" fill="none" stroke="#f5a04a" stroke-width="1.5" stroke-linejoin="round"/>
<path d="M820.1 1475.0H926.8" stroke="#fff" stroke-opacity="0.45" stroke-width="1.6"/>
<path d="M1157.1 1475.0H1269.7" stroke="#fff" stroke-opacity="0.45" stroke-width="1.6"/>
<path d="M820.1 1538.6L926.8 1538.5L927.7 1537.3L938.1 1535.7L945.1 1532.0L950.7 1528.6L956.4 1525.0L962.0 1520.2L966.2 1515.1L969.9 1510.0L973.3 1503.8L976.1 1494.8L978.9 1484.1L981.1 1474.3L983.1 1464.4L985.1 1459.4L987.3 1456.0L990.1 1454.6L993.0 1453.7L995.8 1454.9L998.6 1453.7L1000.8 1447.6L1002.8 1440.5L1004.8 1436.3L1007.0 1433.5L1009.8 1432.9L1012.1 1436.3L1014.1 1440.5L1016.0 1448.1L1018.3 1456.0L1019.7 1463.0L1021.1 1468.7L1023.4 1470.6L1025.3 1471.5L1028.1 1469.5L1031.0 1468.7L1033.8 1470.6L1035.7 1476.3L1038.0 1482.7L1040.8 1489.2L1043.6 1495.4L1046.4 1491.5L1049.3 1487.0L1053.5 1492.6L1057.7 1498.2L1061.9 1505.3L1066.1 1512.3L1071.8 1519.0L1077.4 1525.0L1083.0 1529.5L1088.7 1532.8L1099.9 1536.2L1102.7 1537.3L1156.2 1537.3L1157.1 1538.5L1269.7 1538.6Z" fill="#40c0f0" fill-opacity="0.5" stroke="none"/>
<path d="M820.1 1538.6L926.8 1538.5L927.7 1537.3L938.1 1535.7L945.1 1532.0L950.7 1528.6L956.4 1525.0L962.0 1520.2L966.2 1515.1L969.9 1510.0L973.3 1503.8L976.1 1494.8L978.9 1484.1L981.1 1474.3L983.1 1464.4L985.1 1459.4L987.3 1456.0L990.1 1454.6L993.0 1453.7L995.8 1454.9L998.6 1453.7L1000.8 1447.6L1002.8 1440.5L1004.8 1436.3L1007.0 1433.5L1009.8 1432.9L1012.1 1436.3L1014.1 1440.5L1016.0 1448.1L1018.3 1456.0L1019.7 1463.0L1021.1 1468.7L1023.4 1470.6L1025.3 1471.5L1028.1 1469.5L1031.0 1468.7L1033.8 1470.6L1035.7 1476.3L1038.0 1482.7L1040.8 1489.2L1043.6 1495.4L1046.4 1491.5L1049.3 1487.0L1053.5 1492.6L1057.7 1498.2L1061.9 1505.3L1066.1 1512.3L1071.8 1519.0L1077.4 1525.0L1083.0 1529.5L1088.7 1532.8L1099.9 1536.2L1102.7 1537.3L1156.2 1537.3L1157.1 1538.5L1269.7 1538.6" fill="none" stroke="#2cb6ec" stroke-width="1.5" stroke-linejoin="round"/>
<path d="M820.1 1538.6H926.8" stroke="#fff" stroke-opacity="0.45" stroke-width="1.6"/>
<path d="M1157.1 1538.6H1269.7" stroke="#fff" stroke-opacity="0.45" stroke-width="1.6"/>
<path d="M820.1 1602.4L931.0 1602.4L931.9 1601.2L942.3 1600.4L946.5 1598.4L950.7 1596.2L956.4 1589.7L962.0 1582.7L967.6 1573.1L973.3 1563.0L978.9 1553.4L984.5 1544.7L988.7 1538.2L993.0 1532.0L995.8 1525.0L998.6 1517.9L1001.4 1516.0L1004.2 1515.7L1007.0 1508.1L1009.8 1501.0L1014.1 1501.6L1018.3 1499.6L1022.5 1494.8L1026.7 1491.2L1032.4 1486.4L1038.0 1481.9L1040.8 1484.7L1043.6 1489.2L1046.4 1486.4L1048.7 1484.7L1052.1 1488.4L1054.9 1492.6L1057.7 1499.6L1060.5 1506.7L1063.3 1516.5L1066.1 1526.4L1070.4 1539.0L1074.6 1551.7L1078.8 1563.5L1083.0 1574.2L1088.7 1582.7L1094.3 1589.7L1099.9 1593.9L1105.5 1597.3L1115.4 1600.1L1143.5 1601.0L1144.4 1602.4L1269.7 1602.4Z" fill="#f44c4c" fill-opacity="0.52" stroke="none"/>
<path d="M820.1 1602.4L931.0 1602.4L931.9 1601.2L942.3 1600.4L946.5 1598.4L950.7 1596.2L956.4 1589.7L962.0 1582.7L967.6 1573.1L973.3 1563.0L978.9 1553.4L984.5 1544.7L988.7 1538.2L993.0 1532.0L995.8 1525.0L998.6 1517.9L1001.4 1516.0L1004.2 1515.7L1007.0 1508.1L1009.8 1501.0L1014.1 1501.6L1018.3 1499.6L1022.5 1494.8L1026.7 1491.2L1032.4 1486.4L1038.0 1481.9L1040.8 1484.7L1043.6 1489.2L1046.4 1486.4L1048.7 1484.7L1052.1 1488.4L1054.9 1492.6L1057.7 1499.6L1060.5 1506.7L1063.3 1516.5L1066.1 1526.4L1070.4 1539.0L1074.6 1551.7L1078.8 1563.5L1083.0 1574.2L1088.7 1582.7L1094.3 1589.7L1099.9 1593.9L1105.5 1597.3L1115.4 1600.1L1143.5 1601.0L1144.4 1602.4L1269.7 1602.4" fill="none" stroke="#ee3a3a" stroke-width="1.5" stroke-linejoin="round"/>
<path d="M820.1 1602.4H931.0" stroke="#fff" stroke-opacity="0.45" stroke-width="1.6"/>
<path d="M1144.4 1602.4H1269.7" stroke="#fff" stroke-opacity="0.45" stroke-width="1.6"/>
<!-- panel B -->
<text transform="translate(0.2 1834.2) scale(0.94 1)" font-size="89" class="b">B</text>
<rect x="579.7" y="2173.6" width="38" height="139.7" fill="#0096ff" stroke="#000" stroke-width="2.5"/>
<rect x="864.6" y="1910.5" width="38" height="402.8" fill="#0096ff" stroke="#000" stroke-width="2.5"/>
<rect x="1149.1" y="2040.9" width="38" height="272.4" fill="#0096ff" stroke="#000" stroke-width="2.5"/>
<path d="M496.6 2313.3H1336.5" stroke="#000" stroke-width="5" stroke-linecap="round" stroke-dasharray="0 11.17"/>
<path d="M496.8 1782.0V2340.3H1330.5" fill="none" stroke="#000" stroke-width="2.6" stroke-linejoin="miter"/>
<path d="M496.8 2313.3h-22" stroke="#000" stroke-width="2.6"/>
<text transform="translate(463.5 2332.1000000000004) scale(1 1.04)" font-size="52" text-anchor="end">0</text>
<path d="M496.8 2180.8h-22" stroke="#000" stroke-width="2.6"/>
<text transform="translate(463.5 2199.6000000000004) scale(1 1.04)" font-size="52" text-anchor="end">5</text>
<path d="M496.8 2048.3h-22" stroke="#000" stroke-width="2.6"/>
<text transform="translate(463.5 2067.1000000000004) scale(1 1.04)" font-size="52" text-anchor="end">10</text>
<path d="M496.8 1915.8h-22" stroke="#000" stroke-width="2.6"/>
<text transform="translate(463.5 1934.6000000000001) scale(1 1.04)" font-size="52" text-anchor="end">15</text>
<path d="M496.8 1783.3h-22" stroke="#000" stroke-width="2.6"/>
<text transform="translate(463.5 1802.1000000000001) scale(1 1.04)" font-size="52" text-anchor="end">20</text>
<path d="M628.5 2340.3v22" stroke="#000" stroke-width="2.6"/>
<text transform="translate(629.0 2418.5) scale(1 1.04)" font-size="54.5" text-anchor="middle">CD8 SP</text>
<path d="M912.8 2340.3v22" stroke="#000" stroke-width="2.6"/>
<text transform="translate(913.3 2418.5) scale(1 1.04)" font-size="54.5" text-anchor="middle">CD4 SP</text>
<path d="M1198.0 2340.3v22" stroke="#000" stroke-width="2.6"/>
<text transform="translate(1198.5 2418.5) scale(1 1.04)" font-size="54.5" text-anchor="middle">DP</text>
<text transform="translate(384.5 2052) rotate(-90)" font-size="52" text-anchor="middle">% specific migration</text>
<path d="M591.2 2168.3h15M591.2 2178.9h15M598.7 2168.3V2178.9" stroke="#000" stroke-width="2.2" fill="none"/>
<path d="M876.1 1902.0h15M876.1 1919.0h15M883.6 1902.0V1919.0" stroke="#000" stroke-width="2.2" fill="none"/>
<path d="M1160.6 2032.4h15M1160.6 2049.4h15M1168.1 2032.4V2049.4" stroke="#000" stroke-width="2.2" fill="none"/>
<circle cx="527.5" cy="2313.3" r="10.1" fill="none" stroke="#000" stroke-width="2.8"/>
<circle cx="531.0" cy="2311.3" r="10.1" fill="none" stroke="#000" stroke-width="2.8"/>
<circle cx="534.5" cy="2315.3" r="10.1" fill="none" stroke="#000" stroke-width="2.8"/>
<circle cx="538.5" cy="2311.8" r="10.1" fill="none" stroke="#000" stroke-width="2.8"/>
<circle cx="542.0" cy="2315.8" r="10.1" fill="none" stroke="#000" stroke-width="2.8"/>
<circle cx="546.5" cy="2313.8" r="10.1" fill="none" stroke="#000" stroke-width="2.8"/>
<circle cx="540.0" cy="2316.8" r="10.1" fill="none" stroke="#000" stroke-width="2.8"/>
<circle cx="652.8" cy="2303.3" r="10.1" fill="none" stroke="#000" stroke-width="2.8"/>
<circle cx="664.8" cy="2305.7" r="10.1" fill="none" stroke="#000" stroke-width="2.8"/>
<circle cx="667.8" cy="2309.6" r="10.1" fill="none" stroke="#000" stroke-width="2.8"/>
<circle cx="649.7" cy="2315.9" r="10.1" fill="none" stroke="#000" stroke-width="2.8"/>
<circle cx="664.7" cy="2319.9" r="10.1" fill="none" stroke="#000" stroke-width="2.8"/>
<circle cx="658.3" cy="2308.9" r="10.1" fill="none" stroke="#000" stroke-width="2.8"/>
<circle cx="656.3" cy="2312.8" r="10.1" fill="none" stroke="#000" stroke-width="2.8"/>
<circle cx="714.0" cy="2302.6" r="10.1" fill="none" stroke="#000" stroke-width="2.8"/>
<circle cx="726.6" cy="2305.7" r="10.1" fill="none" stroke="#000" stroke-width="2.8"/>
<circle cx="729.8" cy="2308.9" r="10.1" fill="none" stroke="#000" stroke-width="2.8"/>
<circle cx="710.9" cy="2315.9" r="10.1" fill="none" stroke="#000" stroke-width="2.8"/>
<circle cx="725.0" cy="2319.9" r="10.1" fill="none" stroke="#000" stroke-width="2.8"/>
<circle cx="720.3" cy="2309.6" r="10.1" fill="none" stroke="#000" stroke-width="2.8"/>
<circle cx="717.8" cy="2312.8" r="10.1" fill="none" stroke="#000" stroke-width="2.8"/>
<circle cx="811.8" cy="2313.3" r="10.1" fill="none" stroke="#000" stroke-width="2.8"/>
<circle cx="815.3" cy="2311.3" r="10.1" fill="none" stroke="#000" stroke-width="2.8"/>
<circle cx="818.8" cy="2315.3" r="10.1" fill="none" stroke="#000" stroke-width="2.8"/>
<circle cx="822.8" cy="2311.8" r="10.1" fill="none" stroke="#000" stroke-width="2.8"/>
<circle cx="826.3" cy="2315.8" r="10.1" fill="none" stroke="#000" stroke-width="2.8"/>
<circle cx="830.8" cy="2313.8" r="10.1" fill="none" stroke="#000" stroke-width="2.8"/>
<circle cx="824.3" cy="2316.8" r="10.1" fill="none" stroke="#000" stroke-width="2.8"/>
<circle cx="937.1" cy="2303.3" r="10.1" fill="none" stroke="#000" stroke-width="2.8"/>
<circle cx="949.1" cy="2305.7" r="10.1" fill="none" stroke="#000" stroke-width="2.8"/>
<circle cx="952.1" cy="2309.6" r="10.1" fill="none" stroke="#000" stroke-width="2.8"/>
<circle cx="934.0" cy="2315.9" r="10.1" fill="none" stroke="#000" stroke-width="2.8"/>
<circle cx="949.0" cy="2319.9" r="10.1" fill="none" stroke="#000" stroke-width="2.8"/>
<circle cx="942.6" cy="2308.9" r="10.1" fill="none" stroke="#000" stroke-width="2.8"/>
<circle cx="940.6" cy="2312.8" r="10.1" fill="none" stroke="#000" stroke-width="2.8"/>
<circle cx="998.3" cy="2302.6" r="10.1" fill="none" stroke="#000" stroke-width="2.8"/>
<circle cx="1010.9" cy="2305.7" r="10.1" fill="none" stroke="#000" stroke-width="2.8"/>
<circle cx="1014.1" cy="2308.9" r="10.1" fill="none" stroke="#000" stroke-width="2.8"/>
<circle cx="995.2" cy="2315.9" r="10.1" fill="none" stroke="#000" stroke-width="2.8"/>
<circle cx="1009.3" cy="2319.9" r="10.1" fill="none" stroke="#000" stroke-width="2.8"/>
<circle cx="1004.6" cy="2309.6" r="10.1" fill="none" stroke="#000" stroke-width="2.8"/>
<circle cx="1002.1" cy="2312.8" r="10.1" fill="none" stroke="#000" stroke-width="2.8"/>
<circle cx="1097.0" cy="2313.3" r="10.1" fill="none" stroke="#000" stroke-width="2.8"/>
<circle cx="1100.5" cy="2311.3" r="10.1" fill="none" stroke="#000" stroke-width="2.8"/>
<circle cx="1104.0" cy="2315.3" r="10.1" fill="none" stroke="#000" stroke-width="2.8"/>
<circle cx="1108.0" cy="2311.8" r="10.1" fill="none" stroke="#000" stroke-width="2.8"/>
<circle cx="1111.5" cy="2315.8" r="10.1" fill="none" stroke="#000" stroke-width="2.8"/>
<circle cx="1116.0" cy="2313.8" r="10.1" fill="none" stroke="#000" stroke-width="2.8"/>
<circle cx="1109.5" cy="2316.8" r="10.1" fill="none" stroke="#000" stroke-width="2.8"/>
<circle cx="1222.3" cy="2303.3" r="10.1" fill="none" stroke="#000" stroke-width="2.8"/>
<circle cx="1234.3" cy="2305.7" r="10.1" fill="none" stroke="#000" stroke-width="2.8"/>
<circle cx="1237.3" cy="2309.6" r="10.1" fill="none" stroke="#000" stroke-width="2.8"/>
<circle cx="1219.2" cy="2315.9" r="10.1" fill="none" stroke="#000" stroke-width="2.8"/>
<circle cx="1234.2" cy="2319.9" r="10.1" fill="none" stroke="#000" stroke-width="2.8"/>
<circle cx="1227.8" cy="2308.9" r="10.1" fill="none" stroke="#000" stroke-width="2.8"/>
<circle cx="1225.8" cy="2312.8" r="10.1" fill="none" stroke="#000" stroke-width="2.8"/>
<circle cx="1283.5" cy="2302.6" r="10.1" fill="none" stroke="#000" stroke-width="2.8"/>
<circle cx="1296.1" cy="2305.7" r="10.1" fill="none" stroke="#000" stroke-width="2.8"/>
<circle cx="1299.3" cy="2308.9" r="10.1" fill="none" stroke="#000" stroke-width="2.8"/>
<circle cx="1280.4" cy="2315.9" r="10.1" fill="none" stroke="#000" stroke-width="2.8"/>
<circle cx="1294.5" cy="2319.9" r="10.1" fill="none" stroke="#000" stroke-width="2.8"/>
<circle cx="1289.8" cy="2309.6" r="10.1" fill="none" stroke="#000" stroke-width="2.8"/>
<circle cx="1287.3" cy="2312.8" r="10.1" fill="none" stroke="#000" stroke-width="2.8"/>
<circle cx="591.7" cy="2155.7" r="10.1" fill="none" stroke="#000" stroke-width="2.8"/>
<circle cx="601.7" cy="2154.4" r="10.1" fill="none" stroke="#000" stroke-width="2.8"/>
<circle cx="594.4" cy="2179.9" r="10.1" fill="none" stroke="#000" stroke-width="2.8"/>
<circle cx="589.0" cy="2187.0" r="10.1" fill="none" stroke="#000" stroke-width="2.8"/>
<circle cx="602.6" cy="2184.4" r="10.1" fill="none" stroke="#000" stroke-width="2.8"/>
<circle cx="608.0" cy="2179.9" r="10.1" fill="none" stroke="#000" stroke-width="2.8"/>
<circle cx="599.0" cy="2176.0" r="10.1" fill="none" stroke="#000" stroke-width="2.8"/>
<circle cx="873.9" cy="1891.9" r="10.1" fill="none" stroke="#000" stroke-width="2.8"/>
<circle cx="892.9" cy="1887.3" r="10.1" fill="none" stroke="#000" stroke-width="2.8"/>
<circle cx="892.9" cy="1899.9" r="10.1" fill="none" stroke="#000" stroke-width="2.8"/>
<circle cx="873.9" cy="1908.6" r="10.1" fill="none" stroke="#000" stroke-width="2.8"/>
<circle cx="892.9" cy="1927.2" r="10.1" fill="none" stroke="#000" stroke-width="2.8"/>
<circle cx="874.3" cy="1942.5" r="10.1" fill="none" stroke="#000" stroke-width="2.8"/>
<circle cx="1167.6" cy="2007.7" r="10.1" fill="none" stroke="#000" stroke-width="2.8"/>
<circle cx="1164.5" cy="2035.2" r="10.1" fill="none" stroke="#000" stroke-width="2.8"/>
<circle cx="1177.2" cy="2035.9" r="10.1" fill="none" stroke="#000" stroke-width="2.8"/>
<circle cx="1159.2" cy="2049.9" r="10.1" fill="none" stroke="#000" stroke-width="2.8"/>
<circle cx="1170.5" cy="2045.2" r="10.1" fill="none" stroke="#000" stroke-width="2.8"/>
<circle cx="1167.6" cy="2075.2" r="10.1" fill="none" stroke="#000" stroke-width="2.8"/>
<text x="514.4" y="2119.5" font-size="56" text-anchor="start" class="b" letter-spacing="5.0">****</text>
<text x="798.9" y="1853.2" font-size="56" text-anchor="start" class="b" letter-spacing="5.0">****</text>
<text x="1079.7" y="1980.7" font-size="56" text-anchor="start" class="b" letter-spacing="5.0">****</text>
<path d="M527.6 2119.4H602.0" stroke="#000" stroke-width="2.8"/>
<path d="M813.2 1853.3H887.8" stroke="#000" stroke-width="2.8"/>
<path d="M1094.6 1980.2H1169.2" stroke="#000" stroke-width="2.8"/>
<rect x="1232.3" y="1808.8" width="71.8" height="69.7" fill="#000" stroke="#000" stroke-width="2.7"/>
<text transform="translate(1312.5 1861.0) scale(1 1.04)" font-size="52" text-anchor="start">NC</text>
<rect x="1232.3" y="1898.8" width="71.8" height="71.3" fill="#0096ff" stroke="#000" stroke-width="2.7"/>
<text x="1312.5" y="1954.4" font-size="52" text-anchor="start">Cxcl12</text>
<rect x="1232.3" y="1989.5" width="71.8" height="72.3" fill="#008c00" stroke="#000" stroke-width="2.7"/>
<text transform="translate(1312.5 2045.5) scale(1 1.04)" font-size="52" text-anchor="start">SST-28</text>
<rect x="1232.3" y="2083.9" width="71.8" height="71.8" fill="#949494" stroke="#000" stroke-width="2.7"/>
<text transform="translate(1312.5 2138.3) scale(1 1.04)" font-size="52" text-anchor="start">CORT-14</text>
<!-- panel A labels -->
<text x="-2.6" y="179.8" font-size="90.5" text-anchor="start" class="b">A</text>
<text x="553.5" y="29.5" font-size="42.3" text-anchor="middle">Gated on P1 mouse</text>
<text x="559.5" y="80" font-size="42.3" text-anchor="middle">TCR<tspan class="g">γδ</tspan> + thymocytes</text>
<rect x="332.3" y="94.3" width="453.7" height="453.40000000000003" fill="none" stroke="#000" stroke-width="1.8"/>
<path d="M310.9 538V114.9" stroke="#000" stroke-width="2.1"/>
<path d="M310.9 94.9l10.6 21h-21.2z"/>
<path d="M337 561.2H761.8" stroke="#000" stroke-width="2.1"/>
<path d="M781.8 561.2l-21 -10.6v21.2z"/>
<text transform="translate(290.5 327) rotate(-90) scale(1 1.04)" font-size="42" text-anchor="middle">V<tspan class="g">γ</tspan>2</text>
<text transform="translate(547 608.5) scale(1 1.04)" font-size="42" text-anchor="middle">V<tspan class="g">γ</tspan>3</text>
<rect x="965.9" y="94.3" width="454.30000000000007" height="453.09999999999997" fill="none" stroke="#000" stroke-width="1.8"/>
<rect x="965.9" y="554.9" width="454.30000000000007" height="452.70000000000005" fill="none" stroke="#000" stroke-width="1.8"/>
<path d="M943.3 1002V578.6" stroke="#000" stroke-width="2.1"/>
<path d="M943.3 558.6l10.6 21h-21.2z"/>
<path d="M965 1025H1389.5" stroke="#000" stroke-width="2.1"/>
<path d="M1409.5 1025l-21 -10.6v21.2z"/>
<text transform="translate(931.5 781) rotate(-90) scale(1 1.04)" font-size="42" text-anchor="middle">CCR9</text>
<text transform="translate(1188 1070.5) scale(1 1.04)" font-size="42" text-anchor="middle">GPR15</text>
<text transform="translate(988 506.2) scale(1 1.04)" font-size="42" text-anchor="start">TCR <tspan class="g">γδ</tspan> + V<tspan class="g">γ</tspan>3+ DETC</text>
<path d="M988.0 512.5h404.7" stroke="#000" stroke-width="2.6"/>
<text transform="translate(1052 966.2) scale(1 1.04)" font-size="42" text-anchor="start">TCR<tspan class="g">γδ</tspan> + V<tspan class="g">γ</tspan>2+</text>
<path d="M1052.0 972.5h267.0" stroke="#000" stroke-width="2.6"/>
<rect x="341.5" y="1145.8" width="453.0" height="452.9000000000001" fill="none" stroke="#000" stroke-width="1.8"/>
<rect x="819.2" y="1145.8" width="451.39999999999986" height="452.9000000000001" fill="none" stroke="#000" stroke-width="1.8"/>
<path d="M347 1615.3H770" stroke="#000" stroke-width="2.1"/>
<path d="M790 1615.3l-21 -10.6v21.2z"/>
<path d="M825 1615.3H1248.5" stroke="#000" stroke-width="2.1"/>
<path d="M1268.5 1615.3l-21 -10.6v21.2z"/>
<text transform="translate(553 1657.5) scale(1 1.04)" font-size="42" text-anchor="middle">GPR15</text>
<text transform="translate(1046 1657.5) scale(1 1.04)" font-size="42" text-anchor="middle">CCR9</text>
<text x="1289.3" y="1241" font-size="42.6" text-anchor="start">Isotype</text>
<path d="M1289.3 1247.3h137.3" stroke="#000" stroke-width="2.6"/>
<text transform="translate(1289.3 1332) scale(1 1.04)" font-size="42.6" text-anchor="start">TCR<tspan class="g">γδ</tspan> + V<tspan class="g">γ</tspan>2+</text>
<path d="M1289.3 1338.3h270.8" stroke="#000" stroke-width="2.6"/>
<text transform="translate(1289.3 1399.8) scale(1 1.04)" font-size="42.6" text-anchor="start">TCR <tspan class="g">γδ</tspan> + V<tspan class="g">γ</tspan>3+ DETC</text>
<path d="M1289.3 1406.1h410.4" stroke="#000" stroke-width="2.6"/>
<text transform="translate(1289.3 1462.8) scale(1 1.04)" font-size="42.6" text-anchor="start">DN2</text>
<path d="M1289.3 1469.1h85.2" stroke="#000" stroke-width="2.6"/>
<text x="1289.3" y="1528.6" font-size="42.6" text-anchor="start">Gut homing (<tspan class="g2">α</tspan>4<tspan class="g2">β</tspan>7+) IELp</text>
<path d="M1289.3 1534.9h480.2" stroke="#000" stroke-width="2.6"/>
<text transform="translate(1289.3 1591) scale(1 1.04)" font-size="42.6" text-anchor="start">DN3</text>
<path d="M1289.3 1597.3h85.2" stroke="#000" stroke-width="2.6"/>
</svg>
</body></html>
